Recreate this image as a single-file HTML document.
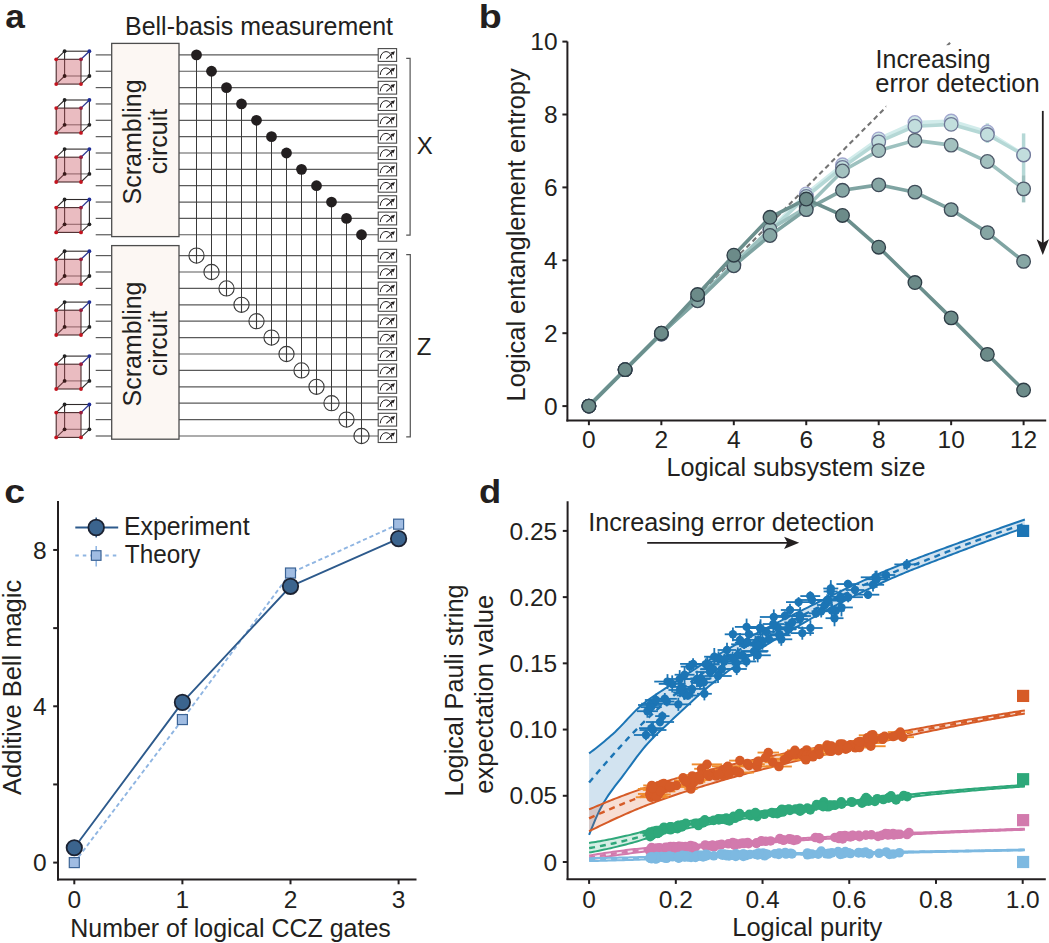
<!DOCTYPE html>
<html><head><meta charset="utf-8"><style>
html,body{margin:0;padding:0;background:#fff;}
svg{display:block;font-family:"Liberation Sans", sans-serif;}
</style></head><body>
<svg width="1049" height="943" viewBox="0 0 1049 943">
<rect width="1049" height="943" fill="#ffffff"/>
<text x="5.20" y="28.40" font-size="33.5" fill="#231f20" font-weight="bold" textLength="19.6" lengthAdjust="spacingAndGlyphs" >a</text>
<text x="125.00" y="35.20" font-size="25" fill="#231f20" textLength="268" lengthAdjust="spacingAndGlyphs" >Bell-basis measurement</text>
<line x1="95.70" y1="54.90" x2="111.70" y2="54.90" stroke="#5a5a5a" stroke-width="1.2" />
<line x1="179.00" y1="54.90" x2="378.20" y2="54.90" stroke="#5a5a5a" stroke-width="1.2" />
<line x1="95.70" y1="71.25" x2="111.70" y2="71.25" stroke="#5a5a5a" stroke-width="1.2" />
<line x1="179.00" y1="71.25" x2="378.20" y2="71.25" stroke="#5a5a5a" stroke-width="1.2" />
<line x1="95.70" y1="87.60" x2="111.70" y2="87.60" stroke="#5a5a5a" stroke-width="1.2" />
<line x1="179.00" y1="87.60" x2="378.20" y2="87.60" stroke="#5a5a5a" stroke-width="1.2" />
<line x1="95.70" y1="103.95" x2="111.70" y2="103.95" stroke="#5a5a5a" stroke-width="1.2" />
<line x1="179.00" y1="103.95" x2="378.20" y2="103.95" stroke="#5a5a5a" stroke-width="1.2" />
<line x1="95.70" y1="120.30" x2="111.70" y2="120.30" stroke="#5a5a5a" stroke-width="1.2" />
<line x1="179.00" y1="120.30" x2="378.20" y2="120.30" stroke="#5a5a5a" stroke-width="1.2" />
<line x1="95.70" y1="136.65" x2="111.70" y2="136.65" stroke="#5a5a5a" stroke-width="1.2" />
<line x1="179.00" y1="136.65" x2="378.20" y2="136.65" stroke="#5a5a5a" stroke-width="1.2" />
<line x1="95.70" y1="153.00" x2="111.70" y2="153.00" stroke="#5a5a5a" stroke-width="1.2" />
<line x1="179.00" y1="153.00" x2="378.20" y2="153.00" stroke="#5a5a5a" stroke-width="1.2" />
<line x1="95.70" y1="169.35" x2="111.70" y2="169.35" stroke="#5a5a5a" stroke-width="1.2" />
<line x1="179.00" y1="169.35" x2="378.20" y2="169.35" stroke="#5a5a5a" stroke-width="1.2" />
<line x1="95.70" y1="185.70" x2="111.70" y2="185.70" stroke="#5a5a5a" stroke-width="1.2" />
<line x1="179.00" y1="185.70" x2="378.20" y2="185.70" stroke="#5a5a5a" stroke-width="1.2" />
<line x1="95.70" y1="202.05" x2="111.70" y2="202.05" stroke="#5a5a5a" stroke-width="1.2" />
<line x1="179.00" y1="202.05" x2="378.20" y2="202.05" stroke="#5a5a5a" stroke-width="1.2" />
<line x1="95.70" y1="218.40" x2="111.70" y2="218.40" stroke="#5a5a5a" stroke-width="1.2" />
<line x1="179.00" y1="218.40" x2="378.20" y2="218.40" stroke="#5a5a5a" stroke-width="1.2" />
<line x1="95.70" y1="234.75" x2="111.70" y2="234.75" stroke="#5a5a5a" stroke-width="1.2" />
<line x1="179.00" y1="234.75" x2="378.20" y2="234.75" stroke="#5a5a5a" stroke-width="1.2" />
<line x1="95.70" y1="255.60" x2="111.70" y2="255.60" stroke="#5a5a5a" stroke-width="1.2" />
<line x1="179.00" y1="255.60" x2="378.20" y2="255.60" stroke="#5a5a5a" stroke-width="1.2" />
<line x1="95.70" y1="272.00" x2="111.70" y2="272.00" stroke="#5a5a5a" stroke-width="1.2" />
<line x1="179.00" y1="272.00" x2="378.20" y2="272.00" stroke="#5a5a5a" stroke-width="1.2" />
<line x1="95.70" y1="288.40" x2="111.70" y2="288.40" stroke="#5a5a5a" stroke-width="1.2" />
<line x1="179.00" y1="288.40" x2="378.20" y2="288.40" stroke="#5a5a5a" stroke-width="1.2" />
<line x1="95.70" y1="304.80" x2="111.70" y2="304.80" stroke="#5a5a5a" stroke-width="1.2" />
<line x1="179.00" y1="304.80" x2="378.20" y2="304.80" stroke="#5a5a5a" stroke-width="1.2" />
<line x1="95.70" y1="321.20" x2="111.70" y2="321.20" stroke="#5a5a5a" stroke-width="1.2" />
<line x1="179.00" y1="321.20" x2="378.20" y2="321.20" stroke="#5a5a5a" stroke-width="1.2" />
<line x1="95.70" y1="337.60" x2="111.70" y2="337.60" stroke="#5a5a5a" stroke-width="1.2" />
<line x1="179.00" y1="337.60" x2="378.20" y2="337.60" stroke="#5a5a5a" stroke-width="1.2" />
<line x1="95.70" y1="354.00" x2="111.70" y2="354.00" stroke="#5a5a5a" stroke-width="1.2" />
<line x1="179.00" y1="354.00" x2="378.20" y2="354.00" stroke="#5a5a5a" stroke-width="1.2" />
<line x1="95.70" y1="370.40" x2="111.70" y2="370.40" stroke="#5a5a5a" stroke-width="1.2" />
<line x1="179.00" y1="370.40" x2="378.20" y2="370.40" stroke="#5a5a5a" stroke-width="1.2" />
<line x1="95.70" y1="386.80" x2="111.70" y2="386.80" stroke="#5a5a5a" stroke-width="1.2" />
<line x1="179.00" y1="386.80" x2="378.20" y2="386.80" stroke="#5a5a5a" stroke-width="1.2" />
<line x1="95.70" y1="403.20" x2="111.70" y2="403.20" stroke="#5a5a5a" stroke-width="1.2" />
<line x1="179.00" y1="403.20" x2="378.20" y2="403.20" stroke="#5a5a5a" stroke-width="1.2" />
<line x1="95.70" y1="419.60" x2="111.70" y2="419.60" stroke="#5a5a5a" stroke-width="1.2" />
<line x1="179.00" y1="419.60" x2="378.20" y2="419.60" stroke="#5a5a5a" stroke-width="1.2" />
<line x1="95.70" y1="436.00" x2="111.70" y2="436.00" stroke="#5a5a5a" stroke-width="1.2" />
<line x1="179.00" y1="436.00" x2="378.20" y2="436.00" stroke="#5a5a5a" stroke-width="1.2" />
<rect x="111.70" y="43.40" width="67.30" height="193.20" fill="#fcf7f3" stroke="#4d4d4d" stroke-width="1.3" />
<rect x="111.70" y="245.60" width="67.30" height="193.60" fill="#fcf7f3" stroke="#4d4d4d" stroke-width="1.3" />
<text transform="translate(141.40,141.90) rotate(-90)" font-size="25" fill="#231f20" text-anchor="middle" >Scrambling</text>
<text transform="translate(166.80,141.50) rotate(-90)" font-size="25" fill="#231f20" text-anchor="middle" >circuit</text>
<text transform="translate(141.40,344.00) rotate(-90)" font-size="25" fill="#231f20" text-anchor="middle" >Scrambling</text>
<text transform="translate(166.80,343.50) rotate(-90)" font-size="25" fill="#231f20" text-anchor="middle" >circuit</text>
<line x1="196.50" y1="54.90" x2="196.50" y2="263.30" stroke="#3a3a3a" stroke-width="1.05" />
<line x1="211.50" y1="71.25" x2="211.50" y2="279.70" stroke="#3a3a3a" stroke-width="1.05" />
<line x1="226.50" y1="87.60" x2="226.50" y2="296.10" stroke="#3a3a3a" stroke-width="1.05" />
<line x1="241.50" y1="103.95" x2="241.50" y2="312.50" stroke="#3a3a3a" stroke-width="1.05" />
<line x1="256.50" y1="120.30" x2="256.50" y2="328.90" stroke="#3a3a3a" stroke-width="1.05" />
<line x1="271.50" y1="136.65" x2="271.50" y2="345.30" stroke="#3a3a3a" stroke-width="1.05" />
<line x1="286.50" y1="153.00" x2="286.50" y2="361.70" stroke="#3a3a3a" stroke-width="1.05" />
<line x1="301.50" y1="169.35" x2="301.50" y2="378.10" stroke="#3a3a3a" stroke-width="1.05" />
<line x1="316.50" y1="185.70" x2="316.50" y2="394.50" stroke="#3a3a3a" stroke-width="1.05" />
<line x1="331.50" y1="202.05" x2="331.50" y2="410.90" stroke="#3a3a3a" stroke-width="1.05" />
<line x1="346.50" y1="218.40" x2="346.50" y2="427.30" stroke="#3a3a3a" stroke-width="1.05" />
<line x1="361.50" y1="234.75" x2="361.50" y2="443.70" stroke="#3a3a3a" stroke-width="1.05" />
<circle cx="196.50" cy="54.90" r="5.4" fill="#231f20" stroke="none" stroke-width="1" />
<circle cx="196.50" cy="255.60" r="7.6" fill="#ffffff" stroke="#3a3a3a" stroke-width="1.1" />
<line x1="188.90" y1="255.60" x2="204.10" y2="255.60" stroke="#3a3a3a" stroke-width="1.1" />
<line x1="196.50" y1="248.00" x2="196.50" y2="263.20" stroke="#3a3a3a" stroke-width="1.1" />
<circle cx="211.50" cy="71.25" r="5.4" fill="#231f20" stroke="none" stroke-width="1" />
<circle cx="211.50" cy="272.00" r="7.6" fill="#ffffff" stroke="#3a3a3a" stroke-width="1.1" />
<line x1="203.90" y1="272.00" x2="219.10" y2="272.00" stroke="#3a3a3a" stroke-width="1.1" />
<line x1="211.50" y1="264.40" x2="211.50" y2="279.60" stroke="#3a3a3a" stroke-width="1.1" />
<circle cx="226.50" cy="87.60" r="5.4" fill="#231f20" stroke="none" stroke-width="1" />
<circle cx="226.50" cy="288.40" r="7.6" fill="#ffffff" stroke="#3a3a3a" stroke-width="1.1" />
<line x1="218.90" y1="288.40" x2="234.10" y2="288.40" stroke="#3a3a3a" stroke-width="1.1" />
<line x1="226.50" y1="280.80" x2="226.50" y2="296.00" stroke="#3a3a3a" stroke-width="1.1" />
<circle cx="241.50" cy="103.95" r="5.4" fill="#231f20" stroke="none" stroke-width="1" />
<circle cx="241.50" cy="304.80" r="7.6" fill="#ffffff" stroke="#3a3a3a" stroke-width="1.1" />
<line x1="233.90" y1="304.80" x2="249.10" y2="304.80" stroke="#3a3a3a" stroke-width="1.1" />
<line x1="241.50" y1="297.20" x2="241.50" y2="312.40" stroke="#3a3a3a" stroke-width="1.1" />
<circle cx="256.50" cy="120.30" r="5.4" fill="#231f20" stroke="none" stroke-width="1" />
<circle cx="256.50" cy="321.20" r="7.6" fill="#ffffff" stroke="#3a3a3a" stroke-width="1.1" />
<line x1="248.90" y1="321.20" x2="264.10" y2="321.20" stroke="#3a3a3a" stroke-width="1.1" />
<line x1="256.50" y1="313.60" x2="256.50" y2="328.80" stroke="#3a3a3a" stroke-width="1.1" />
<circle cx="271.50" cy="136.65" r="5.4" fill="#231f20" stroke="none" stroke-width="1" />
<circle cx="271.50" cy="337.60" r="7.6" fill="#ffffff" stroke="#3a3a3a" stroke-width="1.1" />
<line x1="263.90" y1="337.60" x2="279.10" y2="337.60" stroke="#3a3a3a" stroke-width="1.1" />
<line x1="271.50" y1="330.00" x2="271.50" y2="345.20" stroke="#3a3a3a" stroke-width="1.1" />
<circle cx="286.50" cy="153.00" r="5.4" fill="#231f20" stroke="none" stroke-width="1" />
<circle cx="286.50" cy="354.00" r="7.6" fill="#ffffff" stroke="#3a3a3a" stroke-width="1.1" />
<line x1="278.90" y1="354.00" x2="294.10" y2="354.00" stroke="#3a3a3a" stroke-width="1.1" />
<line x1="286.50" y1="346.40" x2="286.50" y2="361.60" stroke="#3a3a3a" stroke-width="1.1" />
<circle cx="301.50" cy="169.35" r="5.4" fill="#231f20" stroke="none" stroke-width="1" />
<circle cx="301.50" cy="370.40" r="7.6" fill="#ffffff" stroke="#3a3a3a" stroke-width="1.1" />
<line x1="293.90" y1="370.40" x2="309.10" y2="370.40" stroke="#3a3a3a" stroke-width="1.1" />
<line x1="301.50" y1="362.80" x2="301.50" y2="378.00" stroke="#3a3a3a" stroke-width="1.1" />
<circle cx="316.50" cy="185.70" r="5.4" fill="#231f20" stroke="none" stroke-width="1" />
<circle cx="316.50" cy="386.80" r="7.6" fill="#ffffff" stroke="#3a3a3a" stroke-width="1.1" />
<line x1="308.90" y1="386.80" x2="324.10" y2="386.80" stroke="#3a3a3a" stroke-width="1.1" />
<line x1="316.50" y1="379.20" x2="316.50" y2="394.40" stroke="#3a3a3a" stroke-width="1.1" />
<circle cx="331.50" cy="202.05" r="5.4" fill="#231f20" stroke="none" stroke-width="1" />
<circle cx="331.50" cy="403.20" r="7.6" fill="#ffffff" stroke="#3a3a3a" stroke-width="1.1" />
<line x1="323.90" y1="403.20" x2="339.10" y2="403.20" stroke="#3a3a3a" stroke-width="1.1" />
<line x1="331.50" y1="395.60" x2="331.50" y2="410.80" stroke="#3a3a3a" stroke-width="1.1" />
<circle cx="346.50" cy="218.40" r="5.4" fill="#231f20" stroke="none" stroke-width="1" />
<circle cx="346.50" cy="419.60" r="7.6" fill="#ffffff" stroke="#3a3a3a" stroke-width="1.1" />
<line x1="338.90" y1="419.60" x2="354.10" y2="419.60" stroke="#3a3a3a" stroke-width="1.1" />
<line x1="346.50" y1="412.00" x2="346.50" y2="427.20" stroke="#3a3a3a" stroke-width="1.1" />
<circle cx="361.50" cy="234.75" r="5.4" fill="#231f20" stroke="none" stroke-width="1" />
<circle cx="361.50" cy="436.00" r="7.6" fill="#ffffff" stroke="#3a3a3a" stroke-width="1.1" />
<line x1="353.90" y1="436.00" x2="369.10" y2="436.00" stroke="#3a3a3a" stroke-width="1.1" />
<line x1="361.50" y1="428.40" x2="361.50" y2="443.60" stroke="#3a3a3a" stroke-width="1.1" />
<rect x="378.20" y="48.60" width="18.40" height="12.80" fill="#ffffff" stroke="#4a4a4a" stroke-width="1.1" />
<path d="M380.30,58.60 A5.8,6.9 0 0 1 391.90,58.40" fill="none" stroke="#231f20" stroke-width="1.0"/>
<line x1="386.30" y1="58.60" x2="392.80" y2="53.20" stroke="#231f20" stroke-width="1.1" />
<path d="M395.00,51.30 L390.40,52.40 L393.40,55.30 Z" fill="#231f20"/>
<rect x="378.20" y="64.95" width="18.40" height="12.80" fill="#ffffff" stroke="#4a4a4a" stroke-width="1.1" />
<path d="M380.30,74.95 A5.8,6.9 0 0 1 391.90,74.75" fill="none" stroke="#231f20" stroke-width="1.0"/>
<line x1="386.30" y1="74.95" x2="392.80" y2="69.55" stroke="#231f20" stroke-width="1.1" />
<path d="M395.00,67.65 L390.40,68.75 L393.40,71.65 Z" fill="#231f20"/>
<rect x="378.20" y="81.30" width="18.40" height="12.80" fill="#ffffff" stroke="#4a4a4a" stroke-width="1.1" />
<path d="M380.30,91.30 A5.8,6.9 0 0 1 391.90,91.10" fill="none" stroke="#231f20" stroke-width="1.0"/>
<line x1="386.30" y1="91.30" x2="392.80" y2="85.90" stroke="#231f20" stroke-width="1.1" />
<path d="M395.00,84.00 L390.40,85.10 L393.40,88.00 Z" fill="#231f20"/>
<rect x="378.20" y="97.65" width="18.40" height="12.80" fill="#ffffff" stroke="#4a4a4a" stroke-width="1.1" />
<path d="M380.30,107.65 A5.8,6.9 0 0 1 391.90,107.45" fill="none" stroke="#231f20" stroke-width="1.0"/>
<line x1="386.30" y1="107.65" x2="392.80" y2="102.25" stroke="#231f20" stroke-width="1.1" />
<path d="M395.00,100.35 L390.40,101.45 L393.40,104.35 Z" fill="#231f20"/>
<rect x="378.20" y="114.00" width="18.40" height="12.80" fill="#ffffff" stroke="#4a4a4a" stroke-width="1.1" />
<path d="M380.30,124.00 A5.8,6.9 0 0 1 391.90,123.80" fill="none" stroke="#231f20" stroke-width="1.0"/>
<line x1="386.30" y1="124.00" x2="392.80" y2="118.60" stroke="#231f20" stroke-width="1.1" />
<path d="M395.00,116.70 L390.40,117.80 L393.40,120.70 Z" fill="#231f20"/>
<rect x="378.20" y="130.35" width="18.40" height="12.80" fill="#ffffff" stroke="#4a4a4a" stroke-width="1.1" />
<path d="M380.30,140.35 A5.8,6.9 0 0 1 391.90,140.15" fill="none" stroke="#231f20" stroke-width="1.0"/>
<line x1="386.30" y1="140.35" x2="392.80" y2="134.95" stroke="#231f20" stroke-width="1.1" />
<path d="M395.00,133.05 L390.40,134.15 L393.40,137.05 Z" fill="#231f20"/>
<rect x="378.20" y="146.70" width="18.40" height="12.80" fill="#ffffff" stroke="#4a4a4a" stroke-width="1.1" />
<path d="M380.30,156.70 A5.8,6.9 0 0 1 391.90,156.50" fill="none" stroke="#231f20" stroke-width="1.0"/>
<line x1="386.30" y1="156.70" x2="392.80" y2="151.30" stroke="#231f20" stroke-width="1.1" />
<path d="M395.00,149.40 L390.40,150.50 L393.40,153.40 Z" fill="#231f20"/>
<rect x="378.20" y="163.05" width="18.40" height="12.80" fill="#ffffff" stroke="#4a4a4a" stroke-width="1.1" />
<path d="M380.30,173.05 A5.8,6.9 0 0 1 391.90,172.85" fill="none" stroke="#231f20" stroke-width="1.0"/>
<line x1="386.30" y1="173.05" x2="392.80" y2="167.65" stroke="#231f20" stroke-width="1.1" />
<path d="M395.00,165.75 L390.40,166.85 L393.40,169.75 Z" fill="#231f20"/>
<rect x="378.20" y="179.40" width="18.40" height="12.80" fill="#ffffff" stroke="#4a4a4a" stroke-width="1.1" />
<path d="M380.30,189.40 A5.8,6.9 0 0 1 391.90,189.20" fill="none" stroke="#231f20" stroke-width="1.0"/>
<line x1="386.30" y1="189.40" x2="392.80" y2="184.00" stroke="#231f20" stroke-width="1.1" />
<path d="M395.00,182.10 L390.40,183.20 L393.40,186.10 Z" fill="#231f20"/>
<rect x="378.20" y="195.75" width="18.40" height="12.80" fill="#ffffff" stroke="#4a4a4a" stroke-width="1.1" />
<path d="M380.30,205.75 A5.8,6.9 0 0 1 391.90,205.55" fill="none" stroke="#231f20" stroke-width="1.0"/>
<line x1="386.30" y1="205.75" x2="392.80" y2="200.35" stroke="#231f20" stroke-width="1.1" />
<path d="M395.00,198.45 L390.40,199.55 L393.40,202.45 Z" fill="#231f20"/>
<rect x="378.20" y="212.10" width="18.40" height="12.80" fill="#ffffff" stroke="#4a4a4a" stroke-width="1.1" />
<path d="M380.30,222.10 A5.8,6.9 0 0 1 391.90,221.90" fill="none" stroke="#231f20" stroke-width="1.0"/>
<line x1="386.30" y1="222.10" x2="392.80" y2="216.70" stroke="#231f20" stroke-width="1.1" />
<path d="M395.00,214.80 L390.40,215.90 L393.40,218.80 Z" fill="#231f20"/>
<rect x="378.20" y="228.45" width="18.40" height="12.80" fill="#ffffff" stroke="#4a4a4a" stroke-width="1.1" />
<path d="M380.30,238.45 A5.8,6.9 0 0 1 391.90,238.25" fill="none" stroke="#231f20" stroke-width="1.0"/>
<line x1="386.30" y1="238.45" x2="392.80" y2="233.05" stroke="#231f20" stroke-width="1.1" />
<path d="M395.00,231.15 L390.40,232.25 L393.40,235.15 Z" fill="#231f20"/>
<rect x="378.20" y="249.30" width="18.40" height="12.80" fill="#ffffff" stroke="#4a4a4a" stroke-width="1.1" />
<path d="M380.30,259.30 A5.8,6.9 0 0 1 391.90,259.10" fill="none" stroke="#231f20" stroke-width="1.0"/>
<line x1="386.30" y1="259.30" x2="392.80" y2="253.90" stroke="#231f20" stroke-width="1.1" />
<path d="M395.00,252.00 L390.40,253.10 L393.40,256.00 Z" fill="#231f20"/>
<rect x="378.20" y="265.70" width="18.40" height="12.80" fill="#ffffff" stroke="#4a4a4a" stroke-width="1.1" />
<path d="M380.30,275.70 A5.8,6.9 0 0 1 391.90,275.50" fill="none" stroke="#231f20" stroke-width="1.0"/>
<line x1="386.30" y1="275.70" x2="392.80" y2="270.30" stroke="#231f20" stroke-width="1.1" />
<path d="M395.00,268.40 L390.40,269.50 L393.40,272.40 Z" fill="#231f20"/>
<rect x="378.20" y="282.10" width="18.40" height="12.80" fill="#ffffff" stroke="#4a4a4a" stroke-width="1.1" />
<path d="M380.30,292.10 A5.8,6.9 0 0 1 391.90,291.90" fill="none" stroke="#231f20" stroke-width="1.0"/>
<line x1="386.30" y1="292.10" x2="392.80" y2="286.70" stroke="#231f20" stroke-width="1.1" />
<path d="M395.00,284.80 L390.40,285.90 L393.40,288.80 Z" fill="#231f20"/>
<rect x="378.20" y="298.50" width="18.40" height="12.80" fill="#ffffff" stroke="#4a4a4a" stroke-width="1.1" />
<path d="M380.30,308.50 A5.8,6.9 0 0 1 391.90,308.30" fill="none" stroke="#231f20" stroke-width="1.0"/>
<line x1="386.30" y1="308.50" x2="392.80" y2="303.10" stroke="#231f20" stroke-width="1.1" />
<path d="M395.00,301.20 L390.40,302.30 L393.40,305.20 Z" fill="#231f20"/>
<rect x="378.20" y="314.90" width="18.40" height="12.80" fill="#ffffff" stroke="#4a4a4a" stroke-width="1.1" />
<path d="M380.30,324.90 A5.8,6.9 0 0 1 391.90,324.70" fill="none" stroke="#231f20" stroke-width="1.0"/>
<line x1="386.30" y1="324.90" x2="392.80" y2="319.50" stroke="#231f20" stroke-width="1.1" />
<path d="M395.00,317.60 L390.40,318.70 L393.40,321.60 Z" fill="#231f20"/>
<rect x="378.20" y="331.30" width="18.40" height="12.80" fill="#ffffff" stroke="#4a4a4a" stroke-width="1.1" />
<path d="M380.30,341.30 A5.8,6.9 0 0 1 391.90,341.10" fill="none" stroke="#231f20" stroke-width="1.0"/>
<line x1="386.30" y1="341.30" x2="392.80" y2="335.90" stroke="#231f20" stroke-width="1.1" />
<path d="M395.00,334.00 L390.40,335.10 L393.40,338.00 Z" fill="#231f20"/>
<rect x="378.20" y="347.70" width="18.40" height="12.80" fill="#ffffff" stroke="#4a4a4a" stroke-width="1.1" />
<path d="M380.30,357.70 A5.8,6.9 0 0 1 391.90,357.50" fill="none" stroke="#231f20" stroke-width="1.0"/>
<line x1="386.30" y1="357.70" x2="392.80" y2="352.30" stroke="#231f20" stroke-width="1.1" />
<path d="M395.00,350.40 L390.40,351.50 L393.40,354.40 Z" fill="#231f20"/>
<rect x="378.20" y="364.10" width="18.40" height="12.80" fill="#ffffff" stroke="#4a4a4a" stroke-width="1.1" />
<path d="M380.30,374.10 A5.8,6.9 0 0 1 391.90,373.90" fill="none" stroke="#231f20" stroke-width="1.0"/>
<line x1="386.30" y1="374.10" x2="392.80" y2="368.70" stroke="#231f20" stroke-width="1.1" />
<path d="M395.00,366.80 L390.40,367.90 L393.40,370.80 Z" fill="#231f20"/>
<rect x="378.20" y="380.50" width="18.40" height="12.80" fill="#ffffff" stroke="#4a4a4a" stroke-width="1.1" />
<path d="M380.30,390.50 A5.8,6.9 0 0 1 391.90,390.30" fill="none" stroke="#231f20" stroke-width="1.0"/>
<line x1="386.30" y1="390.50" x2="392.80" y2="385.10" stroke="#231f20" stroke-width="1.1" />
<path d="M395.00,383.20 L390.40,384.30 L393.40,387.20 Z" fill="#231f20"/>
<rect x="378.20" y="396.90" width="18.40" height="12.80" fill="#ffffff" stroke="#4a4a4a" stroke-width="1.1" />
<path d="M380.30,406.90 A5.8,6.9 0 0 1 391.90,406.70" fill="none" stroke="#231f20" stroke-width="1.0"/>
<line x1="386.30" y1="406.90" x2="392.80" y2="401.50" stroke="#231f20" stroke-width="1.1" />
<path d="M395.00,399.60 L390.40,400.70 L393.40,403.60 Z" fill="#231f20"/>
<rect x="378.20" y="413.30" width="18.40" height="12.80" fill="#ffffff" stroke="#4a4a4a" stroke-width="1.1" />
<path d="M380.30,423.30 A5.8,6.9 0 0 1 391.90,423.10" fill="none" stroke="#231f20" stroke-width="1.0"/>
<line x1="386.30" y1="423.30" x2="392.80" y2="417.90" stroke="#231f20" stroke-width="1.1" />
<path d="M395.00,416.00 L390.40,417.10 L393.40,420.00 Z" fill="#231f20"/>
<rect x="378.20" y="429.70" width="18.40" height="12.80" fill="#ffffff" stroke="#4a4a4a" stroke-width="1.1" />
<path d="M380.30,439.70 A5.8,6.9 0 0 1 391.90,439.50" fill="none" stroke="#231f20" stroke-width="1.0"/>
<line x1="386.30" y1="439.70" x2="392.80" y2="434.30" stroke="#231f20" stroke-width="1.1" />
<path d="M395.00,432.40 L390.40,433.50 L393.40,436.40 Z" fill="#231f20"/>
<path d="M406.2,58.4 H410.1 V235.2 H406.2" fill="none" stroke="#555555" stroke-width="1.2"/>
<path d="M406.2,254.7 H410.3 V436.8 H406.2" fill="none" stroke="#555555" stroke-width="1.2"/>
<text x="416.80" y="154.10" font-size="24" fill="#231f20" >X</text>
<text x="416.80" y="354.80" font-size="24" fill="#231f20" >Z</text>
<line x1="64.60" y1="51.20" x2="89.40" y2="51.20" stroke="#2f2a2a" stroke-width="1.1" />
<line x1="89.40" y1="51.20" x2="89.40" y2="76.00" stroke="#2f2a2a" stroke-width="1.1" />
<line x1="64.60" y1="51.20" x2="64.60" y2="76.00" stroke="#2f2a2a" stroke-width="1.1" />
<line x1="64.60" y1="76.00" x2="89.40" y2="76.00" stroke="#777" stroke-width="1.1" />
<line x1="56.20" y1="59.30" x2="64.60" y2="51.20" stroke="#2f2a2a" stroke-width="1.1" />
<line x1="56.20" y1="84.10" x2="64.60" y2="76.00" stroke="#2f2a2a" stroke-width="1.1" />
<line x1="81.00" y1="84.10" x2="89.40" y2="76.00" stroke="#2f2a2a" stroke-width="1.1" />
<line x1="81.00" y1="59.30" x2="89.40" y2="51.20" stroke="#2b3590" stroke-width="1.3" />
<rect x="56.20" y="59.30" width="24.8" height="24.8" fill="#c8505c" fill-opacity="0.38" stroke="#4a2a2d" stroke-width="1.1"/>
<circle cx="64.60" cy="51.20" r="1.9" fill="#222" stroke="none" stroke-width="1" />
<circle cx="64.60" cy="76.00" r="1.9" fill="#3a1a1a" stroke="none" stroke-width="1" />
<circle cx="89.40" cy="76.00" r="1.9" fill="#222" stroke="none" stroke-width="1" />
<circle cx="89.40" cy="51.20" r="1.9" fill="#1f2d96" stroke="none" stroke-width="1" />
<circle cx="56.20" cy="59.30" r="1.9" fill="#c3141f" stroke="none" stroke-width="1" />
<circle cx="56.20" cy="84.10" r="1.9" fill="#c3141f" stroke="none" stroke-width="1" />
<circle cx="81.00" cy="84.10" r="1.9" fill="#c3141f" stroke="none" stroke-width="1" />
<circle cx="81.00" cy="59.30" r="1.9" fill="#9a1a3a" stroke="none" stroke-width="1" />
<line x1="64.60" y1="100.00" x2="89.40" y2="100.00" stroke="#2f2a2a" stroke-width="1.1" />
<line x1="89.40" y1="100.00" x2="89.40" y2="124.80" stroke="#2f2a2a" stroke-width="1.1" />
<line x1="64.60" y1="100.00" x2="64.60" y2="124.80" stroke="#2f2a2a" stroke-width="1.1" />
<line x1="64.60" y1="124.80" x2="89.40" y2="124.80" stroke="#777" stroke-width="1.1" />
<line x1="56.20" y1="108.10" x2="64.60" y2="100.00" stroke="#2f2a2a" stroke-width="1.1" />
<line x1="56.20" y1="132.90" x2="64.60" y2="124.80" stroke="#2f2a2a" stroke-width="1.1" />
<line x1="81.00" y1="132.90" x2="89.40" y2="124.80" stroke="#2f2a2a" stroke-width="1.1" />
<line x1="81.00" y1="108.10" x2="89.40" y2="100.00" stroke="#2b3590" stroke-width="1.3" />
<rect x="56.20" y="108.10" width="24.8" height="24.8" fill="#c8505c" fill-opacity="0.38" stroke="#4a2a2d" stroke-width="1.1"/>
<circle cx="64.60" cy="100.00" r="1.9" fill="#222" stroke="none" stroke-width="1" />
<circle cx="64.60" cy="124.80" r="1.9" fill="#3a1a1a" stroke="none" stroke-width="1" />
<circle cx="89.40" cy="124.80" r="1.9" fill="#222" stroke="none" stroke-width="1" />
<circle cx="89.40" cy="100.00" r="1.9" fill="#1f2d96" stroke="none" stroke-width="1" />
<circle cx="56.20" cy="108.10" r="1.9" fill="#c3141f" stroke="none" stroke-width="1" />
<circle cx="56.20" cy="132.90" r="1.9" fill="#c3141f" stroke="none" stroke-width="1" />
<circle cx="81.00" cy="132.90" r="1.9" fill="#c3141f" stroke="none" stroke-width="1" />
<circle cx="81.00" cy="108.10" r="1.9" fill="#9a1a3a" stroke="none" stroke-width="1" />
<line x1="64.60" y1="149.10" x2="89.40" y2="149.10" stroke="#2f2a2a" stroke-width="1.1" />
<line x1="89.40" y1="149.10" x2="89.40" y2="173.90" stroke="#2f2a2a" stroke-width="1.1" />
<line x1="64.60" y1="149.10" x2="64.60" y2="173.90" stroke="#2f2a2a" stroke-width="1.1" />
<line x1="64.60" y1="173.90" x2="89.40" y2="173.90" stroke="#777" stroke-width="1.1" />
<line x1="56.20" y1="157.20" x2="64.60" y2="149.10" stroke="#2f2a2a" stroke-width="1.1" />
<line x1="56.20" y1="182.00" x2="64.60" y2="173.90" stroke="#2f2a2a" stroke-width="1.1" />
<line x1="81.00" y1="182.00" x2="89.40" y2="173.90" stroke="#2f2a2a" stroke-width="1.1" />
<line x1="81.00" y1="157.20" x2="89.40" y2="149.10" stroke="#2b3590" stroke-width="1.3" />
<rect x="56.20" y="157.20" width="24.8" height="24.8" fill="#c8505c" fill-opacity="0.38" stroke="#4a2a2d" stroke-width="1.1"/>
<circle cx="64.60" cy="149.10" r="1.9" fill="#222" stroke="none" stroke-width="1" />
<circle cx="64.60" cy="173.90" r="1.9" fill="#3a1a1a" stroke="none" stroke-width="1" />
<circle cx="89.40" cy="173.90" r="1.9" fill="#222" stroke="none" stroke-width="1" />
<circle cx="89.40" cy="149.10" r="1.9" fill="#1f2d96" stroke="none" stroke-width="1" />
<circle cx="56.20" cy="157.20" r="1.9" fill="#c3141f" stroke="none" stroke-width="1" />
<circle cx="56.20" cy="182.00" r="1.9" fill="#c3141f" stroke="none" stroke-width="1" />
<circle cx="81.00" cy="182.00" r="1.9" fill="#c3141f" stroke="none" stroke-width="1" />
<circle cx="81.00" cy="157.20" r="1.9" fill="#9a1a3a" stroke="none" stroke-width="1" />
<line x1="64.60" y1="199.50" x2="89.40" y2="199.50" stroke="#2f2a2a" stroke-width="1.1" />
<line x1="89.40" y1="199.50" x2="89.40" y2="224.30" stroke="#2f2a2a" stroke-width="1.1" />
<line x1="64.60" y1="199.50" x2="64.60" y2="224.30" stroke="#2f2a2a" stroke-width="1.1" />
<line x1="64.60" y1="224.30" x2="89.40" y2="224.30" stroke="#777" stroke-width="1.1" />
<line x1="56.20" y1="207.60" x2="64.60" y2="199.50" stroke="#2f2a2a" stroke-width="1.1" />
<line x1="56.20" y1="232.40" x2="64.60" y2="224.30" stroke="#2f2a2a" stroke-width="1.1" />
<line x1="81.00" y1="232.40" x2="89.40" y2="224.30" stroke="#2f2a2a" stroke-width="1.1" />
<line x1="81.00" y1="207.60" x2="89.40" y2="199.50" stroke="#2b3590" stroke-width="1.3" />
<rect x="56.20" y="207.60" width="24.8" height="24.8" fill="#c8505c" fill-opacity="0.38" stroke="#4a2a2d" stroke-width="1.1"/>
<circle cx="64.60" cy="199.50" r="1.9" fill="#222" stroke="none" stroke-width="1" />
<circle cx="64.60" cy="224.30" r="1.9" fill="#3a1a1a" stroke="none" stroke-width="1" />
<circle cx="89.40" cy="224.30" r="1.9" fill="#222" stroke="none" stroke-width="1" />
<circle cx="89.40" cy="199.50" r="1.9" fill="#1f2d96" stroke="none" stroke-width="1" />
<circle cx="56.20" cy="207.60" r="1.9" fill="#c3141f" stroke="none" stroke-width="1" />
<circle cx="56.20" cy="232.40" r="1.9" fill="#c3141f" stroke="none" stroke-width="1" />
<circle cx="81.00" cy="232.40" r="1.9" fill="#c3141f" stroke="none" stroke-width="1" />
<circle cx="81.00" cy="207.60" r="1.9" fill="#9a1a3a" stroke="none" stroke-width="1" />
<line x1="64.60" y1="251.20" x2="89.40" y2="251.20" stroke="#2f2a2a" stroke-width="1.1" />
<line x1="89.40" y1="251.20" x2="89.40" y2="276.00" stroke="#2f2a2a" stroke-width="1.1" />
<line x1="64.60" y1="251.20" x2="64.60" y2="276.00" stroke="#2f2a2a" stroke-width="1.1" />
<line x1="64.60" y1="276.00" x2="89.40" y2="276.00" stroke="#777" stroke-width="1.1" />
<line x1="56.20" y1="259.30" x2="64.60" y2="251.20" stroke="#2f2a2a" stroke-width="1.1" />
<line x1="56.20" y1="284.10" x2="64.60" y2="276.00" stroke="#2f2a2a" stroke-width="1.1" />
<line x1="81.00" y1="284.10" x2="89.40" y2="276.00" stroke="#2f2a2a" stroke-width="1.1" />
<line x1="81.00" y1="259.30" x2="89.40" y2="251.20" stroke="#2b3590" stroke-width="1.3" />
<rect x="56.20" y="259.30" width="24.8" height="24.8" fill="#c8505c" fill-opacity="0.38" stroke="#4a2a2d" stroke-width="1.1"/>
<circle cx="64.60" cy="251.20" r="1.9" fill="#222" stroke="none" stroke-width="1" />
<circle cx="64.60" cy="276.00" r="1.9" fill="#3a1a1a" stroke="none" stroke-width="1" />
<circle cx="89.40" cy="276.00" r="1.9" fill="#222" stroke="none" stroke-width="1" />
<circle cx="89.40" cy="251.20" r="1.9" fill="#1f2d96" stroke="none" stroke-width="1" />
<circle cx="56.20" cy="259.30" r="1.9" fill="#c3141f" stroke="none" stroke-width="1" />
<circle cx="56.20" cy="284.10" r="1.9" fill="#c3141f" stroke="none" stroke-width="1" />
<circle cx="81.00" cy="284.10" r="1.9" fill="#c3141f" stroke="none" stroke-width="1" />
<circle cx="81.00" cy="259.30" r="1.9" fill="#9a1a3a" stroke="none" stroke-width="1" />
<line x1="64.60" y1="302.10" x2="89.40" y2="302.10" stroke="#2f2a2a" stroke-width="1.1" />
<line x1="89.40" y1="302.10" x2="89.40" y2="326.90" stroke="#2f2a2a" stroke-width="1.1" />
<line x1="64.60" y1="302.10" x2="64.60" y2="326.90" stroke="#2f2a2a" stroke-width="1.1" />
<line x1="64.60" y1="326.90" x2="89.40" y2="326.90" stroke="#777" stroke-width="1.1" />
<line x1="56.20" y1="310.20" x2="64.60" y2="302.10" stroke="#2f2a2a" stroke-width="1.1" />
<line x1="56.20" y1="335.00" x2="64.60" y2="326.90" stroke="#2f2a2a" stroke-width="1.1" />
<line x1="81.00" y1="335.00" x2="89.40" y2="326.90" stroke="#2f2a2a" stroke-width="1.1" />
<line x1="81.00" y1="310.20" x2="89.40" y2="302.10" stroke="#2b3590" stroke-width="1.3" />
<rect x="56.20" y="310.20" width="24.8" height="24.8" fill="#c8505c" fill-opacity="0.38" stroke="#4a2a2d" stroke-width="1.1"/>
<circle cx="64.60" cy="302.10" r="1.9" fill="#222" stroke="none" stroke-width="1" />
<circle cx="64.60" cy="326.90" r="1.9" fill="#3a1a1a" stroke="none" stroke-width="1" />
<circle cx="89.40" cy="326.90" r="1.9" fill="#222" stroke="none" stroke-width="1" />
<circle cx="89.40" cy="302.10" r="1.9" fill="#1f2d96" stroke="none" stroke-width="1" />
<circle cx="56.20" cy="310.20" r="1.9" fill="#c3141f" stroke="none" stroke-width="1" />
<circle cx="56.20" cy="335.00" r="1.9" fill="#c3141f" stroke="none" stroke-width="1" />
<circle cx="81.00" cy="335.00" r="1.9" fill="#c3141f" stroke="none" stroke-width="1" />
<circle cx="81.00" cy="310.20" r="1.9" fill="#9a1a3a" stroke="none" stroke-width="1" />
<line x1="64.60" y1="356.10" x2="89.40" y2="356.10" stroke="#2f2a2a" stroke-width="1.1" />
<line x1="89.40" y1="356.10" x2="89.40" y2="380.90" stroke="#2f2a2a" stroke-width="1.1" />
<line x1="64.60" y1="356.10" x2="64.60" y2="380.90" stroke="#2f2a2a" stroke-width="1.1" />
<line x1="64.60" y1="380.90" x2="89.40" y2="380.90" stroke="#777" stroke-width="1.1" />
<line x1="56.20" y1="364.20" x2="64.60" y2="356.10" stroke="#2f2a2a" stroke-width="1.1" />
<line x1="56.20" y1="389.00" x2="64.60" y2="380.90" stroke="#2f2a2a" stroke-width="1.1" />
<line x1="81.00" y1="389.00" x2="89.40" y2="380.90" stroke="#2f2a2a" stroke-width="1.1" />
<line x1="81.00" y1="364.20" x2="89.40" y2="356.10" stroke="#2b3590" stroke-width="1.3" />
<rect x="56.20" y="364.20" width="24.8" height="24.8" fill="#c8505c" fill-opacity="0.38" stroke="#4a2a2d" stroke-width="1.1"/>
<circle cx="64.60" cy="356.10" r="1.9" fill="#222" stroke="none" stroke-width="1" />
<circle cx="64.60" cy="380.90" r="1.9" fill="#3a1a1a" stroke="none" stroke-width="1" />
<circle cx="89.40" cy="380.90" r="1.9" fill="#222" stroke="none" stroke-width="1" />
<circle cx="89.40" cy="356.10" r="1.9" fill="#1f2d96" stroke="none" stroke-width="1" />
<circle cx="56.20" cy="364.20" r="1.9" fill="#c3141f" stroke="none" stroke-width="1" />
<circle cx="56.20" cy="389.00" r="1.9" fill="#c3141f" stroke="none" stroke-width="1" />
<circle cx="81.00" cy="389.00" r="1.9" fill="#c3141f" stroke="none" stroke-width="1" />
<circle cx="81.00" cy="364.20" r="1.9" fill="#9a1a3a" stroke="none" stroke-width="1" />
<line x1="64.60" y1="404.50" x2="89.40" y2="404.50" stroke="#2f2a2a" stroke-width="1.1" />
<line x1="89.40" y1="404.50" x2="89.40" y2="429.30" stroke="#2f2a2a" stroke-width="1.1" />
<line x1="64.60" y1="404.50" x2="64.60" y2="429.30" stroke="#2f2a2a" stroke-width="1.1" />
<line x1="64.60" y1="429.30" x2="89.40" y2="429.30" stroke="#777" stroke-width="1.1" />
<line x1="56.20" y1="412.60" x2="64.60" y2="404.50" stroke="#2f2a2a" stroke-width="1.1" />
<line x1="56.20" y1="437.40" x2="64.60" y2="429.30" stroke="#2f2a2a" stroke-width="1.1" />
<line x1="81.00" y1="437.40" x2="89.40" y2="429.30" stroke="#2f2a2a" stroke-width="1.1" />
<line x1="81.00" y1="412.60" x2="89.40" y2="404.50" stroke="#2b3590" stroke-width="1.3" />
<rect x="56.20" y="412.60" width="24.8" height="24.8" fill="#c8505c" fill-opacity="0.38" stroke="#4a2a2d" stroke-width="1.1"/>
<circle cx="64.60" cy="404.50" r="1.9" fill="#222" stroke="none" stroke-width="1" />
<circle cx="64.60" cy="429.30" r="1.9" fill="#3a1a1a" stroke="none" stroke-width="1" />
<circle cx="89.40" cy="429.30" r="1.9" fill="#222" stroke="none" stroke-width="1" />
<circle cx="89.40" cy="404.50" r="1.9" fill="#1f2d96" stroke="none" stroke-width="1" />
<circle cx="56.20" cy="412.60" r="1.9" fill="#c3141f" stroke="none" stroke-width="1" />
<circle cx="56.20" cy="437.40" r="1.9" fill="#c3141f" stroke="none" stroke-width="1" />
<circle cx="81.00" cy="437.40" r="1.9" fill="#c3141f" stroke="none" stroke-width="1" />
<circle cx="81.00" cy="412.60" r="1.9" fill="#9a1a3a" stroke="none" stroke-width="1" />
<text x="478.80" y="28.00" font-size="33" fill="#231f20" font-weight="bold" textLength="23.0" lengthAdjust="spacingAndGlyphs" >b</text>
<line x1="567.40" y1="41.40" x2="567.40" y2="421.40" stroke="#231f20" stroke-width="2" />
<line x1="566.40" y1="420.40" x2="1046.20" y2="420.40" stroke="#231f20" stroke-width="2" />
<line x1="562.40" y1="406.10" x2="567.40" y2="406.10" stroke="#231f20" stroke-width="2" />
<text x="557.60" y="414.90" font-size="24.5" fill="#231f20" text-anchor="end" >0</text>
<line x1="562.40" y1="333.20" x2="567.40" y2="333.20" stroke="#231f20" stroke-width="2" />
<text x="557.60" y="342.00" font-size="24.5" fill="#231f20" text-anchor="end" >2</text>
<line x1="562.40" y1="260.30" x2="567.40" y2="260.30" stroke="#231f20" stroke-width="2" />
<text x="557.60" y="269.10" font-size="24.5" fill="#231f20" text-anchor="end" >4</text>
<line x1="562.40" y1="187.40" x2="567.40" y2="187.40" stroke="#231f20" stroke-width="2" />
<text x="557.60" y="196.20" font-size="24.5" fill="#231f20" text-anchor="end" >6</text>
<line x1="562.40" y1="114.50" x2="567.40" y2="114.50" stroke="#231f20" stroke-width="2" />
<text x="557.60" y="123.30" font-size="24.5" fill="#231f20" text-anchor="end" >8</text>
<line x1="562.40" y1="41.60" x2="567.40" y2="41.60" stroke="#231f20" stroke-width="2" />
<text x="557.60" y="50.40" font-size="24.5" fill="#231f20" text-anchor="end" >10</text>
<line x1="588.90" y1="420.40" x2="588.90" y2="425.20" stroke="#231f20" stroke-width="2" />
<text x="588.90" y="447.90" font-size="24.5" fill="#231f20" text-anchor="middle" >0</text>
<line x1="661.35" y1="420.40" x2="661.35" y2="425.20" stroke="#231f20" stroke-width="2" />
<text x="661.35" y="447.90" font-size="24.5" fill="#231f20" text-anchor="middle" >2</text>
<line x1="733.80" y1="420.40" x2="733.80" y2="425.20" stroke="#231f20" stroke-width="2" />
<text x="733.80" y="447.90" font-size="24.5" fill="#231f20" text-anchor="middle" >4</text>
<line x1="806.25" y1="420.40" x2="806.25" y2="425.20" stroke="#231f20" stroke-width="2" />
<text x="806.25" y="447.90" font-size="24.5" fill="#231f20" text-anchor="middle" >6</text>
<line x1="878.70" y1="420.40" x2="878.70" y2="425.20" stroke="#231f20" stroke-width="2" />
<text x="878.70" y="447.90" font-size="24.5" fill="#231f20" text-anchor="middle" >8</text>
<line x1="951.15" y1="420.40" x2="951.15" y2="425.20" stroke="#231f20" stroke-width="2" />
<text x="951.15" y="447.90" font-size="24.5" fill="#231f20" text-anchor="middle" >10</text>
<line x1="1023.60" y1="420.40" x2="1023.60" y2="425.20" stroke="#231f20" stroke-width="2" />
<text x="1023.60" y="447.90" font-size="24.5" fill="#231f20" text-anchor="middle" >12</text>
<text x="666.40" y="475.60" font-size="25" fill="#231f20" textLength="259" lengthAdjust="spacingAndGlyphs" >Logical subsystem size</text>
<text transform="translate(524.50,234.90) rotate(-90)" font-size="25" fill="#231f20" text-anchor="middle" textLength="333" lengthAdjust="spacingAndGlyphs" >Logical entanglement entropy</text>
<line x1="588.90" y1="406.10" x2="951.15" y2="41.60" stroke="#747474" stroke-width="2.1" stroke-dasharray="5,3.6"/>
<line x1="987.38" y1="123.40" x2="987.38" y2="142.90" stroke="#b5d8d6" stroke-width="3.5" />
<line x1="1023.60" y1="133.40" x2="1023.60" y2="175.20" stroke="#b5d8d6" stroke-width="3.5" />
<line x1="1023.60" y1="175.20" x2="1023.60" y2="202.40" stroke="#9dc1bf" stroke-width="3.5" />
<polyline points="588.90,406.10 625.12,369.65 661.35,333.93 697.58,299.30 733.80,263.22 770.02,229.32 806.25,193.96 842.48,164.80 878.70,138.92 914.92,122.52 951.15,121.06 987.38,132.00 1023.60,154.59" fill="none" stroke="#d2eceb" stroke-width="3.6" stroke-linejoin="round" />
<circle cx="588.90" cy="406.10" r="6.8" fill="#cde6e6" stroke="#a3a8cf" stroke-width="1.3" />
<circle cx="625.12" cy="369.65" r="6.8" fill="#cde6e6" stroke="#a3a8cf" stroke-width="1.3" />
<circle cx="661.35" cy="333.93" r="6.8" fill="#cde6e6" stroke="#a3a8cf" stroke-width="1.3" />
<circle cx="697.58" cy="299.30" r="6.8" fill="#cde6e6" stroke="#a3a8cf" stroke-width="1.3" />
<circle cx="733.80" cy="263.22" r="6.8" fill="#cde6e6" stroke="#a3a8cf" stroke-width="1.3" />
<circle cx="770.02" cy="229.32" r="6.8" fill="#cde6e6" stroke="#a3a8cf" stroke-width="1.3" />
<circle cx="806.25" cy="193.96" r="6.8" fill="#cde6e6" stroke="#a3a8cf" stroke-width="1.3" />
<circle cx="842.48" cy="164.80" r="6.8" fill="#cde6e6" stroke="#a3a8cf" stroke-width="1.3" />
<circle cx="878.70" cy="138.92" r="6.8" fill="#cde6e6" stroke="#a3a8cf" stroke-width="1.3" />
<circle cx="914.92" cy="122.52" r="6.8" fill="#cde6e6" stroke="#a3a8cf" stroke-width="1.3" />
<circle cx="951.15" cy="121.06" r="6.8" fill="#cde6e6" stroke="#a3a8cf" stroke-width="1.3" />
<circle cx="987.38" cy="132.00" r="6.8" fill="#cde6e6" stroke="#a3a8cf" stroke-width="1.3" />
<circle cx="1023.60" cy="154.59" r="6.8" fill="#cde6e6" stroke="#a3a8cf" stroke-width="1.3" />
<polyline points="588.90,406.10 625.12,369.65 661.35,333.93 697.58,299.30 733.80,263.95 770.02,231.14 806.25,196.51 842.48,167.35 878.70,141.84 914.92,126.16 951.15,124.34 987.38,134.55 1023.60,154.96" fill="none" stroke="#b5d8d6" stroke-width="3.6" stroke-linejoin="round" />
<circle cx="588.90" cy="406.10" r="6.8" fill="#c2dedd" stroke="#6f7897" stroke-width="1.3" />
<circle cx="625.12" cy="369.65" r="6.8" fill="#c2dedd" stroke="#6f7897" stroke-width="1.3" />
<circle cx="661.35" cy="333.93" r="6.8" fill="#c2dedd" stroke="#6f7897" stroke-width="1.3" />
<circle cx="697.58" cy="299.30" r="6.8" fill="#c2dedd" stroke="#6f7897" stroke-width="1.3" />
<circle cx="733.80" cy="263.95" r="6.8" fill="#c2dedd" stroke="#6f7897" stroke-width="1.3" />
<circle cx="770.02" cy="231.14" r="6.8" fill="#c2dedd" stroke="#6f7897" stroke-width="1.3" />
<circle cx="806.25" cy="196.51" r="6.8" fill="#c2dedd" stroke="#6f7897" stroke-width="1.3" />
<circle cx="842.48" cy="167.35" r="6.8" fill="#c2dedd" stroke="#6f7897" stroke-width="1.3" />
<circle cx="878.70" cy="141.84" r="6.8" fill="#c2dedd" stroke="#6f7897" stroke-width="1.3" />
<circle cx="914.92" cy="126.16" r="6.8" fill="#c2dedd" stroke="#6f7897" stroke-width="1.3" />
<circle cx="951.15" cy="124.34" r="6.8" fill="#c2dedd" stroke="#6f7897" stroke-width="1.3" />
<circle cx="987.38" cy="134.55" r="6.8" fill="#c2dedd" stroke="#6f7897" stroke-width="1.3" />
<circle cx="1023.60" cy="154.96" r="6.8" fill="#c2dedd" stroke="#6f7897" stroke-width="1.3" />
<polyline points="588.90,406.10 625.12,369.65 661.35,333.93 697.58,298.57 733.80,264.67 770.02,229.32 806.25,207.45 842.48,171.00 878.70,150.59 914.92,140.38 951.15,145.12 987.38,161.52 1023.60,188.86" fill="none" stroke="#9dc1bf" stroke-width="3.6" stroke-linejoin="round" />
<circle cx="588.90" cy="406.10" r="6.8" fill="#a3c1bf" stroke="#4f5a6a" stroke-width="1.3" />
<circle cx="625.12" cy="369.65" r="6.8" fill="#a3c1bf" stroke="#4f5a6a" stroke-width="1.3" />
<circle cx="661.35" cy="333.93" r="6.8" fill="#a3c1bf" stroke="#4f5a6a" stroke-width="1.3" />
<circle cx="697.58" cy="298.57" r="6.8" fill="#a3c1bf" stroke="#4f5a6a" stroke-width="1.3" />
<circle cx="733.80" cy="264.67" r="6.8" fill="#a3c1bf" stroke="#4f5a6a" stroke-width="1.3" />
<circle cx="770.02" cy="229.32" r="6.8" fill="#a3c1bf" stroke="#4f5a6a" stroke-width="1.3" />
<circle cx="806.25" cy="207.45" r="6.8" fill="#a3c1bf" stroke="#4f5a6a" stroke-width="1.3" />
<circle cx="842.48" cy="171.00" r="6.8" fill="#a3c1bf" stroke="#4f5a6a" stroke-width="1.3" />
<circle cx="878.70" cy="150.59" r="6.8" fill="#a3c1bf" stroke="#4f5a6a" stroke-width="1.3" />
<circle cx="914.92" cy="140.38" r="6.8" fill="#a3c1bf" stroke="#4f5a6a" stroke-width="1.3" />
<circle cx="951.15" cy="145.12" r="6.8" fill="#a3c1bf" stroke="#4f5a6a" stroke-width="1.3" />
<circle cx="987.38" cy="161.52" r="6.8" fill="#a3c1bf" stroke="#4f5a6a" stroke-width="1.3" />
<circle cx="1023.60" cy="188.86" r="6.8" fill="#a3c1bf" stroke="#4f5a6a" stroke-width="1.3" />
<polyline points="588.90,406.10 625.12,369.65 661.35,333.20 697.58,300.76 733.80,265.77 770.02,235.51 806.25,209.63 842.48,190.32 878.70,184.85 914.92,192.14 951.15,209.63 987.38,232.60 1023.60,261.39" fill="none" stroke="#7fa4a2" stroke-width="3.6" stroke-linejoin="round" />
<circle cx="588.90" cy="406.10" r="6.8" fill="#86a6a4" stroke="#3e4b58" stroke-width="1.3" />
<circle cx="625.12" cy="369.65" r="6.8" fill="#86a6a4" stroke="#3e4b58" stroke-width="1.3" />
<circle cx="661.35" cy="333.20" r="6.8" fill="#86a6a4" stroke="#3e4b58" stroke-width="1.3" />
<circle cx="697.58" cy="300.76" r="6.8" fill="#86a6a4" stroke="#3e4b58" stroke-width="1.3" />
<circle cx="733.80" cy="265.77" r="6.8" fill="#86a6a4" stroke="#3e4b58" stroke-width="1.3" />
<circle cx="770.02" cy="235.51" r="6.8" fill="#86a6a4" stroke="#3e4b58" stroke-width="1.3" />
<circle cx="806.25" cy="209.63" r="6.8" fill="#86a6a4" stroke="#3e4b58" stroke-width="1.3" />
<circle cx="842.48" cy="190.32" r="6.8" fill="#86a6a4" stroke="#3e4b58" stroke-width="1.3" />
<circle cx="878.70" cy="184.85" r="6.8" fill="#86a6a4" stroke="#3e4b58" stroke-width="1.3" />
<circle cx="914.92" cy="192.14" r="6.8" fill="#86a6a4" stroke="#3e4b58" stroke-width="1.3" />
<circle cx="951.15" cy="209.63" r="6.8" fill="#86a6a4" stroke="#3e4b58" stroke-width="1.3" />
<circle cx="987.38" cy="232.60" r="6.8" fill="#86a6a4" stroke="#3e4b58" stroke-width="1.3" />
<circle cx="1023.60" cy="261.39" r="6.8" fill="#86a6a4" stroke="#3e4b58" stroke-width="1.3" />
<polyline points="588.90,406.10 625.12,369.65 661.35,333.20 697.58,294.56 733.80,255.20 770.02,217.29 806.25,199.06 842.48,215.47 878.70,247.18 914.92,282.53 951.15,317.89 987.38,354.34 1023.60,390.06" fill="none" stroke="#6b8f8d" stroke-width="3.6" stroke-linejoin="round" />
<circle cx="588.90" cy="406.10" r="6.8" fill="#6c8b89" stroke="#2e3d46" stroke-width="1.3" />
<circle cx="625.12" cy="369.65" r="6.8" fill="#6c8b89" stroke="#2e3d46" stroke-width="1.3" />
<circle cx="661.35" cy="333.20" r="6.8" fill="#6c8b89" stroke="#2e3d46" stroke-width="1.3" />
<circle cx="697.58" cy="294.56" r="6.8" fill="#6c8b89" stroke="#2e3d46" stroke-width="1.3" />
<circle cx="733.80" cy="255.20" r="6.8" fill="#6c8b89" stroke="#2e3d46" stroke-width="1.3" />
<circle cx="770.02" cy="217.29" r="6.8" fill="#6c8b89" stroke="#2e3d46" stroke-width="1.3" />
<circle cx="806.25" cy="199.06" r="6.8" fill="#6c8b89" stroke="#2e3d46" stroke-width="1.3" />
<circle cx="842.48" cy="215.47" r="6.8" fill="#6c8b89" stroke="#2e3d46" stroke-width="1.3" />
<circle cx="878.70" cy="247.18" r="6.8" fill="#6c8b89" stroke="#2e3d46" stroke-width="1.3" />
<circle cx="914.92" cy="282.53" r="6.8" fill="#6c8b89" stroke="#2e3d46" stroke-width="1.3" />
<circle cx="951.15" cy="317.89" r="6.8" fill="#6c8b89" stroke="#2e3d46" stroke-width="1.3" />
<circle cx="987.38" cy="354.34" r="6.8" fill="#6c8b89" stroke="#2e3d46" stroke-width="1.3" />
<circle cx="1023.60" cy="390.06" r="6.8" fill="#6c8b89" stroke="#2e3d46" stroke-width="1.3" />
<rect x="886.20" y="45.20" width="158.00" height="63.00" fill="#ffffff" stroke="none" stroke-width="1" />
<text x="875.60" y="67.50" font-size="25" fill="#231f20" textLength="115" lengthAdjust="spacingAndGlyphs" >Increasing</text>
<text x="875.20" y="92.20" font-size="25" fill="#231f20" textLength="164.5" lengthAdjust="spacingAndGlyphs" >error detection</text>
<line x1="1042.80" y1="110.90" x2="1042.80" y2="244.00" stroke="#231f20" stroke-width="1.8" />
<path d="M1042.8,255.0 L1036.6,239.2 L1042.8,243.0 L1049.0,239.2 Z" fill="#231f20"/>
<text x="4.30" y="503.40" font-size="33" fill="#231f20" font-weight="bold" textLength="20.8" lengthAdjust="spacingAndGlyphs" >c</text>
<line x1="58.00" y1="500.90" x2="58.00" y2="880.40" stroke="#231f20" stroke-width="2" />
<line x1="57.00" y1="879.50" x2="416.50" y2="879.50" stroke="#231f20" stroke-width="2" />
<line x1="53.20" y1="862.60" x2="58.00" y2="862.60" stroke="#231f20" stroke-width="2" />
<line x1="53.20" y1="784.44" x2="58.00" y2="784.44" stroke="#231f20" stroke-width="2" />
<line x1="53.20" y1="706.28" x2="58.00" y2="706.28" stroke="#231f20" stroke-width="2" />
<line x1="53.20" y1="628.12" x2="58.00" y2="628.12" stroke="#231f20" stroke-width="2" />
<line x1="53.20" y1="549.96" x2="58.00" y2="549.96" stroke="#231f20" stroke-width="2" />
<text x="46.60" y="871.20" font-size="24.5" fill="#231f20" text-anchor="end" >0</text>
<text x="46.60" y="714.88" font-size="24.5" fill="#231f20" text-anchor="end" >4</text>
<text x="46.60" y="558.56" font-size="24.5" fill="#231f20" text-anchor="end" >8</text>
<line x1="74.30" y1="879.50" x2="74.30" y2="884.30" stroke="#231f20" stroke-width="2" />
<text x="74.30" y="907.60" font-size="24.5" fill="#231f20" text-anchor="middle" >0</text>
<line x1="182.40" y1="879.50" x2="182.40" y2="884.30" stroke="#231f20" stroke-width="2" />
<text x="182.40" y="907.60" font-size="24.5" fill="#231f20" text-anchor="middle" >1</text>
<line x1="290.50" y1="879.50" x2="290.50" y2="884.30" stroke="#231f20" stroke-width="2" />
<text x="290.50" y="907.60" font-size="24.5" fill="#231f20" text-anchor="middle" >2</text>
<line x1="398.60" y1="879.50" x2="398.60" y2="884.30" stroke="#231f20" stroke-width="2" />
<text x="398.60" y="907.60" font-size="24.5" fill="#231f20" text-anchor="middle" >3</text>
<text x="70.30" y="937.30" font-size="25" fill="#231f20" textLength="320.5" lengthAdjust="spacingAndGlyphs" >Number of logical CCZ gates</text>
<text transform="translate(20.80,687.40) rotate(-90)" font-size="25" fill="#231f20" text-anchor="middle" textLength="215" lengthAdjust="spacingAndGlyphs" >Additive Bell magic</text>
<polyline points="74.30,862.60 182.40,719.57 290.50,573.02 398.60,524.17" fill="none" stroke="#8fb5e2" stroke-width="1.9" stroke-linejoin="round" stroke-dasharray="4.2,2.8"/>
<polyline points="74.30,847.75 182.40,702.37 290.50,586.30 398.60,538.63" fill="none" stroke="#2d5a8c" stroke-width="1.9" stroke-linejoin="round" />
<rect x="69.30" y="857.60" width="10.00" height="10.00" fill="#a0bce2" stroke="#3c6496" stroke-width="1.2" />
<rect x="177.40" y="714.57" width="10.00" height="10.00" fill="#a0bce2" stroke="#3c6496" stroke-width="1.2" />
<rect x="285.50" y="568.02" width="10.00" height="10.00" fill="#a0bce2" stroke="#3c6496" stroke-width="1.2" />
<rect x="393.60" y="519.17" width="10.00" height="10.00" fill="#a0bce2" stroke="#3c6496" stroke-width="1.2" />
<circle cx="74.30" cy="847.75" r="7.7" fill="#3b648e" stroke="#1b2232" stroke-width="1.8" />
<circle cx="182.40" cy="702.37" r="7.7" fill="#3b648e" stroke="#1b2232" stroke-width="1.8" />
<circle cx="290.50" cy="586.30" r="7.7" fill="#3b648e" stroke="#1b2232" stroke-width="1.8" />
<circle cx="398.60" cy="538.63" r="7.7" fill="#3b648e" stroke="#1b2232" stroke-width="1.8" />
<line x1="75.30" y1="527.50" x2="118.20" y2="527.50" stroke="#2d5a8c" stroke-width="1.9" />
<line x1="96.20" y1="517.40" x2="96.20" y2="537.40" stroke="#2d5a8c" stroke-width="1.5" />
<circle cx="96.20" cy="527.50" r="7.8" fill="#3b648e" stroke="#1b2232" stroke-width="1.8" />
<line x1="75.30" y1="555.50" x2="118.20" y2="555.50" stroke="#8fb5e2" stroke-width="1.9" stroke-dasharray="3.5,4"/>
<line x1="96.20" y1="546.00" x2="96.20" y2="566.40" stroke="#8fb5e2" stroke-width="1.5" />
<rect x="91.40" y="550.70" width="9.60" height="9.60" fill="#a0bce2" stroke="#3c6496" stroke-width="1.2" />
<text x="123.90" y="534.60" font-size="25" fill="#231f20" textLength="125.7" lengthAdjust="spacingAndGlyphs" >Experiment</text>
<text x="124.80" y="563.20" font-size="25" fill="#231f20" textLength="75.6" lengthAdjust="spacingAndGlyphs" >Theory</text>
<text x="479.00" y="503.30" font-size="33" fill="#231f20" font-weight="bold" textLength="22.2" lengthAdjust="spacingAndGlyphs" >d</text>
<line x1="567.60" y1="501.20" x2="567.60" y2="880.10" stroke="#231f20" stroke-width="2" />
<line x1="566.60" y1="879.20" x2="1045.80" y2="879.20" stroke="#231f20" stroke-width="2" />
<line x1="562.80" y1="862.00" x2="567.60" y2="862.00" stroke="#231f20" stroke-width="2" />
<text x="557.20" y="870.60" font-size="24.5" fill="#231f20" text-anchor="end" >0</text>
<line x1="562.80" y1="795.78" x2="567.60" y2="795.78" stroke="#231f20" stroke-width="2" />
<text x="557.20" y="804.38" font-size="24.5" fill="#231f20" text-anchor="end" >0.05</text>
<line x1="562.80" y1="729.56" x2="567.60" y2="729.56" stroke="#231f20" stroke-width="2" />
<text x="557.20" y="738.16" font-size="24.5" fill="#231f20" text-anchor="end" >0.10</text>
<line x1="562.80" y1="663.34" x2="567.60" y2="663.34" stroke="#231f20" stroke-width="2" />
<text x="557.20" y="671.94" font-size="24.5" fill="#231f20" text-anchor="end" >0.15</text>
<line x1="562.80" y1="597.12" x2="567.60" y2="597.12" stroke="#231f20" stroke-width="2" />
<text x="557.20" y="605.72" font-size="24.5" fill="#231f20" text-anchor="end" >0.20</text>
<line x1="562.80" y1="530.90" x2="567.60" y2="530.90" stroke="#231f20" stroke-width="2" />
<text x="557.20" y="539.50" font-size="24.5" fill="#231f20" text-anchor="end" >0.25</text>
<line x1="589.10" y1="879.20" x2="589.10" y2="883.90" stroke="#231f20" stroke-width="2" />
<text x="589.10" y="907.60" font-size="24.5" fill="#231f20" text-anchor="middle" >0</text>
<line x1="675.82" y1="879.20" x2="675.82" y2="883.90" stroke="#231f20" stroke-width="2" />
<text x="675.82" y="907.60" font-size="24.5" fill="#231f20" text-anchor="middle" >0.2</text>
<line x1="762.54" y1="879.20" x2="762.54" y2="883.90" stroke="#231f20" stroke-width="2" />
<text x="762.54" y="907.60" font-size="24.5" fill="#231f20" text-anchor="middle" >0.4</text>
<line x1="849.26" y1="879.20" x2="849.26" y2="883.90" stroke="#231f20" stroke-width="2" />
<text x="849.26" y="907.60" font-size="24.5" fill="#231f20" text-anchor="middle" >0.6</text>
<line x1="935.98" y1="879.20" x2="935.98" y2="883.90" stroke="#231f20" stroke-width="2" />
<text x="935.98" y="907.60" font-size="24.5" fill="#231f20" text-anchor="middle" >0.8</text>
<line x1="1022.70" y1="879.20" x2="1022.70" y2="883.90" stroke="#231f20" stroke-width="2" />
<text x="1022.70" y="907.60" font-size="24.5" fill="#231f20" text-anchor="middle" >1.0</text>
<text x="732.30" y="935.80" font-size="25" fill="#231f20" textLength="150" lengthAdjust="spacingAndGlyphs" >Logical purity</text>
<text transform="translate(463.00,690.50) rotate(-90)" font-size="25" fill="#231f20" text-anchor="middle" textLength="212" lengthAdjust="spacingAndGlyphs" >Logical Pauli string</text>
<text transform="translate(493.40,694.20) rotate(-90)" font-size="25" fill="#231f20" text-anchor="middle" textLength="199" lengthAdjust="spacingAndGlyphs" >expectation value</text>
<text x="588.20" y="530.90" font-size="25" fill="#231f20" textLength="286" lengthAdjust="spacingAndGlyphs" >Increasing error detection</text>
<line x1="647.20" y1="542.80" x2="788.00" y2="542.80" stroke="#231f20" stroke-width="1.8" />
<path d="M799.2,542.8 L784.1,536.7 L787.4,542.8 L784.1,548.9 Z" fill="#231f20"/>
<path d="M589.10,753.40 L591.27,751.79 L593.44,750.15 L595.60,748.47 L597.77,746.77 L599.94,745.03 L602.11,743.25 L604.28,741.45 L606.44,739.61 L608.61,737.75 L610.78,735.85 L612.95,733.92 L615.12,731.94 L617.28,729.84 L619.45,727.65 L621.62,725.40 L623.79,723.10 L625.96,720.77 L628.12,718.43 L630.29,716.11 L632.46,713.83 L634.63,711.60 L636.80,709.46 L638.96,707.41 L641.13,705.48 L643.30,703.70 L645.47,702.00 L647.64,700.36 L649.80,698.79 L651.97,697.26 L654.14,695.78 L656.31,694.33 L658.48,692.91 L660.64,691.50 L662.81,690.10 L664.98,688.70 L667.15,687.28 L669.32,685.85 L671.48,684.41 L673.65,682.97 L675.82,681.54 L677.99,680.10 L680.16,678.67 L682.32,677.25 L684.49,675.82 L686.66,674.41 L688.83,672.99 L691.00,671.59 L693.16,670.19 L695.33,668.79 L697.50,667.41 L699.67,666.03 L701.84,664.66 L704.00,663.30 L706.17,661.95 L708.34,660.61 L710.51,659.28 L712.68,657.96 L714.84,656.65 L717.01,655.35 L719.18,654.07 L721.35,652.80 L723.52,651.54 L725.68,650.29 L727.85,649.05 L730.02,647.82 L732.19,646.60 L734.36,645.39 L736.52,644.19 L738.69,642.99 L740.86,641.81 L743.03,640.63 L745.20,639.45 L747.36,638.28 L749.53,637.12 L751.70,635.96 L753.87,634.81 L756.04,633.66 L758.20,632.51 L760.37,631.37 L762.54,630.23 L764.71,629.09 L766.88,627.96 L769.04,626.84 L771.21,625.73 L773.38,624.62 L775.55,623.51 L777.72,622.41 L779.88,621.32 L782.05,620.23 L784.22,619.14 L786.39,618.06 L788.56,616.98 L790.72,615.90 L792.89,614.82 L795.06,613.75 L797.23,612.67 L799.40,611.60 L801.56,610.53 L803.73,609.45 L805.90,608.38 L808.07,607.30 L810.24,606.22 L812.40,605.14 L814.57,604.06 L816.74,602.99 L818.91,601.91 L821.08,600.83 L823.24,599.75 L825.41,598.68 L827.58,597.61 L829.75,596.54 L831.92,595.48 L834.08,594.42 L836.25,593.37 L838.42,592.32 L840.59,591.28 L842.76,590.25 L844.92,589.22 L847.09,588.20 L849.26,587.19 L851.43,586.18 L853.60,585.18 L855.76,584.18 L857.93,583.18 L860.10,582.19 L862.27,581.20 L864.44,580.21 L866.60,579.23 L868.77,578.26 L870.94,577.29 L873.11,576.33 L875.28,575.37 L877.44,574.42 L879.61,573.48 L881.78,572.54 L883.95,571.61 L886.12,570.69 L888.28,569.78 L890.45,568.88 L892.62,567.98 L894.79,567.10 L896.96,566.22 L899.12,565.35 L901.29,564.48 L903.46,563.62 L905.63,562.76 L907.80,561.92 L909.96,561.07 L912.13,560.23 L914.30,559.40 L916.47,558.57 L918.64,557.75 L920.80,556.93 L922.97,556.11 L925.14,555.30 L927.31,554.49 L929.48,553.68 L931.64,552.88 L933.81,552.08 L935.98,551.28 L938.15,550.48 L940.32,549.68 L942.48,548.89 L944.65,548.10 L946.82,547.30 L948.99,546.51 L951.16,545.72 L953.32,544.93 L955.49,544.14 L957.66,543.35 L959.83,542.55 L962.00,541.76 L964.16,540.97 L966.33,540.18 L968.50,539.40 L970.67,538.61 L972.84,537.83 L975.00,537.05 L977.17,536.27 L979.34,535.49 L981.51,534.72 L983.68,533.94 L985.84,533.17 L988.01,532.40 L990.18,531.63 L992.35,530.86 L994.52,530.10 L996.68,529.33 L998.85,528.57 L1001.02,527.81 L1003.19,527.05 L1005.36,526.29 L1007.52,525.54 L1009.69,524.79 L1011.86,524.04 L1014.03,523.29 L1016.20,522.54 L1018.36,521.79 L1020.53,521.05 L1022.70,520.30 L1024.87,519.56 L1024.87,527.48 L1022.70,528.25 L1020.53,529.02 L1018.36,529.80 L1016.20,530.58 L1014.03,531.36 L1011.86,532.14 L1009.69,532.92 L1007.52,533.70 L1005.36,534.49 L1003.19,535.28 L1001.02,536.07 L998.85,536.86 L996.68,537.65 L994.52,538.45 L992.35,539.25 L990.18,540.05 L988.01,540.85 L985.84,541.65 L983.68,542.46 L981.51,543.26 L979.34,544.07 L977.17,544.88 L975.00,545.69 L972.84,546.51 L970.67,547.32 L968.50,548.14 L966.33,548.96 L964.16,549.78 L962.00,550.60 L959.83,551.43 L957.66,552.25 L955.49,553.08 L953.32,553.90 L951.16,554.72 L948.99,555.54 L946.82,556.36 L944.65,557.19 L942.48,558.01 L940.32,558.83 L938.15,559.66 L935.98,560.48 L933.81,561.31 L931.64,562.14 L929.48,562.98 L927.31,563.81 L925.14,564.65 L922.97,565.50 L920.80,566.35 L918.64,567.20 L916.47,568.06 L914.30,568.92 L912.13,569.79 L909.96,570.67 L907.80,571.55 L905.63,572.43 L903.46,573.33 L901.29,574.23 L899.12,575.14 L896.96,576.06 L894.79,576.98 L892.62,577.92 L890.45,578.86 L888.28,579.82 L886.12,580.78 L883.95,581.76 L881.78,582.74 L879.61,583.74 L877.44,584.74 L875.28,585.76 L873.11,586.78 L870.94,587.81 L868.77,588.84 L866.60,589.89 L864.44,590.94 L862.27,591.99 L860.10,593.06 L857.93,594.12 L855.76,595.20 L853.60,596.28 L851.43,597.36 L849.26,598.44 L847.09,599.54 L844.92,600.64 L842.76,601.74 L840.59,602.86 L838.42,603.98 L836.25,605.11 L834.08,606.25 L831.92,607.39 L829.75,608.54 L827.58,609.70 L825.41,610.86 L823.24,612.04 L821.08,613.21 L818.91,614.40 L816.74,615.59 L814.57,616.78 L812.40,617.98 L810.24,619.19 L808.07,620.40 L805.90,621.62 L803.73,622.84 L801.56,624.07 L799.40,625.30 L797.23,626.54 L795.06,627.78 L792.89,629.03 L790.72,630.28 L788.56,631.55 L786.39,632.82 L784.22,634.09 L782.05,635.38 L779.88,636.68 L777.72,637.98 L775.55,639.30 L773.38,640.63 L771.21,641.97 L769.04,643.32 L766.88,644.68 L764.71,646.06 L762.54,647.45 L760.37,648.85 L758.20,650.26 L756.04,651.68 L753.87,653.11 L751.70,654.54 L749.53,655.99 L747.36,657.46 L745.20,658.93 L743.03,660.42 L740.86,661.92 L738.69,663.44 L736.52,664.97 L734.36,666.52 L732.19,668.09 L730.02,669.68 L727.85,671.28 L725.68,672.91 L723.52,674.55 L721.35,676.22 L719.18,677.91 L717.01,679.62 L714.84,681.37 L712.68,683.14 L710.51,684.95 L708.34,686.77 L706.17,688.63 L704.00,690.50 L701.84,692.40 L699.67,694.32 L697.50,696.25 L695.33,698.20 L693.16,700.17 L691.00,702.15 L688.83,704.15 L686.66,706.15 L684.49,708.17 L682.32,710.19 L680.16,712.22 L677.99,714.25 L675.82,716.29 L673.65,718.33 L671.48,720.37 L669.32,722.41 L667.15,724.44 L664.98,726.45 L662.81,728.46 L660.64,730.49 L658.48,732.54 L656.31,734.62 L654.14,736.75 L651.97,738.95 L649.80,741.21 L647.64,743.56 L645.47,746.01 L643.30,748.59 L641.13,751.28 L638.96,754.06 L636.80,756.92 L634.63,759.84 L632.46,762.81 L630.29,765.79 L628.12,768.78 L625.96,771.76 L623.79,774.70 L621.62,777.56 L619.45,780.37 L617.28,783.16 L615.12,785.97 L612.95,788.84 L610.78,791.81 L608.61,794.91 L606.44,798.19 L604.28,801.68 L602.11,805.43 L599.94,809.55 L597.77,814.06 L595.60,818.90 L593.44,824.02 L591.27,829.35 L589.10,834.85 Z" fill="#1c75b5" fill-opacity="0.2" stroke="none"/>
<polyline points="589.10,753.40 591.27,751.79 593.44,750.15 595.60,748.47 597.77,746.77 599.94,745.03 602.11,743.25 604.28,741.45 606.44,739.61 608.61,737.75 610.78,735.85 612.95,733.92 615.12,731.94 617.28,729.84 619.45,727.65 621.62,725.40 623.79,723.10 625.96,720.77 628.12,718.43 630.29,716.11 632.46,713.83 634.63,711.60 636.80,709.46 638.96,707.41 641.13,705.48 643.30,703.70 645.47,702.00 647.64,700.36 649.80,698.79 651.97,697.26 654.14,695.78 656.31,694.33 658.48,692.91 660.64,691.50 662.81,690.10 664.98,688.70 667.15,687.28 669.32,685.85 671.48,684.41 673.65,682.97 675.82,681.54 677.99,680.10 680.16,678.67 682.32,677.25 684.49,675.82 686.66,674.41 688.83,672.99 691.00,671.59 693.16,670.19 695.33,668.79 697.50,667.41 699.67,666.03 701.84,664.66 704.00,663.30 706.17,661.95 708.34,660.61 710.51,659.28 712.68,657.96 714.84,656.65 717.01,655.35 719.18,654.07 721.35,652.80 723.52,651.54 725.68,650.29 727.85,649.05 730.02,647.82 732.19,646.60 734.36,645.39 736.52,644.19 738.69,642.99 740.86,641.81 743.03,640.63 745.20,639.45 747.36,638.28 749.53,637.12 751.70,635.96 753.87,634.81 756.04,633.66 758.20,632.51 760.37,631.37 762.54,630.23 764.71,629.09 766.88,627.96 769.04,626.84 771.21,625.73 773.38,624.62 775.55,623.51 777.72,622.41 779.88,621.32 782.05,620.23 784.22,619.14 786.39,618.06 788.56,616.98 790.72,615.90 792.89,614.82 795.06,613.75 797.23,612.67 799.40,611.60 801.56,610.53 803.73,609.45 805.90,608.38 808.07,607.30 810.24,606.22 812.40,605.14 814.57,604.06 816.74,602.99 818.91,601.91 821.08,600.83 823.24,599.75 825.41,598.68 827.58,597.61 829.75,596.54 831.92,595.48 834.08,594.42 836.25,593.37 838.42,592.32 840.59,591.28 842.76,590.25 844.92,589.22 847.09,588.20 849.26,587.19 851.43,586.18 853.60,585.18 855.76,584.18 857.93,583.18 860.10,582.19 862.27,581.20 864.44,580.21 866.60,579.23 868.77,578.26 870.94,577.29 873.11,576.33 875.28,575.37 877.44,574.42 879.61,573.48 881.78,572.54 883.95,571.61 886.12,570.69 888.28,569.78 890.45,568.88 892.62,567.98 894.79,567.10 896.96,566.22 899.12,565.35 901.29,564.48 903.46,563.62 905.63,562.76 907.80,561.92 909.96,561.07 912.13,560.23 914.30,559.40 916.47,558.57 918.64,557.75 920.80,556.93 922.97,556.11 925.14,555.30 927.31,554.49 929.48,553.68 931.64,552.88 933.81,552.08 935.98,551.28 938.15,550.48 940.32,549.68 942.48,548.89 944.65,548.10 946.82,547.30 948.99,546.51 951.16,545.72 953.32,544.93 955.49,544.14 957.66,543.35 959.83,542.55 962.00,541.76 964.16,540.97 966.33,540.18 968.50,539.40 970.67,538.61 972.84,537.83 975.00,537.05 977.17,536.27 979.34,535.49 981.51,534.72 983.68,533.94 985.84,533.17 988.01,532.40 990.18,531.63 992.35,530.86 994.52,530.10 996.68,529.33 998.85,528.57 1001.02,527.81 1003.19,527.05 1005.36,526.29 1007.52,525.54 1009.69,524.79 1011.86,524.04 1014.03,523.29 1016.20,522.54 1018.36,521.79 1020.53,521.05 1022.70,520.30 1024.87,519.56" fill="none" stroke="#1c75b5" stroke-width="2" stroke-linejoin="round" />
<polyline points="589.10,834.85 591.27,829.35 593.44,824.02 595.60,818.90 597.77,814.06 599.94,809.55 602.11,805.43 604.28,801.68 606.44,798.19 608.61,794.91 610.78,791.81 612.95,788.84 615.12,785.97 617.28,783.16 619.45,780.37 621.62,777.56 623.79,774.70 625.96,771.76 628.12,768.78 630.29,765.79 632.46,762.81 634.63,759.84 636.80,756.92 638.96,754.06 641.13,751.28 643.30,748.59 645.47,746.01 647.64,743.56 649.80,741.21 651.97,738.95 654.14,736.75 656.31,734.62 658.48,732.54 660.64,730.49 662.81,728.46 664.98,726.45 667.15,724.44 669.32,722.41 671.48,720.37 673.65,718.33 675.82,716.29 677.99,714.25 680.16,712.22 682.32,710.19 684.49,708.17 686.66,706.15 688.83,704.15 691.00,702.15 693.16,700.17 695.33,698.20 697.50,696.25 699.67,694.32 701.84,692.40 704.00,690.50 706.17,688.63 708.34,686.77 710.51,684.95 712.68,683.14 714.84,681.37 717.01,679.62 719.18,677.91 721.35,676.22 723.52,674.55 725.68,672.91 727.85,671.28 730.02,669.68 732.19,668.09 734.36,666.52 736.52,664.97 738.69,663.44 740.86,661.92 743.03,660.42 745.20,658.93 747.36,657.46 749.53,655.99 751.70,654.54 753.87,653.11 756.04,651.68 758.20,650.26 760.37,648.85 762.54,647.45 764.71,646.06 766.88,644.68 769.04,643.32 771.21,641.97 773.38,640.63 775.55,639.30 777.72,637.98 779.88,636.68 782.05,635.38 784.22,634.09 786.39,632.82 788.56,631.55 790.72,630.28 792.89,629.03 795.06,627.78 797.23,626.54 799.40,625.30 801.56,624.07 803.73,622.84 805.90,621.62 808.07,620.40 810.24,619.19 812.40,617.98 814.57,616.78 816.74,615.59 818.91,614.40 821.08,613.21 823.24,612.04 825.41,610.86 827.58,609.70 829.75,608.54 831.92,607.39 834.08,606.25 836.25,605.11 838.42,603.98 840.59,602.86 842.76,601.74 844.92,600.64 847.09,599.54 849.26,598.44 851.43,597.36 853.60,596.28 855.76,595.20 857.93,594.12 860.10,593.06 862.27,591.99 864.44,590.94 866.60,589.89 868.77,588.84 870.94,587.81 873.11,586.78 875.28,585.76 877.44,584.74 879.61,583.74 881.78,582.74 883.95,581.76 886.12,580.78 888.28,579.82 890.45,578.86 892.62,577.92 894.79,576.98 896.96,576.06 899.12,575.14 901.29,574.23 903.46,573.33 905.63,572.43 907.80,571.55 909.96,570.67 912.13,569.79 914.30,568.92 916.47,568.06 918.64,567.20 920.80,566.35 922.97,565.50 925.14,564.65 927.31,563.81 929.48,562.98 931.64,562.14 933.81,561.31 935.98,560.48 938.15,559.66 940.32,558.83 942.48,558.01 944.65,557.19 946.82,556.36 948.99,555.54 951.16,554.72 953.32,553.90 955.49,553.08 957.66,552.25 959.83,551.43 962.00,550.60 964.16,549.78 966.33,548.96 968.50,548.14 970.67,547.32 972.84,546.51 975.00,545.69 977.17,544.88 979.34,544.07 981.51,543.26 983.68,542.46 985.84,541.65 988.01,540.85 990.18,540.05 992.35,539.25 994.52,538.45 996.68,537.65 998.85,536.86 1001.02,536.07 1003.19,535.28 1005.36,534.49 1007.52,533.70 1009.69,532.92 1011.86,532.14 1014.03,531.36 1016.20,530.58 1018.36,529.80 1020.53,529.02 1022.70,528.25 1024.87,527.48" fill="none" stroke="#1c75b5" stroke-width="2" stroke-linejoin="round" />
<polyline points="589.10,782.54 591.27,779.96 593.44,777.40 595.60,774.85 597.77,772.31 599.94,769.79 602.11,767.28 604.28,764.78 606.44,762.30 608.61,759.83 610.78,757.37 612.95,754.92 615.12,752.48 617.28,750.04 619.45,747.61 621.62,745.20 623.79,742.81 625.96,740.44 628.12,738.10 630.29,735.80 632.46,733.53 634.63,731.30 636.80,729.09 638.96,726.90 641.13,724.74 643.30,722.61 645.47,720.50 647.64,718.41 649.80,716.36 651.97,714.34 654.14,712.34 656.31,710.38 658.48,708.44 660.64,706.52 662.81,704.63 664.98,702.76 667.15,700.92 669.32,699.10 671.48,697.31 673.65,695.54 675.82,693.80 677.99,692.08 680.16,690.37 682.32,688.67 684.49,686.98 686.66,685.30 688.83,683.63 691.00,681.98 693.16,680.34 695.33,678.71 697.50,677.10 699.67,675.51 701.84,673.93 704.00,672.38 706.17,670.84 708.34,669.31 710.51,667.81 712.68,666.33 714.84,664.87 717.01,663.43 719.18,662.02 721.35,660.62 723.52,659.25 725.68,657.90 727.85,656.58 730.02,655.26 732.19,653.97 734.36,652.69 736.52,651.43 738.69,650.18 740.86,648.94 743.03,647.71 745.20,646.49 747.36,645.27 749.53,644.06 751.70,642.86 753.87,641.66 756.04,640.46 758.20,639.26 760.37,638.06 762.54,636.85 764.71,635.65 766.88,634.45 769.04,633.26 771.21,632.07 773.38,630.89 775.55,629.72 777.72,628.54 779.88,627.38 782.05,626.22 784.22,625.06 786.39,623.91 788.56,622.76 790.72,621.61 792.89,620.47 795.06,619.33 797.23,618.19 799.40,617.06 801.56,615.93 803.73,614.80 805.90,613.67 808.07,612.55 810.24,611.42 812.40,610.30 814.57,609.18 816.74,608.06 818.91,606.94 821.08,605.82 823.24,604.71 825.41,603.60 827.58,602.49 829.75,601.39 831.92,600.30 834.08,599.21 836.25,598.13 838.42,597.06 840.59,595.99 842.76,594.94 844.92,593.89 847.09,592.85 849.26,591.82 851.43,590.80 853.60,589.79 855.76,588.77 857.93,587.77 860.10,586.76 862.27,585.77 864.44,584.78 866.60,583.79 868.77,582.81 870.94,581.84 873.11,580.88 875.28,579.92 877.44,578.98 879.61,578.04 881.78,577.11 883.95,576.19 886.12,575.28 888.28,574.38 890.45,573.50 892.62,572.62 894.79,571.76 896.96,570.92 899.12,570.09 901.29,569.28 903.46,568.48 905.63,567.69 907.80,566.91 909.96,566.13 912.13,565.35 914.30,564.57 916.47,563.78 918.64,562.98 920.80,562.18 922.97,561.36 925.14,560.53 927.31,559.69 929.48,558.85 931.64,558.00 933.81,557.14 935.98,556.28 938.15,555.42 940.32,554.56 942.48,553.69 944.65,552.83 946.82,551.97 948.99,551.11 951.16,550.26 953.32,549.42 955.49,548.58 957.66,547.75 959.83,546.93 962.00,546.11 964.16,545.30 966.33,544.48 968.50,543.68 970.67,542.87 972.84,542.06 975.00,541.26 977.17,540.46 979.34,539.66 981.51,538.87 983.68,538.07 985.84,537.28 988.01,536.49 990.18,535.71 992.35,534.93 994.52,534.15 996.68,533.37 998.85,532.59 1001.02,531.82 1003.19,531.05 1005.36,530.29 1007.52,529.53 1009.69,528.77 1011.86,528.01 1014.03,527.26 1016.20,526.51 1018.36,525.76 1020.53,525.02 1022.70,524.28 1024.87,523.54" fill="none" stroke="#1c75b5" stroke-width="2.4" stroke-linejoin="round" stroke-dasharray="6,5"/>
<line x1="823.31" y1="588.50" x2="838.29" y2="588.50" stroke="#1c75b5" stroke-width="1.8" />
<line x1="830.80" y1="580.14" x2="830.80" y2="596.86" stroke="#1c75b5" stroke-width="1.8" />
<line x1="860.77" y1="577.30" x2="890.03" y2="577.30" stroke="#1c75b5" stroke-width="1.8" />
<line x1="875.40" y1="570.83" x2="875.40" y2="583.77" stroke="#1c75b5" stroke-width="1.8" />
<line x1="861.89" y1="584.80" x2="884.11" y2="584.80" stroke="#1c75b5" stroke-width="1.8" />
<line x1="873.00" y1="578.15" x2="873.00" y2="591.45" stroke="#1c75b5" stroke-width="1.8" />
<line x1="856.70" y1="594.70" x2="879.30" y2="594.70" stroke="#1c75b5" stroke-width="1.8" />
<line x1="868.00" y1="590.60" x2="868.00" y2="598.80" stroke="#1c75b5" stroke-width="1.8" />
<line x1="833.46" y1="597.20" x2="862.94" y2="597.20" stroke="#1c75b5" stroke-width="1.8" />
<line x1="848.20" y1="592.08" x2="848.20" y2="602.32" stroke="#1c75b5" stroke-width="1.8" />
<line x1="827.34" y1="610.80" x2="844.26" y2="610.80" stroke="#1c75b5" stroke-width="1.8" />
<line x1="835.80" y1="606.29" x2="835.80" y2="615.31" stroke="#1c75b5" stroke-width="1.8" />
<line x1="825.50" y1="618.20" x2="843.50" y2="618.20" stroke="#1c75b5" stroke-width="1.8" />
<line x1="834.50" y1="610.11" x2="834.50" y2="626.29" stroke="#1c75b5" stroke-width="1.8" />
<line x1="808.76" y1="613.30" x2="823.24" y2="613.30" stroke="#1c75b5" stroke-width="1.8" />
<line x1="816.00" y1="608.82" x2="816.00" y2="617.78" stroke="#1c75b5" stroke-width="1.8" />
<line x1="786.01" y1="602.10" x2="811.19" y2="602.10" stroke="#1c75b5" stroke-width="1.8" />
<line x1="798.60" y1="597.12" x2="798.60" y2="607.08" stroke="#1c75b5" stroke-width="1.8" />
<line x1="792.76" y1="615.80" x2="807.04" y2="615.80" stroke="#1c75b5" stroke-width="1.8" />
<line x1="799.90" y1="608.80" x2="799.90" y2="622.80" stroke="#1c75b5" stroke-width="1.8" />
<line x1="790.69" y1="633.10" x2="813.91" y2="633.10" stroke="#1c75b5" stroke-width="1.8" />
<line x1="802.30" y1="626.49" x2="802.30" y2="639.71" stroke="#1c75b5" stroke-width="1.8" />
<line x1="772.38" y1="615.80" x2="797.62" y2="615.80" stroke="#1c75b5" stroke-width="1.8" />
<line x1="785.00" y1="611.29" x2="785.00" y2="620.31" stroke="#1c75b5" stroke-width="1.8" />
<line x1="759.84" y1="617.00" x2="787.76" y2="617.00" stroke="#1c75b5" stroke-width="1.8" />
<line x1="773.80" y1="609.41" x2="773.80" y2="624.59" stroke="#1c75b5" stroke-width="1.8" />
<line x1="781.34" y1="629.40" x2="796.06" y2="629.40" stroke="#1c75b5" stroke-width="1.8" />
<line x1="788.70" y1="624.78" x2="788.70" y2="634.02" stroke="#1c75b5" stroke-width="1.8" />
<line x1="770.35" y1="639.30" x2="792.25" y2="639.30" stroke="#1c75b5" stroke-width="1.8" />
<line x1="781.30" y1="632.80" x2="781.30" y2="645.80" stroke="#1c75b5" stroke-width="1.8" />
<line x1="757.16" y1="631.90" x2="775.64" y2="631.90" stroke="#1c75b5" stroke-width="1.8" />
<line x1="766.40" y1="627.29" x2="766.40" y2="636.51" stroke="#1c75b5" stroke-width="1.8" />
<line x1="758.65" y1="639.30" x2="779.15" y2="639.30" stroke="#1c75b5" stroke-width="1.8" />
<line x1="768.90" y1="634.62" x2="768.90" y2="643.98" stroke="#1c75b5" stroke-width="1.8" />
<line x1="734.87" y1="626.90" x2="758.33" y2="626.90" stroke="#1c75b5" stroke-width="1.8" />
<line x1="746.60" y1="618.59" x2="746.60" y2="635.21" stroke="#1c75b5" stroke-width="1.8" />
<line x1="724.72" y1="634.30" x2="741.08" y2="634.30" stroke="#1c75b5" stroke-width="1.8" />
<line x1="732.90" y1="627.44" x2="732.90" y2="641.16" stroke="#1c75b5" stroke-width="1.8" />
<line x1="731.13" y1="644.30" x2="757.07" y2="644.30" stroke="#1c75b5" stroke-width="1.8" />
<line x1="744.10" y1="639.48" x2="744.10" y2="649.12" stroke="#1c75b5" stroke-width="1.8" />
<line x1="740.39" y1="651.70" x2="767.61" y2="651.70" stroke="#1c75b5" stroke-width="1.8" />
<line x1="754.00" y1="643.01" x2="754.00" y2="660.39" stroke="#1c75b5" stroke-width="1.8" />
<line x1="726.59" y1="669.00" x2="746.81" y2="669.00" stroke="#1c75b5" stroke-width="1.8" />
<line x1="736.70" y1="662.90" x2="736.70" y2="675.10" stroke="#1c75b5" stroke-width="1.8" />
<line x1="708.08" y1="669.00" x2="735.52" y2="669.00" stroke="#1c75b5" stroke-width="1.8" />
<line x1="721.80" y1="662.37" x2="721.80" y2="675.63" stroke="#1c75b5" stroke-width="1.8" />
<line x1="704.13" y1="656.70" x2="724.47" y2="656.70" stroke="#1c75b5" stroke-width="1.8" />
<line x1="714.30" y1="647.99" x2="714.30" y2="665.41" stroke="#1c75b5" stroke-width="1.8" />
<line x1="692.48" y1="664.10" x2="718.92" y2="664.10" stroke="#1c75b5" stroke-width="1.8" />
<line x1="705.70" y1="658.41" x2="705.70" y2="669.79" stroke="#1c75b5" stroke-width="1.8" />
<line x1="680.68" y1="666.60" x2="698.52" y2="666.60" stroke="#1c75b5" stroke-width="1.8" />
<line x1="689.60" y1="660.92" x2="689.60" y2="672.28" stroke="#1c75b5" stroke-width="1.8" />
<line x1="669.22" y1="679.00" x2="690.18" y2="679.00" stroke="#1c75b5" stroke-width="1.8" />
<line x1="679.70" y1="670.09" x2="679.70" y2="687.91" stroke="#1c75b5" stroke-width="1.8" />
<line x1="658.76" y1="683.90" x2="685.64" y2="683.90" stroke="#1c75b5" stroke-width="1.8" />
<line x1="672.20" y1="675.34" x2="672.20" y2="692.46" stroke="#1c75b5" stroke-width="1.8" />
<line x1="683.48" y1="679.00" x2="710.52" y2="679.00" stroke="#1c75b5" stroke-width="1.8" />
<line x1="697.00" y1="670.76" x2="697.00" y2="687.24" stroke="#1c75b5" stroke-width="1.8" />
<line x1="696.97" y1="693.80" x2="711.83" y2="693.80" stroke="#1c75b5" stroke-width="1.8" />
<line x1="704.40" y1="687.21" x2="704.40" y2="700.39" stroke="#1c75b5" stroke-width="1.8" />
<line x1="677.34" y1="688.90" x2="706.66" y2="688.90" stroke="#1c75b5" stroke-width="1.8" />
<line x1="692.00" y1="680.23" x2="692.00" y2="697.57" stroke="#1c75b5" stroke-width="1.8" />
<line x1="675.61" y1="693.80" x2="693.59" y2="693.80" stroke="#1c75b5" stroke-width="1.8" />
<line x1="684.60" y1="687.69" x2="684.60" y2="699.91" stroke="#1c75b5" stroke-width="1.8" />
<line x1="652.74" y1="698.80" x2="676.86" y2="698.80" stroke="#1c75b5" stroke-width="1.8" />
<line x1="664.80" y1="692.98" x2="664.80" y2="704.62" stroke="#1c75b5" stroke-width="1.8" />
<line x1="641.15" y1="703.70" x2="663.65" y2="703.70" stroke="#1c75b5" stroke-width="1.8" />
<line x1="652.40" y1="699.35" x2="652.40" y2="708.05" stroke="#1c75b5" stroke-width="1.8" />
<line x1="636.94" y1="711.20" x2="657.86" y2="711.20" stroke="#1c75b5" stroke-width="1.8" />
<line x1="647.40" y1="704.68" x2="647.40" y2="717.72" stroke="#1c75b5" stroke-width="1.8" />
<line x1="655.13" y1="716.10" x2="669.47" y2="716.10" stroke="#1c75b5" stroke-width="1.8" />
<line x1="662.30" y1="711.40" x2="662.30" y2="720.80" stroke="#1c75b5" stroke-width="1.8" />
<line x1="709.54" y1="661.60" x2="739.06" y2="661.60" stroke="#1c75b5" stroke-width="1.8" />
<line x1="724.30" y1="653.72" x2="724.30" y2="669.48" stroke="#1c75b5" stroke-width="1.8" />
<line x1="734.50" y1="634.30" x2="763.50" y2="634.30" stroke="#1c75b5" stroke-width="1.8" />
<line x1="749.00" y1="627.13" x2="749.00" y2="641.47" stroke="#1c75b5" stroke-width="1.8" />
<line x1="639.53" y1="730.00" x2="666.47" y2="730.00" stroke="#1c75b5" stroke-width="1.8" />
<line x1="653.00" y1="721.58" x2="653.00" y2="738.42" stroke="#1c75b5" stroke-width="1.8" />
<line x1="645.92" y1="722.00" x2="674.08" y2="722.00" stroke="#1c75b5" stroke-width="1.8" />
<line x1="660.00" y1="717.83" x2="660.00" y2="726.17" stroke="#1c75b5" stroke-width="1.8" />
<line x1="633.87" y1="735.00" x2="658.13" y2="735.00" stroke="#1c75b5" stroke-width="1.8" />
<line x1="646.00" y1="729.67" x2="646.00" y2="740.33" stroke="#1c75b5" stroke-width="1.8" />
<line x1="894.37" y1="564.40" x2="919.23" y2="564.40" stroke="#1c75b5" stroke-width="1.8" />
<line x1="906.80" y1="559.03" x2="906.80" y2="569.77" stroke="#1c75b5" stroke-width="1.8" />
<line x1="865.36" y1="579.20" x2="888.04" y2="579.20" stroke="#1c75b5" stroke-width="1.8" />
<line x1="876.70" y1="570.58" x2="876.70" y2="587.82" stroke="#1c75b5" stroke-width="1.8" />
<line x1="638.03" y1="705.00" x2="661.97" y2="705.00" stroke="#1c75b5" stroke-width="1.8" />
<line x1="650.00" y1="699.75" x2="650.00" y2="710.25" stroke="#1c75b5" stroke-width="1.8" />
<line x1="644.84" y1="700.00" x2="667.16" y2="700.00" stroke="#1c75b5" stroke-width="1.8" />
<line x1="656.00" y1="693.83" x2="656.00" y2="706.17" stroke="#1c75b5" stroke-width="1.8" />
<line x1="695.39" y1="672.00" x2="724.61" y2="672.00" stroke="#1c75b5" stroke-width="1.8" />
<line x1="710.00" y1="666.56" x2="710.00" y2="677.44" stroke="#1c75b5" stroke-width="1.8" />
<line x1="717.56" y1="650.00" x2="736.44" y2="650.00" stroke="#1c75b5" stroke-width="1.8" />
<line x1="727.00" y1="642.76" x2="727.00" y2="657.24" stroke="#1c75b5" stroke-width="1.8" />
<line x1="732.04" y1="640.00" x2="747.96" y2="640.00" stroke="#1c75b5" stroke-width="1.8" />
<line x1="740.00" y1="633.03" x2="740.00" y2="646.97" stroke="#1c75b5" stroke-width="1.8" />
<line x1="745.35" y1="628.00" x2="774.65" y2="628.00" stroke="#1c75b5" stroke-width="1.8" />
<line x1="760.00" y1="621.43" x2="760.00" y2="634.57" stroke="#1c75b5" stroke-width="1.8" />
<line x1="780.85" y1="610.00" x2="799.15" y2="610.00" stroke="#1c75b5" stroke-width="1.8" />
<line x1="790.00" y1="603.67" x2="790.00" y2="616.33" stroke="#1c75b5" stroke-width="1.8" />
<line x1="800.73" y1="600.00" x2="823.27" y2="600.00" stroke="#1c75b5" stroke-width="1.8" />
<line x1="812.00" y1="595.26" x2="812.00" y2="604.74" stroke="#1c75b5" stroke-width="1.8" />
<line x1="817.01" y1="605.00" x2="832.99" y2="605.00" stroke="#1c75b5" stroke-width="1.8" />
<line x1="825.00" y1="600.34" x2="825.00" y2="609.66" stroke="#1c75b5" stroke-width="1.8" />
<line x1="845.65" y1="590.00" x2="864.35" y2="590.00" stroke="#1c75b5" stroke-width="1.8" />
<line x1="855.00" y1="583.97" x2="855.00" y2="596.03" stroke="#1c75b5" stroke-width="1.8" />
<line x1="876.69" y1="575.00" x2="895.31" y2="575.00" stroke="#1c75b5" stroke-width="1.8" />
<line x1="886.00" y1="569.78" x2="886.00" y2="580.22" stroke="#1c75b5" stroke-width="1.8" />
<line x1="692.30" y1="683.00" x2="707.70" y2="683.00" stroke="#1c75b5" stroke-width="1.8" />
<line x1="700.00" y1="676.27" x2="700.00" y2="689.73" stroke="#1c75b5" stroke-width="1.8" />
<line x1="704.28" y1="676.00" x2="731.72" y2="676.00" stroke="#1c75b5" stroke-width="1.8" />
<line x1="718.00" y1="668.95" x2="718.00" y2="683.05" stroke="#1c75b5" stroke-width="1.8" />
<line x1="668.44" y1="690.00" x2="691.56" y2="690.00" stroke="#1c75b5" stroke-width="1.8" />
<line x1="680.00" y1="682.75" x2="680.00" y2="697.25" stroke="#1c75b5" stroke-width="1.8" />
<line x1="673.15" y1="692.37" x2="694.82" y2="692.37" stroke="#1c75b5" stroke-width="1.8" />
<line x1="683.99" y1="685.31" x2="683.99" y2="699.44" stroke="#1c75b5" stroke-width="1.8" />
<line x1="727.35" y1="663.35" x2="745.69" y2="663.35" stroke="#1c75b5" stroke-width="1.8" />
<line x1="736.52" y1="658.14" x2="736.52" y2="668.57" stroke="#1c75b5" stroke-width="1.8" />
<line x1="676.72" y1="695.49" x2="698.92" y2="695.49" stroke="#1c75b5" stroke-width="1.8" />
<line x1="687.82" y1="691.43" x2="687.82" y2="699.55" stroke="#1c75b5" stroke-width="1.8" />
<line x1="700.15" y1="669.30" x2="726.21" y2="669.30" stroke="#1c75b5" stroke-width="1.8" />
<line x1="713.18" y1="664.11" x2="713.18" y2="674.49" stroke="#1c75b5" stroke-width="1.8" />
<line x1="740.60" y1="650.99" x2="768.43" y2="650.99" stroke="#1c75b5" stroke-width="1.8" />
<line x1="754.51" y1="645.51" x2="754.51" y2="656.47" stroke="#1c75b5" stroke-width="1.8" />
<line x1="791.77" y1="619.08" x2="807.99" y2="619.08" stroke="#1c75b5" stroke-width="1.8" />
<line x1="799.88" y1="614.74" x2="799.88" y2="623.41" stroke="#1c75b5" stroke-width="1.8" />
<line x1="811.49" y1="611.27" x2="830.92" y2="611.27" stroke="#1c75b5" stroke-width="1.8" />
<line x1="821.21" y1="605.07" x2="821.21" y2="617.46" stroke="#1c75b5" stroke-width="1.8" />
<line x1="784.28" y1="622.43" x2="799.81" y2="622.43" stroke="#1c75b5" stroke-width="1.8" />
<line x1="792.05" y1="617.30" x2="792.05" y2="627.55" stroke="#1c75b5" stroke-width="1.8" />
<line x1="830.99" y1="599.11" x2="849.71" y2="599.11" stroke="#1c75b5" stroke-width="1.8" />
<line x1="840.35" y1="593.35" x2="840.35" y2="604.88" stroke="#1c75b5" stroke-width="1.8" />
<line x1="768.01" y1="635.31" x2="790.63" y2="635.31" stroke="#1c75b5" stroke-width="1.8" />
<line x1="779.32" y1="627.06" x2="779.32" y2="643.56" stroke="#1c75b5" stroke-width="1.8" />
<line x1="798.20" y1="628.01" x2="822.60" y2="628.01" stroke="#1c75b5" stroke-width="1.8" />
<line x1="810.40" y1="620.21" x2="810.40" y2="635.80" stroke="#1c75b5" stroke-width="1.8" />
<line x1="725.30" y1="654.91" x2="750.29" y2="654.91" stroke="#1c75b5" stroke-width="1.8" />
<line x1="737.80" y1="647.37" x2="737.80" y2="662.46" stroke="#1c75b5" stroke-width="1.8" />
<line x1="823.60" y1="591.46" x2="837.66" y2="591.46" stroke="#1c75b5" stroke-width="1.8" />
<line x1="830.63" y1="583.63" x2="830.63" y2="599.29" stroke="#1c75b5" stroke-width="1.8" />
<line x1="750.08" y1="628.11" x2="771.05" y2="628.11" stroke="#1c75b5" stroke-width="1.8" />
<line x1="760.57" y1="619.29" x2="760.57" y2="636.92" stroke="#1c75b5" stroke-width="1.8" />
<line x1="744.58" y1="655.30" x2="770.80" y2="655.30" stroke="#1c75b5" stroke-width="1.8" />
<line x1="757.69" y1="648.26" x2="757.69" y2="662.33" stroke="#1c75b5" stroke-width="1.8" />
<line x1="708.35" y1="657.66" x2="728.69" y2="657.66" stroke="#1c75b5" stroke-width="1.8" />
<line x1="718.52" y1="651.37" x2="718.52" y2="663.95" stroke="#1c75b5" stroke-width="1.8" />
<line x1="778.53" y1="627.23" x2="800.31" y2="627.23" stroke="#1c75b5" stroke-width="1.8" />
<line x1="789.42" y1="621.31" x2="789.42" y2="633.15" stroke="#1c75b5" stroke-width="1.8" />
<line x1="694.64" y1="664.54" x2="719.66" y2="664.54" stroke="#1c75b5" stroke-width="1.8" />
<line x1="707.15" y1="656.29" x2="707.15" y2="672.79" stroke="#1c75b5" stroke-width="1.8" />
<line x1="733.63" y1="655.67" x2="751.89" y2="655.67" stroke="#1c75b5" stroke-width="1.8" />
<line x1="742.76" y1="650.94" x2="742.76" y2="660.39" stroke="#1c75b5" stroke-width="1.8" />
<line x1="747.34" y1="639.90" x2="769.48" y2="639.90" stroke="#1c75b5" stroke-width="1.8" />
<line x1="758.41" y1="635.46" x2="758.41" y2="644.34" stroke="#1c75b5" stroke-width="1.8" />
<line x1="818.95" y1="610.42" x2="844.68" y2="610.42" stroke="#1c75b5" stroke-width="1.8" />
<line x1="831.82" y1="601.62" x2="831.82" y2="619.21" stroke="#1c75b5" stroke-width="1.8" />
<line x1="674.59" y1="674.74" x2="694.56" y2="674.74" stroke="#1c75b5" stroke-width="1.8" />
<line x1="684.57" y1="666.19" x2="684.57" y2="683.29" stroke="#1c75b5" stroke-width="1.8" />
<line x1="640.68" y1="707.12" x2="661.64" y2="707.12" stroke="#1c75b5" stroke-width="1.8" />
<line x1="651.16" y1="698.52" x2="651.16" y2="715.73" stroke="#1c75b5" stroke-width="1.8" />
<line x1="789.40" y1="616.04" x2="810.94" y2="616.04" stroke="#1c75b5" stroke-width="1.8" />
<line x1="800.17" y1="607.05" x2="800.17" y2="625.04" stroke="#1c75b5" stroke-width="1.8" />
<line x1="736.70" y1="661.46" x2="756.16" y2="661.46" stroke="#1c75b5" stroke-width="1.8" />
<line x1="746.43" y1="655.67" x2="746.43" y2="667.24" stroke="#1c75b5" stroke-width="1.8" />
<line x1="752.96" y1="640.99" x2="771.88" y2="640.99" stroke="#1c75b5" stroke-width="1.8" />
<line x1="762.42" y1="632.25" x2="762.42" y2="649.73" stroke="#1c75b5" stroke-width="1.8" />
<line x1="769.94" y1="634.08" x2="789.18" y2="634.08" stroke="#1c75b5" stroke-width="1.8" />
<line x1="779.56" y1="628.08" x2="779.56" y2="640.09" stroke="#1c75b5" stroke-width="1.8" />
<line x1="744.47" y1="644.03" x2="766.50" y2="644.03" stroke="#1c75b5" stroke-width="1.8" />
<line x1="755.48" y1="635.63" x2="755.48" y2="652.43" stroke="#1c75b5" stroke-width="1.8" />
<line x1="830.11" y1="607.45" x2="852.85" y2="607.45" stroke="#1c75b5" stroke-width="1.8" />
<line x1="841.48" y1="598.47" x2="841.48" y2="616.43" stroke="#1c75b5" stroke-width="1.8" />
<line x1="700.62" y1="669.12" x2="722.04" y2="669.12" stroke="#1c75b5" stroke-width="1.8" />
<line x1="711.33" y1="661.04" x2="711.33" y2="677.20" stroke="#1c75b5" stroke-width="1.8" />
<line x1="665.56" y1="704.34" x2="691.12" y2="704.34" stroke="#1c75b5" stroke-width="1.8" />
<line x1="678.34" y1="697.78" x2="678.34" y2="710.91" stroke="#1c75b5" stroke-width="1.8" />
<line x1="654.23" y1="681.58" x2="680.75" y2="681.58" stroke="#1c75b5" stroke-width="1.8" />
<line x1="667.49" y1="674.13" x2="667.49" y2="689.03" stroke="#1c75b5" stroke-width="1.8" />
<line x1="800.32" y1="596.07" x2="820.21" y2="596.07" stroke="#1c75b5" stroke-width="1.8" />
<line x1="810.26" y1="591.29" x2="810.26" y2="600.86" stroke="#1c75b5" stroke-width="1.8" />
<line x1="690.32" y1="678.37" x2="711.48" y2="678.37" stroke="#1c75b5" stroke-width="1.8" />
<line x1="700.90" y1="671.84" x2="700.90" y2="684.89" stroke="#1c75b5" stroke-width="1.8" />
<line x1="670.33" y1="686.92" x2="692.77" y2="686.92" stroke="#1c75b5" stroke-width="1.8" />
<line x1="681.55" y1="681.15" x2="681.55" y2="692.68" stroke="#1c75b5" stroke-width="1.8" />
<line x1="836.43" y1="584.06" x2="859.34" y2="584.06" stroke="#1c75b5" stroke-width="1.8" />
<line x1="847.89" y1="579.85" x2="847.89" y2="588.27" stroke="#1c75b5" stroke-width="1.8" />
<line x1="713.05" y1="659.32" x2="736.72" y2="659.32" stroke="#1c75b5" stroke-width="1.8" />
<line x1="724.89" y1="655.30" x2="724.89" y2="663.34" stroke="#1c75b5" stroke-width="1.8" />
<line x1="690.83" y1="682.39" x2="716.62" y2="682.39" stroke="#1c75b5" stroke-width="1.8" />
<line x1="703.72" y1="675.46" x2="703.72" y2="689.32" stroke="#1c75b5" stroke-width="1.8" />
<line x1="766.92" y1="627.83" x2="788.67" y2="627.83" stroke="#1c75b5" stroke-width="1.8" />
<line x1="777.79" y1="622.50" x2="777.79" y2="633.16" stroke="#1c75b5" stroke-width="1.8" />
<line x1="762.59" y1="624.03" x2="784.03" y2="624.03" stroke="#1c75b5" stroke-width="1.8" />
<line x1="773.31" y1="615.05" x2="773.31" y2="633.02" stroke="#1c75b5" stroke-width="1.8" />
<line x1="750.11" y1="645.62" x2="766.30" y2="645.62" stroke="#1c75b5" stroke-width="1.8" />
<line x1="758.21" y1="637.82" x2="758.21" y2="653.42" stroke="#1c75b5" stroke-width="1.8" />
<line x1="659.11" y1="701.53" x2="674.51" y2="701.53" stroke="#1c75b5" stroke-width="1.8" />
<line x1="666.81" y1="696.68" x2="666.81" y2="706.38" stroke="#1c75b5" stroke-width="1.8" />
<line x1="734.82" y1="642.60" x2="760.11" y2="642.60" stroke="#1c75b5" stroke-width="1.8" />
<line x1="747.47" y1="638.29" x2="747.47" y2="646.91" stroke="#1c75b5" stroke-width="1.8" />
<line x1="639.02" y1="728.14" x2="663.81" y2="728.14" stroke="#1c75b5" stroke-width="1.8" />
<line x1="651.41" y1="722.52" x2="651.41" y2="733.75" stroke="#1c75b5" stroke-width="1.8" />
<line x1="778.94" y1="628.99" x2="796.67" y2="628.99" stroke="#1c75b5" stroke-width="1.8" />
<line x1="787.81" y1="624.49" x2="787.81" y2="633.48" stroke="#1c75b5" stroke-width="1.8" />
<line x1="817.19" y1="600.62" x2="839.35" y2="600.62" stroke="#1c75b5" stroke-width="1.8" />
<line x1="828.27" y1="594.88" x2="828.27" y2="606.37" stroke="#1c75b5" stroke-width="1.8" />
<line x1="719.40" y1="658.53" x2="745.87" y2="658.53" stroke="#1c75b5" stroke-width="1.8" />
<line x1="732.64" y1="651.61" x2="732.64" y2="665.44" stroke="#1c75b5" stroke-width="1.8" />
<line x1="830.34" y1="596.82" x2="850.49" y2="596.82" stroke="#1c75b5" stroke-width="1.8" />
<line x1="840.42" y1="589.72" x2="840.42" y2="603.93" stroke="#1c75b5" stroke-width="1.8" />
<line x1="680.10" y1="663.90" x2="706.07" y2="663.90" stroke="#1c75b5" stroke-width="1.8" />
<line x1="693.09" y1="658.33" x2="693.09" y2="669.48" stroke="#1c75b5" stroke-width="1.8" />
<line x1="814.48" y1="599.91" x2="839.90" y2="599.91" stroke="#1c75b5" stroke-width="1.8" />
<line x1="827.19" y1="594.39" x2="827.19" y2="605.43" stroke="#1c75b5" stroke-width="1.8" />
<circle cx="830.80" cy="588.50" r="4.2" fill="#1c75b5" stroke="none" stroke-width="1" />
<circle cx="875.40" cy="577.30" r="4.2" fill="#1c75b5" stroke="none" stroke-width="1" />
<circle cx="873.00" cy="584.80" r="4.2" fill="#1c75b5" stroke="none" stroke-width="1" />
<circle cx="868.00" cy="594.70" r="4.2" fill="#1c75b5" stroke="none" stroke-width="1" />
<circle cx="848.20" cy="597.20" r="4.2" fill="#1c75b5" stroke="none" stroke-width="1" />
<circle cx="835.80" cy="610.80" r="4.2" fill="#1c75b5" stroke="none" stroke-width="1" />
<circle cx="834.50" cy="618.20" r="4.2" fill="#1c75b5" stroke="none" stroke-width="1" />
<circle cx="816.00" cy="613.30" r="4.2" fill="#1c75b5" stroke="none" stroke-width="1" />
<circle cx="798.60" cy="602.10" r="4.2" fill="#1c75b5" stroke="none" stroke-width="1" />
<circle cx="799.90" cy="615.80" r="4.2" fill="#1c75b5" stroke="none" stroke-width="1" />
<circle cx="802.30" cy="633.10" r="4.2" fill="#1c75b5" stroke="none" stroke-width="1" />
<circle cx="785.00" cy="615.80" r="4.2" fill="#1c75b5" stroke="none" stroke-width="1" />
<circle cx="773.80" cy="617.00" r="4.2" fill="#1c75b5" stroke="none" stroke-width="1" />
<circle cx="788.70" cy="629.40" r="4.2" fill="#1c75b5" stroke="none" stroke-width="1" />
<circle cx="781.30" cy="639.30" r="4.2" fill="#1c75b5" stroke="none" stroke-width="1" />
<circle cx="766.40" cy="631.90" r="4.2" fill="#1c75b5" stroke="none" stroke-width="1" />
<circle cx="768.90" cy="639.30" r="4.2" fill="#1c75b5" stroke="none" stroke-width="1" />
<circle cx="746.60" cy="626.90" r="4.2" fill="#1c75b5" stroke="none" stroke-width="1" />
<circle cx="732.90" cy="634.30" r="4.2" fill="#1c75b5" stroke="none" stroke-width="1" />
<circle cx="744.10" cy="644.30" r="4.2" fill="#1c75b5" stroke="none" stroke-width="1" />
<circle cx="754.00" cy="651.70" r="4.2" fill="#1c75b5" stroke="none" stroke-width="1" />
<circle cx="736.70" cy="669.00" r="4.2" fill="#1c75b5" stroke="none" stroke-width="1" />
<circle cx="721.80" cy="669.00" r="4.2" fill="#1c75b5" stroke="none" stroke-width="1" />
<circle cx="714.30" cy="656.70" r="4.2" fill="#1c75b5" stroke="none" stroke-width="1" />
<circle cx="705.70" cy="664.10" r="4.2" fill="#1c75b5" stroke="none" stroke-width="1" />
<circle cx="689.60" cy="666.60" r="4.2" fill="#1c75b5" stroke="none" stroke-width="1" />
<circle cx="679.70" cy="679.00" r="4.2" fill="#1c75b5" stroke="none" stroke-width="1" />
<circle cx="672.20" cy="683.90" r="4.2" fill="#1c75b5" stroke="none" stroke-width="1" />
<circle cx="697.00" cy="679.00" r="4.2" fill="#1c75b5" stroke="none" stroke-width="1" />
<circle cx="704.40" cy="693.80" r="4.2" fill="#1c75b5" stroke="none" stroke-width="1" />
<circle cx="692.00" cy="688.90" r="4.2" fill="#1c75b5" stroke="none" stroke-width="1" />
<circle cx="684.60" cy="693.80" r="4.2" fill="#1c75b5" stroke="none" stroke-width="1" />
<circle cx="664.80" cy="698.80" r="4.2" fill="#1c75b5" stroke="none" stroke-width="1" />
<circle cx="652.40" cy="703.70" r="4.2" fill="#1c75b5" stroke="none" stroke-width="1" />
<circle cx="647.40" cy="711.20" r="4.2" fill="#1c75b5" stroke="none" stroke-width="1" />
<circle cx="662.30" cy="716.10" r="4.2" fill="#1c75b5" stroke="none" stroke-width="1" />
<circle cx="724.30" cy="661.60" r="4.2" fill="#1c75b5" stroke="none" stroke-width="1" />
<circle cx="749.00" cy="634.30" r="4.2" fill="#1c75b5" stroke="none" stroke-width="1" />
<circle cx="653.00" cy="730.00" r="4.2" fill="#1c75b5" stroke="none" stroke-width="1" />
<circle cx="660.00" cy="722.00" r="4.2" fill="#1c75b5" stroke="none" stroke-width="1" />
<circle cx="646.00" cy="735.00" r="4.2" fill="#1c75b5" stroke="none" stroke-width="1" />
<circle cx="906.80" cy="564.40" r="4.2" fill="#1c75b5" stroke="none" stroke-width="1" />
<circle cx="876.70" cy="579.20" r="4.2" fill="#1c75b5" stroke="none" stroke-width="1" />
<circle cx="650.00" cy="705.00" r="4.2" fill="#1c75b5" stroke="none" stroke-width="1" />
<circle cx="656.00" cy="700.00" r="4.2" fill="#1c75b5" stroke="none" stroke-width="1" />
<circle cx="710.00" cy="672.00" r="4.2" fill="#1c75b5" stroke="none" stroke-width="1" />
<circle cx="727.00" cy="650.00" r="4.2" fill="#1c75b5" stroke="none" stroke-width="1" />
<circle cx="740.00" cy="640.00" r="4.2" fill="#1c75b5" stroke="none" stroke-width="1" />
<circle cx="760.00" cy="628.00" r="4.2" fill="#1c75b5" stroke="none" stroke-width="1" />
<circle cx="790.00" cy="610.00" r="4.2" fill="#1c75b5" stroke="none" stroke-width="1" />
<circle cx="812.00" cy="600.00" r="4.2" fill="#1c75b5" stroke="none" stroke-width="1" />
<circle cx="825.00" cy="605.00" r="4.2" fill="#1c75b5" stroke="none" stroke-width="1" />
<circle cx="855.00" cy="590.00" r="4.2" fill="#1c75b5" stroke="none" stroke-width="1" />
<circle cx="886.00" cy="575.00" r="4.2" fill="#1c75b5" stroke="none" stroke-width="1" />
<circle cx="700.00" cy="683.00" r="4.2" fill="#1c75b5" stroke="none" stroke-width="1" />
<circle cx="718.00" cy="676.00" r="4.2" fill="#1c75b5" stroke="none" stroke-width="1" />
<circle cx="680.00" cy="690.00" r="4.2" fill="#1c75b5" stroke="none" stroke-width="1" />
<circle cx="683.99" cy="692.37" r="4.2" fill="#1c75b5" stroke="none" stroke-width="1" />
<circle cx="736.52" cy="663.35" r="4.2" fill="#1c75b5" stroke="none" stroke-width="1" />
<circle cx="687.82" cy="695.49" r="4.2" fill="#1c75b5" stroke="none" stroke-width="1" />
<circle cx="713.18" cy="669.30" r="4.2" fill="#1c75b5" stroke="none" stroke-width="1" />
<circle cx="754.51" cy="650.99" r="4.2" fill="#1c75b5" stroke="none" stroke-width="1" />
<circle cx="799.88" cy="619.08" r="4.2" fill="#1c75b5" stroke="none" stroke-width="1" />
<circle cx="821.21" cy="611.27" r="4.2" fill="#1c75b5" stroke="none" stroke-width="1" />
<circle cx="792.05" cy="622.43" r="4.2" fill="#1c75b5" stroke="none" stroke-width="1" />
<circle cx="840.35" cy="599.11" r="4.2" fill="#1c75b5" stroke="none" stroke-width="1" />
<circle cx="779.32" cy="635.31" r="4.2" fill="#1c75b5" stroke="none" stroke-width="1" />
<circle cx="810.40" cy="628.01" r="4.2" fill="#1c75b5" stroke="none" stroke-width="1" />
<circle cx="737.80" cy="654.91" r="4.2" fill="#1c75b5" stroke="none" stroke-width="1" />
<circle cx="830.63" cy="591.46" r="4.2" fill="#1c75b5" stroke="none" stroke-width="1" />
<circle cx="760.57" cy="628.11" r="4.2" fill="#1c75b5" stroke="none" stroke-width="1" />
<circle cx="757.69" cy="655.30" r="4.2" fill="#1c75b5" stroke="none" stroke-width="1" />
<circle cx="718.52" cy="657.66" r="4.2" fill="#1c75b5" stroke="none" stroke-width="1" />
<circle cx="789.42" cy="627.23" r="4.2" fill="#1c75b5" stroke="none" stroke-width="1" />
<circle cx="707.15" cy="664.54" r="4.2" fill="#1c75b5" stroke="none" stroke-width="1" />
<circle cx="742.76" cy="655.67" r="4.2" fill="#1c75b5" stroke="none" stroke-width="1" />
<circle cx="758.41" cy="639.90" r="4.2" fill="#1c75b5" stroke="none" stroke-width="1" />
<circle cx="831.82" cy="610.42" r="4.2" fill="#1c75b5" stroke="none" stroke-width="1" />
<circle cx="684.57" cy="674.74" r="4.2" fill="#1c75b5" stroke="none" stroke-width="1" />
<circle cx="651.16" cy="707.12" r="4.2" fill="#1c75b5" stroke="none" stroke-width="1" />
<circle cx="800.17" cy="616.04" r="4.2" fill="#1c75b5" stroke="none" stroke-width="1" />
<circle cx="746.43" cy="661.46" r="4.2" fill="#1c75b5" stroke="none" stroke-width="1" />
<circle cx="762.42" cy="640.99" r="4.2" fill="#1c75b5" stroke="none" stroke-width="1" />
<circle cx="779.56" cy="634.08" r="4.2" fill="#1c75b5" stroke="none" stroke-width="1" />
<circle cx="755.48" cy="644.03" r="4.2" fill="#1c75b5" stroke="none" stroke-width="1" />
<circle cx="841.48" cy="607.45" r="4.2" fill="#1c75b5" stroke="none" stroke-width="1" />
<circle cx="711.33" cy="669.12" r="4.2" fill="#1c75b5" stroke="none" stroke-width="1" />
<circle cx="678.34" cy="704.34" r="4.2" fill="#1c75b5" stroke="none" stroke-width="1" />
<circle cx="667.49" cy="681.58" r="4.2" fill="#1c75b5" stroke="none" stroke-width="1" />
<circle cx="810.26" cy="596.07" r="4.2" fill="#1c75b5" stroke="none" stroke-width="1" />
<circle cx="700.90" cy="678.37" r="4.2" fill="#1c75b5" stroke="none" stroke-width="1" />
<circle cx="681.55" cy="686.92" r="4.2" fill="#1c75b5" stroke="none" stroke-width="1" />
<circle cx="847.89" cy="584.06" r="4.2" fill="#1c75b5" stroke="none" stroke-width="1" />
<circle cx="724.89" cy="659.32" r="4.2" fill="#1c75b5" stroke="none" stroke-width="1" />
<circle cx="703.72" cy="682.39" r="4.2" fill="#1c75b5" stroke="none" stroke-width="1" />
<circle cx="777.79" cy="627.83" r="4.2" fill="#1c75b5" stroke="none" stroke-width="1" />
<circle cx="773.31" cy="624.03" r="4.2" fill="#1c75b5" stroke="none" stroke-width="1" />
<circle cx="758.21" cy="645.62" r="4.2" fill="#1c75b5" stroke="none" stroke-width="1" />
<circle cx="666.81" cy="701.53" r="4.2" fill="#1c75b5" stroke="none" stroke-width="1" />
<circle cx="747.47" cy="642.60" r="4.2" fill="#1c75b5" stroke="none" stroke-width="1" />
<circle cx="651.41" cy="728.14" r="4.2" fill="#1c75b5" stroke="none" stroke-width="1" />
<circle cx="787.81" cy="628.99" r="4.2" fill="#1c75b5" stroke="none" stroke-width="1" />
<circle cx="828.27" cy="600.62" r="4.2" fill="#1c75b5" stroke="none" stroke-width="1" />
<circle cx="732.64" cy="658.53" r="4.2" fill="#1c75b5" stroke="none" stroke-width="1" />
<circle cx="840.42" cy="596.82" r="4.2" fill="#1c75b5" stroke="none" stroke-width="1" />
<circle cx="693.09" cy="663.90" r="4.2" fill="#1c75b5" stroke="none" stroke-width="1" />
<circle cx="827.19" cy="599.91" r="4.2" fill="#1c75b5" stroke="none" stroke-width="1" />
<path d="M589.10,809.42 L591.27,808.49 L593.44,807.56 L595.60,806.63 L597.77,805.72 L599.94,804.81 L602.11,803.91 L604.28,803.02 L606.44,802.13 L608.61,801.25 L610.78,800.38 L612.95,799.52 L615.12,798.66 L617.28,797.82 L619.45,796.98 L621.62,796.15 L623.79,795.33 L625.96,794.52 L628.12,793.72 L630.29,792.93 L632.46,792.15 L634.63,791.37 L636.80,790.61 L638.96,789.85 L641.13,789.11 L643.30,788.38 L645.47,787.65 L647.64,786.94 L649.80,786.24 L651.97,785.55 L654.14,784.87 L656.31,784.20 L658.48,783.54 L660.64,782.88 L662.81,782.24 L664.98,781.60 L667.15,780.97 L669.32,780.35 L671.48,779.73 L673.65,779.12 L675.82,778.52 L677.99,777.93 L680.16,777.34 L682.32,776.76 L684.49,776.18 L686.66,775.61 L688.83,775.04 L691.00,774.48 L693.16,773.93 L695.33,773.38 L697.50,772.83 L699.67,772.29 L701.84,771.75 L704.00,771.22 L706.17,770.68 L708.34,770.16 L710.51,769.63 L712.68,769.11 L714.84,768.59 L717.01,768.07 L719.18,767.56 L721.35,767.04 L723.52,766.53 L725.68,766.03 L727.85,765.53 L730.02,765.03 L732.19,764.53 L734.36,764.04 L736.52,763.55 L738.69,763.07 L740.86,762.59 L743.03,762.11 L745.20,761.64 L747.36,761.17 L749.53,760.70 L751.70,760.23 L753.87,759.77 L756.04,759.31 L758.20,758.86 L760.37,758.40 L762.54,757.95 L764.71,757.50 L766.88,757.06 L769.04,756.62 L771.21,756.18 L773.38,755.74 L775.55,755.30 L777.72,754.87 L779.88,754.44 L782.05,754.01 L784.22,753.59 L786.39,753.16 L788.56,752.74 L790.72,752.32 L792.89,751.91 L795.06,751.50 L797.23,751.10 L799.40,750.70 L801.56,750.30 L803.73,749.91 L805.90,749.52 L808.07,749.14 L810.24,748.75 L812.40,748.37 L814.57,747.99 L816.74,747.61 L818.91,747.24 L821.08,746.86 L823.24,746.48 L825.41,746.11 L827.58,745.73 L829.75,745.35 L831.92,744.97 L834.08,744.59 L836.25,744.21 L838.42,743.83 L840.59,743.45 L842.76,743.06 L844.92,742.67 L847.09,742.27 L849.26,741.88 L851.43,741.48 L853.60,741.07 L855.76,740.66 L857.93,740.25 L860.10,739.83 L862.27,739.40 L864.44,738.98 L866.60,738.55 L868.77,738.11 L870.94,737.68 L873.11,737.24 L875.28,736.80 L877.44,736.36 L879.61,735.92 L881.78,735.48 L883.95,735.05 L886.12,734.61 L888.28,734.17 L890.45,733.74 L892.62,733.31 L894.79,732.88 L896.96,732.45 L899.12,732.03 L901.29,731.61 L903.46,731.20 L905.63,730.80 L907.80,730.40 L909.96,730.00 L912.13,729.60 L914.30,729.21 L916.47,728.81 L918.64,728.42 L920.80,728.03 L922.97,727.63 L925.14,727.24 L927.31,726.85 L929.48,726.46 L931.64,726.07 L933.81,725.68 L935.98,725.30 L938.15,724.91 L940.32,724.52 L942.48,724.14 L944.65,723.76 L946.82,723.37 L948.99,722.99 L951.16,722.61 L953.32,722.23 L955.49,721.85 L957.66,721.48 L959.83,721.10 L962.00,720.73 L964.16,720.35 L966.33,719.98 L968.50,719.61 L970.67,719.24 L972.84,718.87 L975.00,718.50 L977.17,718.13 L979.34,717.77 L981.51,717.41 L983.68,717.04 L985.84,716.68 L988.01,716.32 L990.18,715.96 L992.35,715.61 L994.52,715.25 L996.68,714.90 L998.85,714.54 L1001.02,714.19 L1003.19,713.84 L1005.36,713.49 L1007.52,713.15 L1009.69,712.80 L1011.86,712.46 L1014.03,712.11 L1016.20,711.77 L1018.36,711.43 L1020.53,711.09 L1022.70,710.75 L1024.87,710.42 L1024.87,713.59 L1022.70,713.93 L1020.53,714.27 L1018.36,714.62 L1016.20,714.97 L1014.03,715.33 L1011.86,715.69 L1009.69,716.05 L1007.52,716.41 L1005.36,716.78 L1003.19,717.15 L1001.02,717.53 L998.85,717.90 L996.68,718.28 L994.52,718.67 L992.35,719.05 L990.18,719.44 L988.01,719.83 L985.84,720.22 L983.68,720.62 L981.51,721.02 L979.34,721.42 L977.17,721.82 L975.00,722.23 L972.84,722.63 L970.67,723.04 L968.50,723.46 L966.33,723.87 L964.16,724.29 L962.00,724.71 L959.83,725.13 L957.66,725.55 L955.49,725.98 L953.32,726.41 L951.16,726.84 L948.99,727.27 L946.82,727.70 L944.65,728.14 L942.48,728.57 L940.32,729.01 L938.15,729.45 L935.98,729.90 L933.81,730.34 L931.64,730.79 L929.48,731.24 L927.31,731.69 L925.14,732.14 L922.97,732.59 L920.80,733.04 L918.64,733.50 L916.47,733.96 L914.30,734.42 L912.13,734.88 L909.96,735.34 L907.80,735.80 L905.63,736.27 L903.46,736.75 L901.29,737.23 L899.12,737.72 L896.96,738.21 L894.79,738.70 L892.62,739.20 L890.45,739.71 L888.28,740.22 L886.12,740.73 L883.95,741.24 L881.78,741.75 L879.61,742.27 L877.44,742.79 L875.28,743.30 L873.11,743.82 L870.94,744.34 L868.77,744.85 L866.60,745.37 L864.44,745.88 L862.27,746.39 L860.10,746.89 L857.93,747.40 L855.76,747.90 L853.60,748.39 L851.43,748.88 L849.26,749.37 L847.09,749.85 L844.92,750.33 L842.76,750.81 L840.59,751.28 L838.42,751.76 L836.25,752.23 L834.08,752.70 L831.92,753.17 L829.75,753.64 L827.58,754.11 L825.41,754.58 L823.24,755.05 L821.08,755.52 L818.91,755.99 L816.74,756.47 L814.57,756.94 L812.40,757.42 L810.24,757.90 L808.07,758.38 L805.90,758.86 L803.73,759.35 L801.56,759.84 L799.40,760.34 L797.23,760.84 L795.06,761.34 L792.89,761.85 L790.72,762.36 L788.56,762.88 L786.39,763.41 L784.22,763.94 L782.05,764.47 L779.88,765.00 L777.72,765.54 L775.55,766.08 L773.38,766.62 L771.21,767.17 L769.04,767.71 L766.88,768.27 L764.71,768.82 L762.54,769.38 L760.37,769.94 L758.20,770.50 L756.04,771.07 L753.87,771.64 L751.70,772.21 L749.53,772.79 L747.36,773.37 L745.20,773.96 L743.03,774.55 L740.86,775.14 L738.69,775.74 L736.52,776.34 L734.36,776.94 L732.19,777.55 L730.02,778.16 L727.85,778.78 L725.68,779.40 L723.52,780.03 L721.35,780.65 L719.18,781.29 L717.01,781.93 L714.84,782.56 L712.68,783.21 L710.51,783.85 L708.34,784.50 L706.17,785.15 L704.00,785.80 L701.84,786.46 L699.67,787.13 L697.50,787.79 L695.33,788.47 L693.16,789.14 L691.00,789.83 L688.83,790.51 L686.66,791.21 L684.49,791.91 L682.32,792.61 L680.16,793.32 L677.99,794.04 L675.82,794.77 L673.65,795.50 L671.48,796.24 L669.32,796.99 L667.15,797.74 L664.98,798.50 L662.81,799.27 L660.64,800.05 L658.48,800.84 L656.31,801.64 L654.14,802.45 L651.97,803.26 L649.80,804.09 L647.64,804.93 L645.47,805.78 L643.30,806.64 L641.13,807.51 L638.96,808.39 L636.80,809.28 L634.63,810.19 L632.46,811.10 L630.29,812.02 L628.12,812.96 L625.96,813.90 L623.79,814.85 L621.62,815.82 L619.45,816.79 L617.28,817.77 L615.12,818.76 L612.95,819.75 L610.78,820.76 L608.61,821.78 L606.44,822.80 L604.28,823.83 L602.11,824.87 L599.94,825.92 L597.77,826.98 L595.60,828.04 L593.44,829.11 L591.27,830.19 L589.10,831.27 Z" fill="#d65b27" fill-opacity="0.2" stroke="none"/>
<polyline points="589.10,809.42 591.27,808.49 593.44,807.56 595.60,806.63 597.77,805.72 599.94,804.81 602.11,803.91 604.28,803.02 606.44,802.13 608.61,801.25 610.78,800.38 612.95,799.52 615.12,798.66 617.28,797.82 619.45,796.98 621.62,796.15 623.79,795.33 625.96,794.52 628.12,793.72 630.29,792.93 632.46,792.15 634.63,791.37 636.80,790.61 638.96,789.85 641.13,789.11 643.30,788.38 645.47,787.65 647.64,786.94 649.80,786.24 651.97,785.55 654.14,784.87 656.31,784.20 658.48,783.54 660.64,782.88 662.81,782.24 664.98,781.60 667.15,780.97 669.32,780.35 671.48,779.73 673.65,779.12 675.82,778.52 677.99,777.93 680.16,777.34 682.32,776.76 684.49,776.18 686.66,775.61 688.83,775.04 691.00,774.48 693.16,773.93 695.33,773.38 697.50,772.83 699.67,772.29 701.84,771.75 704.00,771.22 706.17,770.68 708.34,770.16 710.51,769.63 712.68,769.11 714.84,768.59 717.01,768.07 719.18,767.56 721.35,767.04 723.52,766.53 725.68,766.03 727.85,765.53 730.02,765.03 732.19,764.53 734.36,764.04 736.52,763.55 738.69,763.07 740.86,762.59 743.03,762.11 745.20,761.64 747.36,761.17 749.53,760.70 751.70,760.23 753.87,759.77 756.04,759.31 758.20,758.86 760.37,758.40 762.54,757.95 764.71,757.50 766.88,757.06 769.04,756.62 771.21,756.18 773.38,755.74 775.55,755.30 777.72,754.87 779.88,754.44 782.05,754.01 784.22,753.59 786.39,753.16 788.56,752.74 790.72,752.32 792.89,751.91 795.06,751.50 797.23,751.10 799.40,750.70 801.56,750.30 803.73,749.91 805.90,749.52 808.07,749.14 810.24,748.75 812.40,748.37 814.57,747.99 816.74,747.61 818.91,747.24 821.08,746.86 823.24,746.48 825.41,746.11 827.58,745.73 829.75,745.35 831.92,744.97 834.08,744.59 836.25,744.21 838.42,743.83 840.59,743.45 842.76,743.06 844.92,742.67 847.09,742.27 849.26,741.88 851.43,741.48 853.60,741.07 855.76,740.66 857.93,740.25 860.10,739.83 862.27,739.40 864.44,738.98 866.60,738.55 868.77,738.11 870.94,737.68 873.11,737.24 875.28,736.80 877.44,736.36 879.61,735.92 881.78,735.48 883.95,735.05 886.12,734.61 888.28,734.17 890.45,733.74 892.62,733.31 894.79,732.88 896.96,732.45 899.12,732.03 901.29,731.61 903.46,731.20 905.63,730.80 907.80,730.40 909.96,730.00 912.13,729.60 914.30,729.21 916.47,728.81 918.64,728.42 920.80,728.03 922.97,727.63 925.14,727.24 927.31,726.85 929.48,726.46 931.64,726.07 933.81,725.68 935.98,725.30 938.15,724.91 940.32,724.52 942.48,724.14 944.65,723.76 946.82,723.37 948.99,722.99 951.16,722.61 953.32,722.23 955.49,721.85 957.66,721.48 959.83,721.10 962.00,720.73 964.16,720.35 966.33,719.98 968.50,719.61 970.67,719.24 972.84,718.87 975.00,718.50 977.17,718.13 979.34,717.77 981.51,717.41 983.68,717.04 985.84,716.68 988.01,716.32 990.18,715.96 992.35,715.61 994.52,715.25 996.68,714.90 998.85,714.54 1001.02,714.19 1003.19,713.84 1005.36,713.49 1007.52,713.15 1009.69,712.80 1011.86,712.46 1014.03,712.11 1016.20,711.77 1018.36,711.43 1020.53,711.09 1022.70,710.75 1024.87,710.42" fill="none" stroke="#d65b27" stroke-width="2" stroke-linejoin="round" />
<polyline points="589.10,831.27 591.27,830.19 593.44,829.11 595.60,828.04 597.77,826.98 599.94,825.92 602.11,824.87 604.28,823.83 606.44,822.80 608.61,821.78 610.78,820.76 612.95,819.75 615.12,818.76 617.28,817.77 619.45,816.79 621.62,815.82 623.79,814.85 625.96,813.90 628.12,812.96 630.29,812.02 632.46,811.10 634.63,810.19 636.80,809.28 638.96,808.39 641.13,807.51 643.30,806.64 645.47,805.78 647.64,804.93 649.80,804.09 651.97,803.26 654.14,802.45 656.31,801.64 658.48,800.84 660.64,800.05 662.81,799.27 664.98,798.50 667.15,797.74 669.32,796.99 671.48,796.24 673.65,795.50 675.82,794.77 677.99,794.04 680.16,793.32 682.32,792.61 684.49,791.91 686.66,791.21 688.83,790.51 691.00,789.83 693.16,789.14 695.33,788.47 697.50,787.79 699.67,787.13 701.84,786.46 704.00,785.80 706.17,785.15 708.34,784.50 710.51,783.85 712.68,783.21 714.84,782.56 717.01,781.93 719.18,781.29 721.35,780.65 723.52,780.03 725.68,779.40 727.85,778.78 730.02,778.16 732.19,777.55 734.36,776.94 736.52,776.34 738.69,775.74 740.86,775.14 743.03,774.55 745.20,773.96 747.36,773.37 749.53,772.79 751.70,772.21 753.87,771.64 756.04,771.07 758.20,770.50 760.37,769.94 762.54,769.38 764.71,768.82 766.88,768.27 769.04,767.71 771.21,767.17 773.38,766.62 775.55,766.08 777.72,765.54 779.88,765.00 782.05,764.47 784.22,763.94 786.39,763.41 788.56,762.88 790.72,762.36 792.89,761.85 795.06,761.34 797.23,760.84 799.40,760.34 801.56,759.84 803.73,759.35 805.90,758.86 808.07,758.38 810.24,757.90 812.40,757.42 814.57,756.94 816.74,756.47 818.91,755.99 821.08,755.52 823.24,755.05 825.41,754.58 827.58,754.11 829.75,753.64 831.92,753.17 834.08,752.70 836.25,752.23 838.42,751.76 840.59,751.28 842.76,750.81 844.92,750.33 847.09,749.85 849.26,749.37 851.43,748.88 853.60,748.39 855.76,747.90 857.93,747.40 860.10,746.89 862.27,746.39 864.44,745.88 866.60,745.37 868.77,744.85 870.94,744.34 873.11,743.82 875.28,743.30 877.44,742.79 879.61,742.27 881.78,741.75 883.95,741.24 886.12,740.73 888.28,740.22 890.45,739.71 892.62,739.20 894.79,738.70 896.96,738.21 899.12,737.72 901.29,737.23 903.46,736.75 905.63,736.27 907.80,735.80 909.96,735.34 912.13,734.88 914.30,734.42 916.47,733.96 918.64,733.50 920.80,733.04 922.97,732.59 925.14,732.14 927.31,731.69 929.48,731.24 931.64,730.79 933.81,730.34 935.98,729.90 938.15,729.45 940.32,729.01 942.48,728.57 944.65,728.14 946.82,727.70 948.99,727.27 951.16,726.84 953.32,726.41 955.49,725.98 957.66,725.55 959.83,725.13 962.00,724.71 964.16,724.29 966.33,723.87 968.50,723.46 970.67,723.04 972.84,722.63 975.00,722.23 977.17,721.82 979.34,721.42 981.51,721.02 983.68,720.62 985.84,720.22 988.01,719.83 990.18,719.44 992.35,719.05 994.52,718.67 996.68,718.28 998.85,717.90 1001.02,717.53 1003.19,717.15 1005.36,716.78 1007.52,716.41 1009.69,716.05 1011.86,715.69 1014.03,715.33 1016.20,714.97 1018.36,714.62 1020.53,714.27 1022.70,713.93 1024.87,713.59" fill="none" stroke="#d65b27" stroke-width="2" stroke-linejoin="round" />
<polyline points="589.10,818.43 591.27,817.43 593.44,816.44 595.60,815.46 597.77,814.49 599.94,813.52 602.11,812.56 604.28,811.61 606.44,810.67 608.61,809.73 610.78,808.80 612.95,807.88 615.12,806.97 617.28,806.07 619.45,805.17 621.62,804.29 623.79,803.41 625.96,802.55 628.12,801.69 630.29,800.84 632.46,800.00 634.63,799.17 636.80,798.35 638.96,797.54 641.13,796.74 643.30,795.96 645.47,795.18 647.64,794.41 649.80,793.66 651.97,792.91 654.14,792.18 656.31,791.45 658.48,790.74 660.64,790.03 662.81,789.33 664.98,788.64 667.15,787.96 669.32,787.28 671.48,786.61 673.65,785.95 675.82,785.30 677.99,784.65 680.16,784.01 682.32,783.38 684.49,782.75 686.66,782.13 688.83,781.52 691.00,780.90 693.16,780.30 695.33,779.70 697.50,779.10 699.67,778.51 701.84,777.92 704.00,777.34 706.17,776.76 708.34,776.18 710.51,775.61 712.68,775.03 714.84,774.47 717.01,773.90 719.18,773.34 721.35,772.78 723.52,772.22 725.68,771.67 727.85,771.12 730.02,770.57 732.19,770.03 734.36,769.49 736.52,768.96 738.69,768.43 740.86,767.90 743.03,767.38 745.20,766.86 747.36,766.34 749.53,765.83 751.70,765.32 753.87,764.81 756.04,764.31 758.20,763.81 760.37,763.31 762.54,762.82 764.71,762.33 766.88,761.84 769.04,761.35 771.21,760.87 773.38,760.39 775.55,759.91 777.72,759.44 779.88,758.96 782.05,758.49 784.22,758.02 786.39,757.56 788.56,757.10 790.72,756.64 792.89,756.18 795.06,755.74 797.23,755.29 799.40,754.85 801.56,754.42 803.73,753.99 805.90,753.56 808.07,753.13 810.24,752.71 812.40,752.29 814.57,751.87 816.74,751.46 818.91,751.04 821.08,750.63 823.24,750.21 825.41,749.80 827.58,749.38 829.75,748.97 831.92,748.56 834.08,748.14 836.25,747.72 838.42,747.31 840.59,746.89 842.76,746.46 844.92,746.04 847.09,745.61 849.26,745.18 851.43,744.74 853.60,744.31 855.76,743.86 857.93,743.41 860.10,742.96 862.27,742.51 864.44,742.05 866.60,741.58 868.77,741.12 870.94,740.65 873.11,740.18 875.28,739.71 877.44,739.24 879.61,738.77 881.78,738.30 883.95,737.83 886.12,737.36 888.28,736.90 890.45,736.44 892.62,735.97 894.79,735.52 896.96,735.06 899.12,734.61 901.29,734.17 903.46,733.73 905.63,733.30 907.80,732.87 909.96,732.45 912.13,732.03 914.30,731.60 916.47,731.18 918.64,730.76 920.80,730.35 922.97,729.93 925.14,729.51 927.31,729.10 929.48,728.68 931.64,728.27 933.81,727.86 935.98,727.45 938.15,727.04 940.32,726.63 942.48,726.23 944.65,725.82 946.82,725.42 948.99,725.02 951.16,724.62 953.32,724.22 955.49,723.82 957.66,723.42 959.83,723.03 962.00,722.63 964.16,722.24 966.33,721.85 968.50,721.46 970.67,721.08 972.84,720.69 975.00,720.31 977.17,719.93 979.34,719.55 981.51,719.17 983.68,718.79 985.84,718.42 988.01,718.04 990.18,717.67 992.35,717.30 994.52,716.93 996.68,716.57 998.85,716.21 1001.02,715.84 1003.19,715.48 1005.36,715.13 1007.52,714.77 1009.69,714.42 1011.86,714.07 1014.03,713.72 1016.20,713.37 1018.36,713.03 1020.53,712.68 1022.70,712.34 1024.87,712.00" fill="none" stroke="#d65b27" stroke-width="2.4" stroke-linejoin="round" stroke-dasharray="6,5"/>
<line x1="713.15" y1="775.69" x2="732.40" y2="775.69" stroke="#f08c2e" stroke-width="1.9" />
<line x1="722.78" y1="772.84" x2="722.78" y2="778.55" stroke="#f08c2e" stroke-width="1.9" />
<line x1="848.71" y1="747.80" x2="861.85" y2="747.80" stroke="#f08c2e" stroke-width="1.9" />
<line x1="855.28" y1="745.14" x2="855.28" y2="750.45" stroke="#f08c2e" stroke-width="1.9" />
<line x1="859.77" y1="739.57" x2="888.40" y2="739.57" stroke="#f08c2e" stroke-width="1.9" />
<line x1="874.09" y1="737.30" x2="874.09" y2="741.83" stroke="#f08c2e" stroke-width="1.9" />
<line x1="644.17" y1="795.34" x2="656.40" y2="795.34" stroke="#f08c2e" stroke-width="1.9" />
<line x1="650.28" y1="792.44" x2="650.28" y2="798.25" stroke="#f08c2e" stroke-width="1.9" />
<line x1="780.59" y1="757.21" x2="795.45" y2="757.21" stroke="#f08c2e" stroke-width="1.9" />
<line x1="788.02" y1="755.74" x2="788.02" y2="758.68" stroke="#f08c2e" stroke-width="1.9" />
<line x1="818.29" y1="747.76" x2="837.21" y2="747.76" stroke="#f08c2e" stroke-width="1.9" />
<line x1="827.75" y1="746.45" x2="827.75" y2="749.06" stroke="#f08c2e" stroke-width="1.9" />
<line x1="858.54" y1="739.57" x2="888.36" y2="739.57" stroke="#f08c2e" stroke-width="1.9" />
<line x1="873.45" y1="737.35" x2="873.45" y2="741.78" stroke="#f08c2e" stroke-width="1.9" />
<line x1="816.78" y1="751.04" x2="842.15" y2="751.04" stroke="#f08c2e" stroke-width="1.9" />
<line x1="829.46" y1="748.25" x2="829.46" y2="753.83" stroke="#f08c2e" stroke-width="1.9" />
<line x1="818.88" y1="747.37" x2="844.74" y2="747.37" stroke="#f08c2e" stroke-width="1.9" />
<line x1="831.81" y1="745.31" x2="831.81" y2="749.43" stroke="#f08c2e" stroke-width="1.9" />
<line x1="805.67" y1="753.52" x2="826.44" y2="753.52" stroke="#f08c2e" stroke-width="1.9" />
<line x1="816.06" y1="750.76" x2="816.06" y2="756.29" stroke="#f08c2e" stroke-width="1.9" />
<line x1="750.00" y1="764.22" x2="764.78" y2="764.22" stroke="#f08c2e" stroke-width="1.9" />
<line x1="757.39" y1="762.24" x2="757.39" y2="766.21" stroke="#f08c2e" stroke-width="1.9" />
<line x1="642.81" y1="789.89" x2="664.15" y2="789.89" stroke="#f08c2e" stroke-width="1.9" />
<line x1="653.48" y1="788.60" x2="653.48" y2="791.18" stroke="#f08c2e" stroke-width="1.9" />
<line x1="724.79" y1="772.54" x2="754.04" y2="772.54" stroke="#f08c2e" stroke-width="1.9" />
<line x1="739.41" y1="771.53" x2="739.41" y2="773.55" stroke="#f08c2e" stroke-width="1.9" />
<line x1="839.69" y1="744.91" x2="861.05" y2="744.91" stroke="#f08c2e" stroke-width="1.9" />
<line x1="850.37" y1="742.78" x2="850.37" y2="747.03" stroke="#f08c2e" stroke-width="1.9" />
<line x1="780.79" y1="754.78" x2="801.17" y2="754.78" stroke="#f08c2e" stroke-width="1.9" />
<line x1="790.98" y1="751.86" x2="790.98" y2="757.71" stroke="#f08c2e" stroke-width="1.9" />
<line x1="642.82" y1="794.64" x2="667.56" y2="794.64" stroke="#f08c2e" stroke-width="1.9" />
<line x1="655.19" y1="792.36" x2="655.19" y2="796.91" stroke="#f08c2e" stroke-width="1.9" />
<line x1="635.74" y1="797.25" x2="666.37" y2="797.25" stroke="#f08c2e" stroke-width="1.9" />
<line x1="651.06" y1="795.59" x2="651.06" y2="798.91" stroke="#f08c2e" stroke-width="1.9" />
<line x1="891.75" y1="737.17" x2="913.97" y2="737.17" stroke="#f08c2e" stroke-width="1.9" />
<line x1="902.86" y1="735.20" x2="902.86" y2="739.14" stroke="#f08c2e" stroke-width="1.9" />
<line x1="858.78" y1="735.27" x2="883.28" y2="735.27" stroke="#f08c2e" stroke-width="1.9" />
<line x1="871.03" y1="733.60" x2="871.03" y2="736.95" stroke="#f08c2e" stroke-width="1.9" />
<line x1="848.24" y1="742.26" x2="867.56" y2="742.26" stroke="#f08c2e" stroke-width="1.9" />
<line x1="857.90" y1="740.31" x2="857.90" y2="744.21" stroke="#f08c2e" stroke-width="1.9" />
<line x1="738.57" y1="765.67" x2="759.27" y2="765.67" stroke="#f08c2e" stroke-width="1.9" />
<line x1="748.92" y1="763.82" x2="748.92" y2="767.51" stroke="#f08c2e" stroke-width="1.9" />
<line x1="742.82" y1="766.41" x2="771.36" y2="766.41" stroke="#f08c2e" stroke-width="1.9" />
<line x1="757.09" y1="764.83" x2="757.09" y2="768.00" stroke="#f08c2e" stroke-width="1.9" />
<line x1="837.01" y1="749.23" x2="854.44" y2="749.23" stroke="#f08c2e" stroke-width="1.9" />
<line x1="845.72" y1="747.22" x2="845.72" y2="751.25" stroke="#f08c2e" stroke-width="1.9" />
<line x1="887.72" y1="732.06" x2="912.81" y2="732.06" stroke="#f08c2e" stroke-width="1.9" />
<line x1="900.27" y1="729.48" x2="900.27" y2="734.65" stroke="#f08c2e" stroke-width="1.9" />
<line x1="687.46" y1="779.79" x2="711.19" y2="779.79" stroke="#f08c2e" stroke-width="1.9" />
<line x1="699.32" y1="777.52" x2="699.32" y2="782.06" stroke="#f08c2e" stroke-width="1.9" />
<line x1="824.08" y1="746.18" x2="836.88" y2="746.18" stroke="#f08c2e" stroke-width="1.9" />
<line x1="830.48" y1="743.74" x2="830.48" y2="748.63" stroke="#f08c2e" stroke-width="1.9" />
<line x1="857.62" y1="742.63" x2="875.63" y2="742.63" stroke="#f08c2e" stroke-width="1.9" />
<line x1="866.62" y1="741.62" x2="866.62" y2="743.65" stroke="#f08c2e" stroke-width="1.9" />
<line x1="656.13" y1="786.97" x2="686.55" y2="786.97" stroke="#f08c2e" stroke-width="1.9" />
<line x1="671.34" y1="784.75" x2="671.34" y2="789.19" stroke="#f08c2e" stroke-width="1.9" />
<line x1="776.55" y1="755.24" x2="800.79" y2="755.24" stroke="#f08c2e" stroke-width="1.9" />
<line x1="788.67" y1="753.00" x2="788.67" y2="757.47" stroke="#f08c2e" stroke-width="1.9" />
<line x1="765.95" y1="766.50" x2="791.87" y2="766.50" stroke="#f08c2e" stroke-width="1.9" />
<line x1="778.91" y1="764.31" x2="778.91" y2="768.69" stroke="#f08c2e" stroke-width="1.9" />
<line x1="785.42" y1="754.35" x2="806.58" y2="754.35" stroke="#f08c2e" stroke-width="1.9" />
<line x1="796.00" y1="751.83" x2="796.00" y2="756.88" stroke="#f08c2e" stroke-width="1.9" />
<line x1="650.39" y1="785.86" x2="666.01" y2="785.86" stroke="#f08c2e" stroke-width="1.9" />
<line x1="658.20" y1="784.79" x2="658.20" y2="786.94" stroke="#f08c2e" stroke-width="1.9" />
<line x1="817.45" y1="745.15" x2="836.83" y2="745.15" stroke="#f08c2e" stroke-width="1.9" />
<line x1="827.14" y1="742.51" x2="827.14" y2="747.80" stroke="#f08c2e" stroke-width="1.9" />
<line x1="819.66" y1="751.26" x2="842.90" y2="751.26" stroke="#f08c2e" stroke-width="1.9" />
<line x1="831.28" y1="749.75" x2="831.28" y2="752.78" stroke="#f08c2e" stroke-width="1.9" />
<line x1="682.68" y1="783.01" x2="703.30" y2="783.01" stroke="#f08c2e" stroke-width="1.9" />
<line x1="692.99" y1="780.72" x2="692.99" y2="785.29" stroke="#f08c2e" stroke-width="1.9" />
<line x1="878.04" y1="736.27" x2="891.13" y2="736.27" stroke="#f08c2e" stroke-width="1.9" />
<line x1="884.58" y1="734.14" x2="884.58" y2="738.41" stroke="#f08c2e" stroke-width="1.9" />
<line x1="640.08" y1="788.35" x2="663.59" y2="788.35" stroke="#f08c2e" stroke-width="1.9" />
<line x1="651.84" y1="785.51" x2="651.84" y2="791.19" stroke="#f08c2e" stroke-width="1.9" />
<line x1="721.28" y1="766.96" x2="733.56" y2="766.96" stroke="#f08c2e" stroke-width="1.9" />
<line x1="727.42" y1="765.19" x2="727.42" y2="768.74" stroke="#f08c2e" stroke-width="1.9" />
<line x1="757.54" y1="752.57" x2="779.05" y2="752.57" stroke="#f08c2e" stroke-width="1.9" />
<line x1="768.30" y1="750.74" x2="768.30" y2="754.39" stroke="#f08c2e" stroke-width="1.9" />
<line x1="645.84" y1="794.49" x2="670.73" y2="794.49" stroke="#f08c2e" stroke-width="1.9" />
<line x1="658.28" y1="793.07" x2="658.28" y2="795.92" stroke="#f08c2e" stroke-width="1.9" />
<line x1="652.35" y1="788.24" x2="678.02" y2="788.24" stroke="#f08c2e" stroke-width="1.9" />
<line x1="665.19" y1="787.00" x2="665.19" y2="789.48" stroke="#f08c2e" stroke-width="1.9" />
<line x1="890.06" y1="735.03" x2="903.82" y2="735.03" stroke="#f08c2e" stroke-width="1.9" />
<line x1="896.94" y1="732.29" x2="896.94" y2="737.77" stroke="#f08c2e" stroke-width="1.9" />
<line x1="653.43" y1="784.18" x2="670.28" y2="784.18" stroke="#f08c2e" stroke-width="1.9" />
<line x1="661.85" y1="781.72" x2="661.85" y2="786.65" stroke="#f08c2e" stroke-width="1.9" />
<line x1="664.41" y1="786.18" x2="677.41" y2="786.18" stroke="#f08c2e" stroke-width="1.9" />
<line x1="670.91" y1="783.63" x2="670.91" y2="788.73" stroke="#f08c2e" stroke-width="1.9" />
<line x1="799.77" y1="749.99" x2="813.46" y2="749.99" stroke="#f08c2e" stroke-width="1.9" />
<line x1="806.62" y1="747.73" x2="806.62" y2="752.25" stroke="#f08c2e" stroke-width="1.9" />
<line x1="794.59" y1="758.09" x2="815.80" y2="758.09" stroke="#f08c2e" stroke-width="1.9" />
<line x1="805.20" y1="755.22" x2="805.20" y2="760.95" stroke="#f08c2e" stroke-width="1.9" />
<line x1="677.00" y1="777.81" x2="689.23" y2="777.81" stroke="#f08c2e" stroke-width="1.9" />
<line x1="683.12" y1="776.79" x2="683.12" y2="778.84" stroke="#f08c2e" stroke-width="1.9" />
<line x1="772.19" y1="758.78" x2="800.53" y2="758.78" stroke="#f08c2e" stroke-width="1.9" />
<line x1="786.36" y1="757.62" x2="786.36" y2="759.94" stroke="#f08c2e" stroke-width="1.9" />
<line x1="680.33" y1="780.07" x2="709.55" y2="780.07" stroke="#f08c2e" stroke-width="1.9" />
<line x1="694.94" y1="778.10" x2="694.94" y2="782.05" stroke="#f08c2e" stroke-width="1.9" />
<line x1="643.93" y1="794.41" x2="663.28" y2="794.41" stroke="#f08c2e" stroke-width="1.9" />
<line x1="653.61" y1="792.26" x2="653.61" y2="796.56" stroke="#f08c2e" stroke-width="1.9" />
<line x1="711.43" y1="772.59" x2="739.38" y2="772.59" stroke="#f08c2e" stroke-width="1.9" />
<line x1="725.40" y1="770.86" x2="725.40" y2="774.32" stroke="#f08c2e" stroke-width="1.9" />
<line x1="772.24" y1="759.68" x2="796.83" y2="759.68" stroke="#f08c2e" stroke-width="1.9" />
<line x1="784.54" y1="757.85" x2="784.54" y2="761.52" stroke="#f08c2e" stroke-width="1.9" />
<line x1="698.29" y1="773.31" x2="725.98" y2="773.31" stroke="#f08c2e" stroke-width="1.9" />
<line x1="712.13" y1="771.17" x2="712.13" y2="775.44" stroke="#f08c2e" stroke-width="1.9" />
<line x1="684.33" y1="789.00" x2="697.54" y2="789.00" stroke="#f08c2e" stroke-width="1.9" />
<line x1="690.94" y1="786.05" x2="690.94" y2="791.95" stroke="#f08c2e" stroke-width="1.9" />
<line x1="791.18" y1="752.64" x2="815.30" y2="752.64" stroke="#f08c2e" stroke-width="1.9" />
<line x1="803.24" y1="749.69" x2="803.24" y2="755.60" stroke="#f08c2e" stroke-width="1.9" />
<line x1="834.97" y1="748.37" x2="859.00" y2="748.37" stroke="#f08c2e" stroke-width="1.9" />
<line x1="846.99" y1="746.75" x2="846.99" y2="749.98" stroke="#f08c2e" stroke-width="1.9" />
<line x1="709.95" y1="769.85" x2="735.64" y2="769.85" stroke="#f08c2e" stroke-width="1.9" />
<line x1="722.79" y1="767.65" x2="722.79" y2="772.05" stroke="#f08c2e" stroke-width="1.9" />
<line x1="856.42" y1="742.91" x2="884.57" y2="742.91" stroke="#f08c2e" stroke-width="1.9" />
<line x1="870.50" y1="741.34" x2="870.50" y2="744.48" stroke="#f08c2e" stroke-width="1.9" />
<line x1="637.96" y1="793.95" x2="661.69" y2="793.95" stroke="#f08c2e" stroke-width="1.9" />
<line x1="649.82" y1="791.31" x2="649.82" y2="796.58" stroke="#f08c2e" stroke-width="1.9" />
<line x1="860.87" y1="737.84" x2="873.72" y2="737.84" stroke="#f08c2e" stroke-width="1.9" />
<line x1="867.30" y1="735.17" x2="867.30" y2="740.50" stroke="#f08c2e" stroke-width="1.9" />
<line x1="831.34" y1="743.97" x2="848.81" y2="743.97" stroke="#f08c2e" stroke-width="1.9" />
<line x1="840.08" y1="741.27" x2="840.08" y2="746.67" stroke="#f08c2e" stroke-width="1.9" />
<line x1="825.57" y1="750.63" x2="851.27" y2="750.63" stroke="#f08c2e" stroke-width="1.9" />
<line x1="838.42" y1="747.80" x2="838.42" y2="753.46" stroke="#f08c2e" stroke-width="1.9" />
<line x1="688.97" y1="773.86" x2="716.92" y2="773.86" stroke="#f08c2e" stroke-width="1.9" />
<line x1="702.95" y1="772.46" x2="702.95" y2="775.26" stroke="#f08c2e" stroke-width="1.9" />
<line x1="803.53" y1="748.82" x2="834.16" y2="748.82" stroke="#f08c2e" stroke-width="1.9" />
<line x1="818.85" y1="747.36" x2="818.85" y2="750.29" stroke="#f08c2e" stroke-width="1.9" />
<line x1="764.74" y1="762.21" x2="780.87" y2="762.21" stroke="#f08c2e" stroke-width="1.9" />
<line x1="772.81" y1="760.70" x2="772.81" y2="763.72" stroke="#f08c2e" stroke-width="1.9" />
<line x1="805.25" y1="754.45" x2="833.08" y2="754.45" stroke="#f08c2e" stroke-width="1.9" />
<line x1="819.17" y1="752.53" x2="819.17" y2="756.37" stroke="#f08c2e" stroke-width="1.9" />
<line x1="648.23" y1="789.31" x2="664.89" y2="789.31" stroke="#f08c2e" stroke-width="1.9" />
<line x1="656.56" y1="787.15" x2="656.56" y2="791.47" stroke="#f08c2e" stroke-width="1.9" />
<line x1="855.95" y1="746.23" x2="885.65" y2="746.23" stroke="#f08c2e" stroke-width="1.9" />
<line x1="870.80" y1="744.19" x2="870.80" y2="748.28" stroke="#f08c2e" stroke-width="1.9" />
<line x1="727.48" y1="771.12" x2="743.32" y2="771.12" stroke="#f08c2e" stroke-width="1.9" />
<line x1="735.40" y1="769.76" x2="735.40" y2="772.48" stroke="#f08c2e" stroke-width="1.9" />
<line x1="792.89" y1="755.42" x2="812.15" y2="755.42" stroke="#f08c2e" stroke-width="1.9" />
<line x1="802.52" y1="753.29" x2="802.52" y2="757.55" stroke="#f08c2e" stroke-width="1.9" />
<line x1="709.79" y1="776.05" x2="722.68" y2="776.05" stroke="#f08c2e" stroke-width="1.9" />
<line x1="716.24" y1="773.05" x2="716.24" y2="779.04" stroke="#f08c2e" stroke-width="1.9" />
<line x1="702.26" y1="776.13" x2="716.38" y2="776.13" stroke="#f08c2e" stroke-width="1.9" />
<line x1="709.32" y1="773.87" x2="709.32" y2="778.40" stroke="#f08c2e" stroke-width="1.9" />
<line x1="822.11" y1="746.04" x2="841.01" y2="746.04" stroke="#f08c2e" stroke-width="1.9" />
<line x1="831.56" y1="744.00" x2="831.56" y2="748.08" stroke="#f08c2e" stroke-width="1.9" />
<line x1="644.24" y1="789.53" x2="656.91" y2="789.53" stroke="#f08c2e" stroke-width="1.9" />
<line x1="650.57" y1="786.55" x2="650.57" y2="792.51" stroke="#f08c2e" stroke-width="1.9" />
<line x1="850.88" y1="747.53" x2="868.11" y2="747.53" stroke="#f08c2e" stroke-width="1.9" />
<line x1="859.49" y1="744.97" x2="859.49" y2="750.09" stroke="#f08c2e" stroke-width="1.9" />
<line x1="706.66" y1="772.19" x2="737.59" y2="772.19" stroke="#f08c2e" stroke-width="1.9" />
<line x1="722.13" y1="769.66" x2="722.13" y2="774.73" stroke="#f08c2e" stroke-width="1.9" />
<line x1="836.19" y1="743.93" x2="848.95" y2="743.93" stroke="#f08c2e" stroke-width="1.9" />
<line x1="842.57" y1="742.53" x2="842.57" y2="745.33" stroke="#f08c2e" stroke-width="1.9" />
<line x1="662.96" y1="787.73" x2="676.63" y2="787.73" stroke="#f08c2e" stroke-width="1.9" />
<line x1="669.79" y1="786.63" x2="669.79" y2="788.84" stroke="#f08c2e" stroke-width="1.9" />
<line x1="742.59" y1="761.22" x2="773.54" y2="761.22" stroke="#f08c2e" stroke-width="1.9" />
<line x1="758.06" y1="758.40" x2="758.06" y2="764.04" stroke="#f08c2e" stroke-width="1.9" />
<line x1="642.05" y1="794.98" x2="666.02" y2="794.98" stroke="#f08c2e" stroke-width="1.9" />
<line x1="654.03" y1="793.19" x2="654.03" y2="796.78" stroke="#f08c2e" stroke-width="1.9" />
<line x1="648.96" y1="787.47" x2="672.25" y2="787.47" stroke="#f08c2e" stroke-width="1.9" />
<line x1="660.61" y1="785.19" x2="660.61" y2="789.75" stroke="#f08c2e" stroke-width="1.9" />
<line x1="880.45" y1="736.54" x2="905.84" y2="736.54" stroke="#f08c2e" stroke-width="1.9" />
<line x1="893.14" y1="734.75" x2="893.14" y2="738.32" stroke="#f08c2e" stroke-width="1.9" />
<line x1="711.99" y1="766.30" x2="743.82" y2="766.30" stroke="#f08c2e" stroke-width="1.9" />
<line x1="727.91" y1="764.85" x2="727.91" y2="767.74" stroke="#f08c2e" stroke-width="1.9" />
<line x1="643.22" y1="785.43" x2="660.34" y2="785.43" stroke="#f08c2e" stroke-width="1.9" />
<line x1="651.78" y1="783.73" x2="651.78" y2="787.14" stroke="#f08c2e" stroke-width="1.9" />
<line x1="866.48" y1="734.80" x2="879.42" y2="734.80" stroke="#f08c2e" stroke-width="1.9" />
<line x1="872.95" y1="732.23" x2="872.95" y2="737.37" stroke="#f08c2e" stroke-width="1.9" />
<line x1="792.85" y1="757.38" x2="817.78" y2="757.38" stroke="#f08c2e" stroke-width="1.9" />
<line x1="805.32" y1="754.41" x2="805.32" y2="760.35" stroke="#f08c2e" stroke-width="1.9" />
<line x1="637.84" y1="788.94" x2="668.62" y2="788.94" stroke="#f08c2e" stroke-width="1.9" />
<line x1="653.23" y1="786.58" x2="653.23" y2="791.29" stroke="#f08c2e" stroke-width="1.9" />
<line x1="680.38" y1="775.98" x2="704.21" y2="775.98" stroke="#f08c2e" stroke-width="1.9" />
<line x1="692.29" y1="773.47" x2="692.29" y2="778.50" stroke="#f08c2e" stroke-width="1.9" />
<line x1="651.47" y1="791.85" x2="665.95" y2="791.85" stroke="#f08c2e" stroke-width="1.9" />
<line x1="658.71" y1="789.89" x2="658.71" y2="793.81" stroke="#f08c2e" stroke-width="1.9" />
<line x1="659.43" y1="785.38" x2="676.20" y2="785.38" stroke="#f08c2e" stroke-width="1.9" />
<line x1="667.81" y1="784.09" x2="667.81" y2="786.66" stroke="#f08c2e" stroke-width="1.9" />
<line x1="786.98" y1="750.31" x2="802.88" y2="750.31" stroke="#f08c2e" stroke-width="1.9" />
<line x1="794.93" y1="749.24" x2="794.93" y2="751.38" stroke="#f08c2e" stroke-width="1.9" />
<line x1="874.05" y1="737.76" x2="890.46" y2="737.76" stroke="#f08c2e" stroke-width="1.9" />
<line x1="882.26" y1="734.90" x2="882.26" y2="740.63" stroke="#f08c2e" stroke-width="1.9" />
<line x1="849.27" y1="741.59" x2="870.21" y2="741.59" stroke="#f08c2e" stroke-width="1.9" />
<line x1="859.74" y1="740.40" x2="859.74" y2="742.79" stroke="#f08c2e" stroke-width="1.9" />
<line x1="868.25" y1="739.32" x2="897.09" y2="739.32" stroke="#f08c2e" stroke-width="1.9" />
<line x1="882.67" y1="737.07" x2="882.67" y2="741.58" stroke="#f08c2e" stroke-width="1.9" />
<line x1="718.17" y1="774.27" x2="739.73" y2="774.27" stroke="#f08c2e" stroke-width="1.9" />
<line x1="728.95" y1="772.01" x2="728.95" y2="776.52" stroke="#f08c2e" stroke-width="1.9" />
<line x1="655.62" y1="783.59" x2="672.05" y2="783.59" stroke="#f08c2e" stroke-width="1.9" />
<line x1="663.84" y1="782.47" x2="663.84" y2="784.70" stroke="#f08c2e" stroke-width="1.9" />
<line x1="791.97" y1="755.23" x2="821.38" y2="755.23" stroke="#f08c2e" stroke-width="1.9" />
<line x1="806.67" y1="753.69" x2="806.67" y2="756.76" stroke="#f08c2e" stroke-width="1.9" />
<line x1="710.99" y1="774.13" x2="726.11" y2="774.13" stroke="#f08c2e" stroke-width="1.9" />
<line x1="718.55" y1="772.59" x2="718.55" y2="775.68" stroke="#f08c2e" stroke-width="1.9" />
<line x1="839.03" y1="746.10" x2="860.85" y2="746.10" stroke="#f08c2e" stroke-width="1.9" />
<line x1="849.94" y1="744.46" x2="849.94" y2="747.74" stroke="#f08c2e" stroke-width="1.9" />
<line x1="865.96" y1="738.38" x2="880.25" y2="738.38" stroke="#f08c2e" stroke-width="1.9" />
<line x1="873.11" y1="735.43" x2="873.11" y2="741.34" stroke="#f08c2e" stroke-width="1.9" />
<line x1="645.22" y1="788.41" x2="661.44" y2="788.41" stroke="#f08c2e" stroke-width="1.9" />
<line x1="653.33" y1="786.45" x2="653.33" y2="790.36" stroke="#f08c2e" stroke-width="1.9" />
<line x1="681.07" y1="784.42" x2="698.22" y2="784.42" stroke="#f08c2e" stroke-width="1.9" />
<line x1="689.64" y1="783.02" x2="689.64" y2="785.82" stroke="#f08c2e" stroke-width="1.9" />
<line x1="691.75" y1="764.37" x2="722.25" y2="764.37" stroke="#f08c2e" stroke-width="1.9" />
<line x1="707.00" y1="763.18" x2="707.00" y2="765.57" stroke="#f08c2e" stroke-width="1.9" />
<line x1="675.35" y1="781.78" x2="705.28" y2="781.78" stroke="#f08c2e" stroke-width="1.9" />
<line x1="690.31" y1="780.67" x2="690.31" y2="782.90" stroke="#f08c2e" stroke-width="1.9" />
<line x1="804.73" y1="755.16" x2="817.05" y2="755.16" stroke="#f08c2e" stroke-width="1.9" />
<line x1="810.89" y1="752.55" x2="810.89" y2="757.78" stroke="#f08c2e" stroke-width="1.9" />
<line x1="694.19" y1="768.79" x2="708.99" y2="768.79" stroke="#f08c2e" stroke-width="1.9" />
<line x1="701.59" y1="767.79" x2="701.59" y2="769.80" stroke="#f08c2e" stroke-width="1.9" />
<line x1="836.97" y1="747.74" x2="857.68" y2="747.74" stroke="#f08c2e" stroke-width="1.9" />
<line x1="847.33" y1="744.92" x2="847.33" y2="750.56" stroke="#f08c2e" stroke-width="1.9" />
<line x1="664.62" y1="785.51" x2="688.05" y2="785.51" stroke="#f08c2e" stroke-width="1.9" />
<line x1="676.33" y1="784.24" x2="676.33" y2="786.79" stroke="#f08c2e" stroke-width="1.9" />
<line x1="661.73" y1="786.47" x2="677.66" y2="786.47" stroke="#f08c2e" stroke-width="1.9" />
<line x1="669.69" y1="785.31" x2="669.69" y2="787.63" stroke="#f08c2e" stroke-width="1.9" />
<line x1="644.44" y1="796.76" x2="668.61" y2="796.76" stroke="#f08c2e" stroke-width="1.9" />
<line x1="656.53" y1="794.77" x2="656.53" y2="798.76" stroke="#f08c2e" stroke-width="1.9" />
<line x1="674.02" y1="780.71" x2="700.17" y2="780.71" stroke="#f08c2e" stroke-width="1.9" />
<line x1="687.09" y1="778.09" x2="687.09" y2="783.34" stroke="#f08c2e" stroke-width="1.9" />
<line x1="757.57" y1="757.56" x2="773.62" y2="757.56" stroke="#f08c2e" stroke-width="1.9" />
<line x1="765.59" y1="756.43" x2="765.59" y2="758.70" stroke="#f08c2e" stroke-width="1.9" />
<line x1="806.42" y1="756.80" x2="819.53" y2="756.80" stroke="#f08c2e" stroke-width="1.9" />
<line x1="812.98" y1="754.17" x2="812.98" y2="759.42" stroke="#f08c2e" stroke-width="1.9" />
<line x1="685.88" y1="775.33" x2="714.72" y2="775.33" stroke="#f08c2e" stroke-width="1.9" />
<line x1="700.30" y1="772.60" x2="700.30" y2="778.06" stroke="#f08c2e" stroke-width="1.9" />
<line x1="729.10" y1="760.62" x2="750.63" y2="760.62" stroke="#f08c2e" stroke-width="1.9" />
<line x1="739.86" y1="757.87" x2="739.86" y2="763.36" stroke="#f08c2e" stroke-width="1.9" />
<line x1="677.69" y1="781.72" x2="693.41" y2="781.72" stroke="#f08c2e" stroke-width="1.9" />
<line x1="685.55" y1="779.05" x2="685.55" y2="784.38" stroke="#f08c2e" stroke-width="1.9" />
<line x1="695.72" y1="774.64" x2="719.62" y2="774.64" stroke="#f08c2e" stroke-width="1.9" />
<line x1="707.67" y1="773.63" x2="707.67" y2="775.65" stroke="#f08c2e" stroke-width="1.9" />
<line x1="736.85" y1="763.52" x2="757.77" y2="763.52" stroke="#f08c2e" stroke-width="1.9" />
<line x1="747.31" y1="761.48" x2="747.31" y2="765.55" stroke="#f08c2e" stroke-width="1.9" />
<line x1="646.07" y1="791.40" x2="675.38" y2="791.40" stroke="#f08c2e" stroke-width="1.9" />
<line x1="660.72" y1="789.76" x2="660.72" y2="793.04" stroke="#f08c2e" stroke-width="1.9" />
<line x1="796.02" y1="759.76" x2="815.65" y2="759.76" stroke="#f08c2e" stroke-width="1.9" />
<line x1="805.84" y1="757.25" x2="805.84" y2="762.26" stroke="#f08c2e" stroke-width="1.9" />
<circle cx="722.78" cy="775.69" r="4.8" fill="#d65b27" stroke="none" stroke-width="1" />
<circle cx="855.28" cy="747.80" r="4.8" fill="#d65b27" stroke="none" stroke-width="1" />
<circle cx="874.09" cy="739.57" r="4.8" fill="#d65b27" stroke="none" stroke-width="1" />
<circle cx="650.28" cy="795.34" r="4.8" fill="#d65b27" stroke="none" stroke-width="1" />
<circle cx="788.02" cy="757.21" r="4.8" fill="#d65b27" stroke="none" stroke-width="1" />
<circle cx="827.75" cy="747.76" r="4.8" fill="#d65b27" stroke="none" stroke-width="1" />
<circle cx="873.45" cy="739.57" r="4.8" fill="#d65b27" stroke="none" stroke-width="1" />
<circle cx="829.46" cy="751.04" r="4.8" fill="#d65b27" stroke="none" stroke-width="1" />
<circle cx="831.81" cy="747.37" r="4.8" fill="#d65b27" stroke="none" stroke-width="1" />
<circle cx="816.06" cy="753.52" r="4.8" fill="#d65b27" stroke="none" stroke-width="1" />
<circle cx="757.39" cy="764.22" r="4.8" fill="#d65b27" stroke="none" stroke-width="1" />
<circle cx="653.48" cy="789.89" r="4.8" fill="#d65b27" stroke="none" stroke-width="1" />
<circle cx="739.41" cy="772.54" r="4.8" fill="#d65b27" stroke="none" stroke-width="1" />
<circle cx="850.37" cy="744.91" r="4.8" fill="#d65b27" stroke="none" stroke-width="1" />
<circle cx="790.98" cy="754.78" r="4.8" fill="#d65b27" stroke="none" stroke-width="1" />
<circle cx="655.19" cy="794.64" r="4.8" fill="#d65b27" stroke="none" stroke-width="1" />
<circle cx="651.06" cy="797.25" r="4.8" fill="#d65b27" stroke="none" stroke-width="1" />
<circle cx="902.86" cy="737.17" r="4.8" fill="#d65b27" stroke="none" stroke-width="1" />
<circle cx="871.03" cy="735.27" r="4.8" fill="#d65b27" stroke="none" stroke-width="1" />
<circle cx="857.90" cy="742.26" r="4.8" fill="#d65b27" stroke="none" stroke-width="1" />
<circle cx="748.92" cy="765.67" r="4.8" fill="#d65b27" stroke="none" stroke-width="1" />
<circle cx="757.09" cy="766.41" r="4.8" fill="#d65b27" stroke="none" stroke-width="1" />
<circle cx="845.72" cy="749.23" r="4.8" fill="#d65b27" stroke="none" stroke-width="1" />
<circle cx="900.27" cy="732.06" r="4.8" fill="#d65b27" stroke="none" stroke-width="1" />
<circle cx="699.32" cy="779.79" r="4.8" fill="#d65b27" stroke="none" stroke-width="1" />
<circle cx="830.48" cy="746.18" r="4.8" fill="#d65b27" stroke="none" stroke-width="1" />
<circle cx="866.62" cy="742.63" r="4.8" fill="#d65b27" stroke="none" stroke-width="1" />
<circle cx="671.34" cy="786.97" r="4.8" fill="#d65b27" stroke="none" stroke-width="1" />
<circle cx="788.67" cy="755.24" r="4.8" fill="#d65b27" stroke="none" stroke-width="1" />
<circle cx="778.91" cy="766.50" r="4.8" fill="#d65b27" stroke="none" stroke-width="1" />
<circle cx="796.00" cy="754.35" r="4.8" fill="#d65b27" stroke="none" stroke-width="1" />
<circle cx="658.20" cy="785.86" r="4.8" fill="#d65b27" stroke="none" stroke-width="1" />
<circle cx="827.14" cy="745.15" r="4.8" fill="#d65b27" stroke="none" stroke-width="1" />
<circle cx="831.28" cy="751.26" r="4.8" fill="#d65b27" stroke="none" stroke-width="1" />
<circle cx="692.99" cy="783.01" r="4.8" fill="#d65b27" stroke="none" stroke-width="1" />
<circle cx="884.58" cy="736.27" r="4.8" fill="#d65b27" stroke="none" stroke-width="1" />
<circle cx="651.84" cy="788.35" r="4.8" fill="#d65b27" stroke="none" stroke-width="1" />
<circle cx="727.42" cy="766.96" r="4.8" fill="#d65b27" stroke="none" stroke-width="1" />
<circle cx="768.30" cy="752.57" r="4.8" fill="#d65b27" stroke="none" stroke-width="1" />
<circle cx="658.28" cy="794.49" r="4.8" fill="#d65b27" stroke="none" stroke-width="1" />
<circle cx="665.19" cy="788.24" r="4.8" fill="#d65b27" stroke="none" stroke-width="1" />
<circle cx="896.94" cy="735.03" r="4.8" fill="#d65b27" stroke="none" stroke-width="1" />
<circle cx="661.85" cy="784.18" r="4.8" fill="#d65b27" stroke="none" stroke-width="1" />
<circle cx="670.91" cy="786.18" r="4.8" fill="#d65b27" stroke="none" stroke-width="1" />
<circle cx="806.62" cy="749.99" r="4.8" fill="#d65b27" stroke="none" stroke-width="1" />
<circle cx="805.20" cy="758.09" r="4.8" fill="#d65b27" stroke="none" stroke-width="1" />
<circle cx="683.12" cy="777.81" r="4.8" fill="#d65b27" stroke="none" stroke-width="1" />
<circle cx="786.36" cy="758.78" r="4.8" fill="#d65b27" stroke="none" stroke-width="1" />
<circle cx="694.94" cy="780.07" r="4.8" fill="#d65b27" stroke="none" stroke-width="1" />
<circle cx="653.61" cy="794.41" r="4.8" fill="#d65b27" stroke="none" stroke-width="1" />
<circle cx="725.40" cy="772.59" r="4.8" fill="#d65b27" stroke="none" stroke-width="1" />
<circle cx="784.54" cy="759.68" r="4.8" fill="#d65b27" stroke="none" stroke-width="1" />
<circle cx="712.13" cy="773.31" r="4.8" fill="#d65b27" stroke="none" stroke-width="1" />
<circle cx="690.94" cy="789.00" r="4.8" fill="#d65b27" stroke="none" stroke-width="1" />
<circle cx="803.24" cy="752.64" r="4.8" fill="#d65b27" stroke="none" stroke-width="1" />
<circle cx="846.99" cy="748.37" r="4.8" fill="#d65b27" stroke="none" stroke-width="1" />
<circle cx="722.79" cy="769.85" r="4.8" fill="#d65b27" stroke="none" stroke-width="1" />
<circle cx="870.50" cy="742.91" r="4.8" fill="#d65b27" stroke="none" stroke-width="1" />
<circle cx="649.82" cy="793.95" r="4.8" fill="#d65b27" stroke="none" stroke-width="1" />
<circle cx="867.30" cy="737.84" r="4.8" fill="#d65b27" stroke="none" stroke-width="1" />
<circle cx="840.08" cy="743.97" r="4.8" fill="#d65b27" stroke="none" stroke-width="1" />
<circle cx="838.42" cy="750.63" r="4.8" fill="#d65b27" stroke="none" stroke-width="1" />
<circle cx="702.95" cy="773.86" r="4.8" fill="#d65b27" stroke="none" stroke-width="1" />
<circle cx="818.85" cy="748.82" r="4.8" fill="#d65b27" stroke="none" stroke-width="1" />
<circle cx="772.81" cy="762.21" r="4.8" fill="#d65b27" stroke="none" stroke-width="1" />
<circle cx="819.17" cy="754.45" r="4.8" fill="#d65b27" stroke="none" stroke-width="1" />
<circle cx="656.56" cy="789.31" r="4.8" fill="#d65b27" stroke="none" stroke-width="1" />
<circle cx="870.80" cy="746.23" r="4.8" fill="#d65b27" stroke="none" stroke-width="1" />
<circle cx="735.40" cy="771.12" r="4.8" fill="#d65b27" stroke="none" stroke-width="1" />
<circle cx="802.52" cy="755.42" r="4.8" fill="#d65b27" stroke="none" stroke-width="1" />
<circle cx="716.24" cy="776.05" r="4.8" fill="#d65b27" stroke="none" stroke-width="1" />
<circle cx="709.32" cy="776.13" r="4.8" fill="#d65b27" stroke="none" stroke-width="1" />
<circle cx="831.56" cy="746.04" r="4.8" fill="#d65b27" stroke="none" stroke-width="1" />
<circle cx="650.57" cy="789.53" r="4.8" fill="#d65b27" stroke="none" stroke-width="1" />
<circle cx="859.49" cy="747.53" r="4.8" fill="#d65b27" stroke="none" stroke-width="1" />
<circle cx="722.13" cy="772.19" r="4.8" fill="#d65b27" stroke="none" stroke-width="1" />
<circle cx="842.57" cy="743.93" r="4.8" fill="#d65b27" stroke="none" stroke-width="1" />
<circle cx="669.79" cy="787.73" r="4.8" fill="#d65b27" stroke="none" stroke-width="1" />
<circle cx="758.06" cy="761.22" r="4.8" fill="#d65b27" stroke="none" stroke-width="1" />
<circle cx="654.03" cy="794.98" r="4.8" fill="#d65b27" stroke="none" stroke-width="1" />
<circle cx="660.61" cy="787.47" r="4.8" fill="#d65b27" stroke="none" stroke-width="1" />
<circle cx="893.14" cy="736.54" r="4.8" fill="#d65b27" stroke="none" stroke-width="1" />
<circle cx="727.91" cy="766.30" r="4.8" fill="#d65b27" stroke="none" stroke-width="1" />
<circle cx="651.78" cy="785.43" r="4.8" fill="#d65b27" stroke="none" stroke-width="1" />
<circle cx="872.95" cy="734.80" r="4.8" fill="#d65b27" stroke="none" stroke-width="1" />
<circle cx="805.32" cy="757.38" r="4.8" fill="#d65b27" stroke="none" stroke-width="1" />
<circle cx="653.23" cy="788.94" r="4.8" fill="#d65b27" stroke="none" stroke-width="1" />
<circle cx="692.29" cy="775.98" r="4.8" fill="#d65b27" stroke="none" stroke-width="1" />
<circle cx="658.71" cy="791.85" r="4.8" fill="#d65b27" stroke="none" stroke-width="1" />
<circle cx="667.81" cy="785.38" r="4.8" fill="#d65b27" stroke="none" stroke-width="1" />
<circle cx="794.93" cy="750.31" r="4.8" fill="#d65b27" stroke="none" stroke-width="1" />
<circle cx="882.26" cy="737.76" r="4.8" fill="#d65b27" stroke="none" stroke-width="1" />
<circle cx="859.74" cy="741.59" r="4.8" fill="#d65b27" stroke="none" stroke-width="1" />
<circle cx="882.67" cy="739.32" r="4.8" fill="#d65b27" stroke="none" stroke-width="1" />
<circle cx="728.95" cy="774.27" r="4.8" fill="#d65b27" stroke="none" stroke-width="1" />
<circle cx="663.84" cy="783.59" r="4.8" fill="#d65b27" stroke="none" stroke-width="1" />
<circle cx="806.67" cy="755.23" r="4.8" fill="#d65b27" stroke="none" stroke-width="1" />
<circle cx="718.55" cy="774.13" r="4.8" fill="#d65b27" stroke="none" stroke-width="1" />
<circle cx="849.94" cy="746.10" r="4.8" fill="#d65b27" stroke="none" stroke-width="1" />
<circle cx="873.11" cy="738.38" r="4.8" fill="#d65b27" stroke="none" stroke-width="1" />
<circle cx="653.33" cy="788.41" r="4.8" fill="#d65b27" stroke="none" stroke-width="1" />
<circle cx="689.64" cy="784.42" r="4.8" fill="#d65b27" stroke="none" stroke-width="1" />
<circle cx="707.00" cy="764.37" r="4.8" fill="#d65b27" stroke="none" stroke-width="1" />
<circle cx="690.31" cy="781.78" r="4.8" fill="#d65b27" stroke="none" stroke-width="1" />
<circle cx="810.89" cy="755.16" r="4.8" fill="#d65b27" stroke="none" stroke-width="1" />
<circle cx="701.59" cy="768.79" r="4.8" fill="#d65b27" stroke="none" stroke-width="1" />
<circle cx="847.33" cy="747.74" r="4.8" fill="#d65b27" stroke="none" stroke-width="1" />
<circle cx="676.33" cy="785.51" r="4.8" fill="#d65b27" stroke="none" stroke-width="1" />
<circle cx="669.69" cy="786.47" r="4.8" fill="#d65b27" stroke="none" stroke-width="1" />
<circle cx="656.53" cy="796.76" r="4.8" fill="#d65b27" stroke="none" stroke-width="1" />
<circle cx="687.09" cy="780.71" r="4.8" fill="#d65b27" stroke="none" stroke-width="1" />
<circle cx="765.59" cy="757.56" r="4.8" fill="#d65b27" stroke="none" stroke-width="1" />
<circle cx="812.98" cy="756.80" r="4.8" fill="#d65b27" stroke="none" stroke-width="1" />
<circle cx="700.30" cy="775.33" r="4.8" fill="#d65b27" stroke="none" stroke-width="1" />
<circle cx="739.86" cy="760.62" r="4.8" fill="#d65b27" stroke="none" stroke-width="1" />
<circle cx="685.55" cy="781.72" r="4.8" fill="#d65b27" stroke="none" stroke-width="1" />
<circle cx="707.67" cy="774.64" r="4.8" fill="#d65b27" stroke="none" stroke-width="1" />
<circle cx="747.31" cy="763.52" r="4.8" fill="#d65b27" stroke="none" stroke-width="1" />
<circle cx="660.72" cy="791.40" r="4.8" fill="#d65b27" stroke="none" stroke-width="1" />
<circle cx="805.84" cy="759.76" r="4.8" fill="#d65b27" stroke="none" stroke-width="1" />
<path d="M589.10,842.93 L591.27,842.60 L593.44,842.26 L595.60,841.91 L597.77,841.55 L599.94,841.17 L602.11,840.78 L604.28,840.38 L606.44,839.97 L608.61,839.55 L610.78,839.11 L612.95,838.67 L615.12,838.22 L617.28,837.76 L619.45,837.29 L621.62,836.82 L623.79,836.34 L625.96,835.85 L628.12,835.35 L630.29,834.85 L632.46,834.34 L634.63,833.80 L636.80,833.22 L638.96,832.60 L641.13,831.96 L643.30,831.30 L645.47,830.63 L647.64,829.97 L649.80,829.31 L651.97,828.68 L654.14,828.07 L656.31,827.50 L658.48,826.98 L660.64,826.51 L662.81,826.05 L664.98,825.59 L667.15,825.15 L669.32,824.71 L671.48,824.28 L673.65,823.86 L675.82,823.45 L677.99,823.05 L680.16,822.65 L682.32,822.26 L684.49,821.87 L686.66,821.49 L688.83,821.12 L691.00,820.76 L693.16,820.40 L695.33,820.04 L697.50,819.69 L699.67,819.35 L701.84,819.01 L704.00,818.67 L706.17,818.34 L708.34,818.02 L710.51,817.70 L712.68,817.38 L714.84,817.06 L717.01,816.75 L719.18,816.44 L721.35,816.14 L723.52,815.84 L725.68,815.54 L727.85,815.24 L730.02,814.94 L732.19,814.65 L734.36,814.36 L736.52,814.07 L738.69,813.78 L740.86,813.50 L743.03,813.22 L745.20,812.95 L747.36,812.68 L749.53,812.42 L751.70,812.16 L753.87,811.90 L756.04,811.65 L758.20,811.40 L760.37,811.15 L762.54,810.91 L764.71,810.66 L766.88,810.42 L769.04,810.19 L771.21,809.95 L773.38,809.72 L775.55,809.48 L777.72,809.25 L779.88,809.02 L782.05,808.79 L784.22,808.56 L786.39,808.33 L788.56,808.10 L790.72,807.87 L792.89,807.64 L795.06,807.41 L797.23,807.18 L799.40,806.94 L801.56,806.71 L803.73,806.47 L805.90,806.23 L808.07,805.99 L810.24,805.75 L812.40,805.50 L814.57,805.26 L816.74,805.01 L818.91,804.76 L821.08,804.50 L823.24,804.25 L825.41,803.99 L827.58,803.74 L829.75,803.48 L831.92,803.22 L834.08,802.96 L836.25,802.70 L838.42,802.44 L840.59,802.17 L842.76,801.91 L844.92,801.65 L847.09,801.39 L849.26,801.12 L851.43,800.86 L853.60,800.60 L855.76,800.34 L857.93,800.08 L860.10,799.82 L862.27,799.56 L864.44,799.30 L866.60,799.04 L868.77,798.79 L870.94,798.53 L873.11,798.28 L875.28,798.03 L877.44,797.78 L879.61,797.53 L881.78,797.29 L883.95,797.04 L886.12,796.80 L888.28,796.57 L890.45,796.33 L892.62,796.10 L894.79,795.87 L896.96,795.64 L899.12,795.42 L901.29,795.19 L903.46,794.98 L905.63,794.76 L907.80,794.55 L909.96,794.35 L912.13,794.14 L914.30,793.93 L916.47,793.73 L918.64,793.53 L920.80,793.32 L922.97,793.12 L925.14,792.92 L927.31,792.72 L929.48,792.52 L931.64,792.32 L933.81,792.13 L935.98,791.93 L938.15,791.73 L940.32,791.54 L942.48,791.35 L944.65,791.15 L946.82,790.96 L948.99,790.77 L951.16,790.58 L953.32,790.40 L955.49,790.21 L957.66,790.02 L959.83,789.84 L962.00,789.65 L964.16,789.47 L966.33,789.29 L968.50,789.11 L970.67,788.93 L972.84,788.76 L975.00,788.58 L977.17,788.40 L979.34,788.23 L981.51,788.06 L983.68,787.89 L985.84,787.72 L988.01,787.55 L990.18,787.38 L992.35,787.22 L994.52,787.06 L996.68,786.89 L998.85,786.73 L1001.02,786.57 L1003.19,786.41 L1005.36,786.26 L1007.52,786.10 L1009.69,785.95 L1011.86,785.79 L1014.03,785.64 L1016.20,785.49 L1018.36,785.35 L1020.53,785.20 L1022.70,785.05 L1024.87,784.91 L1024.87,786.50 L1022.70,786.64 L1020.53,786.79 L1018.36,786.94 L1016.20,787.09 L1014.03,787.25 L1011.86,787.41 L1009.69,787.57 L1007.52,787.73 L1005.36,787.89 L1003.19,788.06 L1001.02,788.23 L998.85,788.40 L996.68,788.57 L994.52,788.75 L992.35,788.92 L990.18,789.10 L988.01,789.28 L985.84,789.46 L983.68,789.65 L981.51,789.84 L979.34,790.02 L977.17,790.21 L975.00,790.41 L972.84,790.60 L970.67,790.79 L968.50,790.99 L966.33,791.19 L964.16,791.39 L962.00,791.59 L959.83,791.79 L957.66,792.00 L955.49,792.21 L953.32,792.41 L951.16,792.62 L948.99,792.84 L946.82,793.05 L944.65,793.26 L942.48,793.48 L940.32,793.70 L938.15,793.91 L935.98,794.13 L933.81,794.35 L931.64,794.58 L929.48,794.80 L927.31,795.03 L925.14,795.25 L922.97,795.48 L920.80,795.71 L918.64,795.94 L916.47,796.17 L914.30,796.40 L912.13,796.64 L909.96,796.87 L907.80,797.11 L905.63,797.35 L903.46,797.59 L901.29,797.84 L899.12,798.09 L896.96,798.34 L894.79,798.60 L892.62,798.86 L890.45,799.13 L888.28,799.40 L886.12,799.67 L883.95,799.94 L881.78,800.22 L879.61,800.49 L877.44,800.77 L875.28,801.06 L873.11,801.34 L870.94,801.63 L868.77,801.92 L866.60,802.21 L864.44,802.50 L862.27,802.80 L860.10,803.09 L857.93,803.39 L855.76,803.68 L853.60,803.98 L851.43,804.28 L849.26,804.58 L847.09,804.88 L844.92,805.18 L842.76,805.48 L840.59,805.78 L838.42,806.08 L836.25,806.38 L834.08,806.68 L831.92,806.98 L829.75,807.28 L827.58,807.58 L825.41,807.87 L823.24,808.17 L821.08,808.47 L818.91,808.76 L816.74,809.05 L814.57,809.34 L812.40,809.63 L810.24,809.92 L808.07,810.20 L805.90,810.49 L803.73,810.77 L801.56,811.05 L799.40,811.33 L797.23,811.60 L795.06,811.88 L792.89,812.15 L790.72,812.43 L788.56,812.70 L786.39,812.98 L784.22,813.25 L782.05,813.53 L779.88,813.80 L777.72,814.08 L775.55,814.36 L773.38,814.64 L771.21,814.92 L769.04,815.20 L766.88,815.49 L764.71,815.77 L762.54,816.06 L760.37,816.36 L758.20,816.65 L756.04,816.95 L753.87,817.25 L751.70,817.55 L749.53,817.86 L747.36,818.18 L745.20,818.49 L743.03,818.82 L740.86,819.14 L738.69,819.47 L736.52,819.81 L734.36,820.15 L732.19,820.50 L730.02,820.84 L727.85,821.19 L725.68,821.54 L723.52,821.89 L721.35,822.24 L719.18,822.60 L717.01,822.96 L714.84,823.32 L712.68,823.69 L710.51,824.06 L708.34,824.44 L706.17,824.82 L704.00,825.20 L701.84,825.59 L699.67,825.98 L697.50,826.38 L695.33,826.78 L693.16,827.19 L691.00,827.61 L688.83,828.03 L686.66,828.46 L684.49,828.89 L682.32,829.33 L680.16,829.78 L677.99,830.23 L675.82,830.69 L673.65,831.16 L671.48,831.64 L669.32,832.13 L667.15,832.62 L664.98,833.12 L662.81,833.63 L660.64,834.15 L658.48,834.68 L656.31,835.26 L654.14,835.89 L651.97,836.55 L649.80,837.25 L647.64,837.96 L645.47,838.69 L643.30,839.41 L641.13,840.13 L638.96,840.83 L636.80,841.51 L634.63,842.15 L632.46,842.75 L630.29,843.32 L628.12,843.88 L625.96,844.44 L623.79,845.00 L621.62,845.54 L619.45,846.08 L617.28,846.61 L615.12,847.13 L612.95,847.64 L610.78,848.15 L608.61,848.64 L606.44,849.13 L604.28,849.60 L602.11,850.06 L599.94,850.52 L597.77,850.96 L595.60,851.39 L593.44,851.80 L591.27,852.21 L589.10,852.60 Z" fill="#2ea87a" fill-opacity="0.2" stroke="none"/>
<polyline points="589.10,842.93 591.27,842.60 593.44,842.26 595.60,841.91 597.77,841.55 599.94,841.17 602.11,840.78 604.28,840.38 606.44,839.97 608.61,839.55 610.78,839.11 612.95,838.67 615.12,838.22 617.28,837.76 619.45,837.29 621.62,836.82 623.79,836.34 625.96,835.85 628.12,835.35 630.29,834.85 632.46,834.34 634.63,833.80 636.80,833.22 638.96,832.60 641.13,831.96 643.30,831.30 645.47,830.63 647.64,829.97 649.80,829.31 651.97,828.68 654.14,828.07 656.31,827.50 658.48,826.98 660.64,826.51 662.81,826.05 664.98,825.59 667.15,825.15 669.32,824.71 671.48,824.28 673.65,823.86 675.82,823.45 677.99,823.05 680.16,822.65 682.32,822.26 684.49,821.87 686.66,821.49 688.83,821.12 691.00,820.76 693.16,820.40 695.33,820.04 697.50,819.69 699.67,819.35 701.84,819.01 704.00,818.67 706.17,818.34 708.34,818.02 710.51,817.70 712.68,817.38 714.84,817.06 717.01,816.75 719.18,816.44 721.35,816.14 723.52,815.84 725.68,815.54 727.85,815.24 730.02,814.94 732.19,814.65 734.36,814.36 736.52,814.07 738.69,813.78 740.86,813.50 743.03,813.22 745.20,812.95 747.36,812.68 749.53,812.42 751.70,812.16 753.87,811.90 756.04,811.65 758.20,811.40 760.37,811.15 762.54,810.91 764.71,810.66 766.88,810.42 769.04,810.19 771.21,809.95 773.38,809.72 775.55,809.48 777.72,809.25 779.88,809.02 782.05,808.79 784.22,808.56 786.39,808.33 788.56,808.10 790.72,807.87 792.89,807.64 795.06,807.41 797.23,807.18 799.40,806.94 801.56,806.71 803.73,806.47 805.90,806.23 808.07,805.99 810.24,805.75 812.40,805.50 814.57,805.26 816.74,805.01 818.91,804.76 821.08,804.50 823.24,804.25 825.41,803.99 827.58,803.74 829.75,803.48 831.92,803.22 834.08,802.96 836.25,802.70 838.42,802.44 840.59,802.17 842.76,801.91 844.92,801.65 847.09,801.39 849.26,801.12 851.43,800.86 853.60,800.60 855.76,800.34 857.93,800.08 860.10,799.82 862.27,799.56 864.44,799.30 866.60,799.04 868.77,798.79 870.94,798.53 873.11,798.28 875.28,798.03 877.44,797.78 879.61,797.53 881.78,797.29 883.95,797.04 886.12,796.80 888.28,796.57 890.45,796.33 892.62,796.10 894.79,795.87 896.96,795.64 899.12,795.42 901.29,795.19 903.46,794.98 905.63,794.76 907.80,794.55 909.96,794.35 912.13,794.14 914.30,793.93 916.47,793.73 918.64,793.53 920.80,793.32 922.97,793.12 925.14,792.92 927.31,792.72 929.48,792.52 931.64,792.32 933.81,792.13 935.98,791.93 938.15,791.73 940.32,791.54 942.48,791.35 944.65,791.15 946.82,790.96 948.99,790.77 951.16,790.58 953.32,790.40 955.49,790.21 957.66,790.02 959.83,789.84 962.00,789.65 964.16,789.47 966.33,789.29 968.50,789.11 970.67,788.93 972.84,788.76 975.00,788.58 977.17,788.40 979.34,788.23 981.51,788.06 983.68,787.89 985.84,787.72 988.01,787.55 990.18,787.38 992.35,787.22 994.52,787.06 996.68,786.89 998.85,786.73 1001.02,786.57 1003.19,786.41 1005.36,786.26 1007.52,786.10 1009.69,785.95 1011.86,785.79 1014.03,785.64 1016.20,785.49 1018.36,785.35 1020.53,785.20 1022.70,785.05 1024.87,784.91" fill="none" stroke="#2ea87a" stroke-width="2" stroke-linejoin="round" />
<polyline points="589.10,852.60 591.27,852.21 593.44,851.80 595.60,851.39 597.77,850.96 599.94,850.52 602.11,850.06 604.28,849.60 606.44,849.13 608.61,848.64 610.78,848.15 612.95,847.64 615.12,847.13 617.28,846.61 619.45,846.08 621.62,845.54 623.79,845.00 625.96,844.44 628.12,843.88 630.29,843.32 632.46,842.75 634.63,842.15 636.80,841.51 638.96,840.83 641.13,840.13 643.30,839.41 645.47,838.69 647.64,837.96 649.80,837.25 651.97,836.55 654.14,835.89 656.31,835.26 658.48,834.68 660.64,834.15 662.81,833.63 664.98,833.12 667.15,832.62 669.32,832.13 671.48,831.64 673.65,831.16 675.82,830.69 677.99,830.23 680.16,829.78 682.32,829.33 684.49,828.89 686.66,828.46 688.83,828.03 691.00,827.61 693.16,827.19 695.33,826.78 697.50,826.38 699.67,825.98 701.84,825.59 704.00,825.20 706.17,824.82 708.34,824.44 710.51,824.06 712.68,823.69 714.84,823.32 717.01,822.96 719.18,822.60 721.35,822.24 723.52,821.89 725.68,821.54 727.85,821.19 730.02,820.84 732.19,820.50 734.36,820.15 736.52,819.81 738.69,819.47 740.86,819.14 743.03,818.82 745.20,818.49 747.36,818.18 749.53,817.86 751.70,817.55 753.87,817.25 756.04,816.95 758.20,816.65 760.37,816.36 762.54,816.06 764.71,815.77 766.88,815.49 769.04,815.20 771.21,814.92 773.38,814.64 775.55,814.36 777.72,814.08 779.88,813.80 782.05,813.53 784.22,813.25 786.39,812.98 788.56,812.70 790.72,812.43 792.89,812.15 795.06,811.88 797.23,811.60 799.40,811.33 801.56,811.05 803.73,810.77 805.90,810.49 808.07,810.20 810.24,809.92 812.40,809.63 814.57,809.34 816.74,809.05 818.91,808.76 821.08,808.47 823.24,808.17 825.41,807.87 827.58,807.58 829.75,807.28 831.92,806.98 834.08,806.68 836.25,806.38 838.42,806.08 840.59,805.78 842.76,805.48 844.92,805.18 847.09,804.88 849.26,804.58 851.43,804.28 853.60,803.98 855.76,803.68 857.93,803.39 860.10,803.09 862.27,802.80 864.44,802.50 866.60,802.21 868.77,801.92 870.94,801.63 873.11,801.34 875.28,801.06 877.44,800.77 879.61,800.49 881.78,800.22 883.95,799.94 886.12,799.67 888.28,799.40 890.45,799.13 892.62,798.86 894.79,798.60 896.96,798.34 899.12,798.09 901.29,797.84 903.46,797.59 905.63,797.35 907.80,797.11 909.96,796.87 912.13,796.64 914.30,796.40 916.47,796.17 918.64,795.94 920.80,795.71 922.97,795.48 925.14,795.25 927.31,795.03 929.48,794.80 931.64,794.58 933.81,794.35 935.98,794.13 938.15,793.91 940.32,793.70 942.48,793.48 944.65,793.26 946.82,793.05 948.99,792.84 951.16,792.62 953.32,792.41 955.49,792.21 957.66,792.00 959.83,791.79 962.00,791.59 964.16,791.39 966.33,791.19 968.50,790.99 970.67,790.79 972.84,790.60 975.00,790.41 977.17,790.21 979.34,790.02 981.51,789.84 983.68,789.65 985.84,789.46 988.01,789.28 990.18,789.10 992.35,788.92 994.52,788.75 996.68,788.57 998.85,788.40 1001.02,788.23 1003.19,788.06 1005.36,787.89 1007.52,787.73 1009.69,787.57 1011.86,787.41 1014.03,787.25 1016.20,787.09 1018.36,786.94 1020.53,786.79 1022.70,786.64 1024.87,786.50" fill="none" stroke="#2ea87a" stroke-width="2" stroke-linejoin="round" />
<polyline points="589.10,848.09 591.27,847.73 593.44,847.36 595.60,846.97 597.77,846.57 599.94,846.16 602.11,845.74 604.28,845.30 606.44,844.86 608.61,844.40 610.78,843.94 612.95,843.46 615.12,842.98 617.28,842.48 619.45,841.98 621.62,841.47 623.79,840.96 625.96,840.43 628.12,839.90 630.29,839.37 632.46,838.82 634.63,838.25 636.80,837.64 638.96,836.99 641.13,836.32 643.30,835.62 645.47,834.92 647.64,834.23 649.80,833.54 651.97,832.87 654.14,832.24 656.31,831.64 658.48,831.08 660.64,830.58 662.81,830.08 664.98,829.60 667.15,829.12 669.32,828.66 671.48,828.20 673.65,827.75 675.82,827.30 677.99,826.87 680.16,826.44 682.32,826.02 684.49,825.60 686.66,825.19 688.83,824.79 691.00,824.40 693.16,824.01 695.33,823.62 697.50,823.24 699.67,822.87 701.84,822.50 704.00,822.14 706.17,821.78 708.34,821.43 710.51,821.07 712.68,820.73 714.84,820.39 717.01,820.05 719.18,819.71 721.35,819.38 723.52,819.05 725.68,818.72 727.85,818.39 730.02,818.07 732.19,817.75 734.36,817.43 736.52,817.11 738.69,816.79 740.86,816.49 743.03,816.18 745.20,815.88 747.36,815.59 749.53,815.30 751.70,815.01 753.87,814.73 756.04,814.45 758.20,814.17 760.37,813.90 762.54,813.63 764.71,813.36 766.88,813.10 769.04,812.83 771.21,812.57 773.38,812.31 775.55,812.06 777.72,811.80 779.88,811.54 782.05,811.29 784.22,811.03 786.39,810.78 788.56,810.53 790.72,810.27 792.89,810.02 795.06,809.76 797.23,809.51 799.40,809.25 801.56,808.99 803.73,808.73 805.90,808.47 808.07,808.21 810.24,807.94 812.40,807.67 814.57,807.40 816.74,807.13 818.91,806.86 821.08,806.58 823.24,806.31 825.41,806.03 827.58,805.75 829.75,805.47 831.92,805.19 834.08,804.91 836.25,804.62 838.42,804.34 840.59,804.06 842.76,803.78 844.92,803.49 847.09,803.21 849.26,802.93 851.43,802.65 853.60,802.36 855.76,802.08 857.93,801.80 860.10,801.52 862.27,801.24 864.44,800.97 866.60,800.69 868.77,800.42 870.94,800.14 873.11,799.87 875.28,799.60 877.44,799.34 879.61,799.07 881.78,798.81 883.95,798.55 886.12,798.29 888.28,798.03 890.45,797.78 892.62,797.53 894.79,797.28 896.96,797.04 899.12,796.80 901.29,796.56 903.46,796.33 905.63,796.10 907.80,795.87 909.96,795.65 912.13,795.43 914.30,795.20 916.47,794.98 918.64,794.77 920.80,794.55 922.97,794.33 925.14,794.12 927.31,793.90 929.48,793.69 931.64,793.48 933.81,793.27 935.98,793.06 938.15,792.85 940.32,792.64 942.48,792.43 944.65,792.23 946.82,792.03 948.99,791.82 951.16,791.62 953.32,791.42 955.49,791.22 957.66,791.03 959.83,790.83 962.00,790.64 964.16,790.44 966.33,790.25 968.50,790.06 970.67,789.87 972.84,789.69 975.00,789.50 977.17,789.32 979.34,789.14 981.51,788.96 983.68,788.78 985.84,788.60 988.01,788.42 990.18,788.25 992.35,788.08 994.52,787.90 996.68,787.74 998.85,787.57 1001.02,787.40 1003.19,787.24 1005.36,787.08 1007.52,786.92 1009.69,786.76 1011.86,786.60 1014.03,786.45 1016.20,786.29 1018.36,786.14 1020.53,785.99 1022.70,785.85 1024.87,785.70" fill="none" stroke="#2ea87a" stroke-width="2.4" stroke-linejoin="round" stroke-dasharray="6,5"/>
<line x1="648.70" y1="835.14" x2="655.24" y2="835.14" stroke="#2ea87a" stroke-width="1.8" />
<line x1="651.97" y1="833.46" x2="651.97" y2="836.82" stroke="#2ea87a" stroke-width="1.8" />
<line x1="653.12" y1="831.59" x2="667.51" y2="831.59" stroke="#2ea87a" stroke-width="1.8" />
<line x1="660.31" y1="830.49" x2="660.31" y2="832.69" stroke="#2ea87a" stroke-width="1.8" />
<line x1="771.90" y1="812.18" x2="786.06" y2="812.18" stroke="#2ea87a" stroke-width="1.8" />
<line x1="778.98" y1="811.32" x2="778.98" y2="813.03" stroke="#2ea87a" stroke-width="1.8" />
<line x1="782.80" y1="809.06" x2="795.06" y2="809.06" stroke="#2ea87a" stroke-width="1.8" />
<line x1="788.93" y1="808.18" x2="788.93" y2="809.93" stroke="#2ea87a" stroke-width="1.8" />
<line x1="646.09" y1="834.49" x2="655.38" y2="834.49" stroke="#2ea87a" stroke-width="1.8" />
<line x1="650.73" y1="832.96" x2="650.73" y2="836.02" stroke="#2ea87a" stroke-width="1.8" />
<line x1="822.81" y1="806.71" x2="835.22" y2="806.71" stroke="#2ea87a" stroke-width="1.8" />
<line x1="728.48" y1="816.81" x2="740.51" y2="816.81" stroke="#2ea87a" stroke-width="1.8" />
<line x1="719.67" y1="818.16" x2="732.82" y2="818.16" stroke="#2ea87a" stroke-width="1.8" />
<line x1="773.45" y1="809.25" x2="790.34" y2="809.25" stroke="#2ea87a" stroke-width="1.8" />
<line x1="781.90" y1="808.22" x2="781.90" y2="810.27" stroke="#2ea87a" stroke-width="1.8" />
<line x1="646.57" y1="831.37" x2="659.62" y2="831.37" stroke="#2ea87a" stroke-width="1.8" />
<line x1="653.09" y1="830.61" x2="653.09" y2="832.12" stroke="#2ea87a" stroke-width="1.8" />
<line x1="881.06" y1="795.83" x2="901.00" y2="795.83" stroke="#2ea87a" stroke-width="1.8" />
<line x1="891.03" y1="794.36" x2="891.03" y2="797.29" stroke="#2ea87a" stroke-width="1.8" />
<line x1="836.86" y1="801.81" x2="845.57" y2="801.81" stroke="#2ea87a" stroke-width="1.8" />
<line x1="841.22" y1="799.84" x2="841.22" y2="803.77" stroke="#2ea87a" stroke-width="1.8" />
<line x1="735.39" y1="813.55" x2="743.71" y2="813.55" stroke="#2ea87a" stroke-width="1.8" />
<line x1="739.55" y1="811.97" x2="739.55" y2="815.13" stroke="#2ea87a" stroke-width="1.8" />
<line x1="879.89" y1="799.49" x2="886.81" y2="799.49" stroke="#2ea87a" stroke-width="1.8" />
<line x1="883.35" y1="798.79" x2="883.35" y2="800.19" stroke="#2ea87a" stroke-width="1.8" />
<line x1="815.95" y1="804.92" x2="825.80" y2="804.92" stroke="#2ea87a" stroke-width="1.8" />
<line x1="820.88" y1="803.29" x2="820.88" y2="806.56" stroke="#2ea87a" stroke-width="1.8" />
<line x1="657.44" y1="827.22" x2="670.47" y2="827.22" stroke="#2ea87a" stroke-width="1.8" />
<line x1="663.96" y1="825.38" x2="663.96" y2="829.06" stroke="#2ea87a" stroke-width="1.8" />
<line x1="669.31" y1="827.70" x2="679.77" y2="827.70" stroke="#2ea87a" stroke-width="1.8" />
<line x1="665.89" y1="826.78" x2="674.15" y2="826.78" stroke="#2ea87a" stroke-width="1.8" />
<line x1="670.02" y1="824.91" x2="670.02" y2="828.66" stroke="#2ea87a" stroke-width="1.8" />
<line x1="787.09" y1="809.00" x2="804.08" y2="809.00" stroke="#2ea87a" stroke-width="1.8" />
<line x1="742.94" y1="815.73" x2="757.84" y2="815.73" stroke="#2ea87a" stroke-width="1.8" />
<line x1="750.39" y1="815.01" x2="750.39" y2="816.45" stroke="#2ea87a" stroke-width="1.8" />
<line x1="852.82" y1="803.08" x2="871.17" y2="803.08" stroke="#2ea87a" stroke-width="1.8" />
<line x1="899.81" y1="796.58" x2="914.63" y2="796.58" stroke="#2ea87a" stroke-width="1.8" />
<line x1="907.22" y1="795.79" x2="907.22" y2="797.37" stroke="#2ea87a" stroke-width="1.8" />
<line x1="828.11" y1="805.18" x2="842.19" y2="805.18" stroke="#2ea87a" stroke-width="1.8" />
<line x1="835.15" y1="804.46" x2="835.15" y2="805.90" stroke="#2ea87a" stroke-width="1.8" />
<line x1="817.66" y1="801.81" x2="829.85" y2="801.81" stroke="#2ea87a" stroke-width="1.8" />
<line x1="811.85" y1="804.57" x2="821.40" y2="804.57" stroke="#2ea87a" stroke-width="1.8" />
<line x1="816.62" y1="803.29" x2="816.62" y2="805.85" stroke="#2ea87a" stroke-width="1.8" />
<line x1="896.67" y1="795.49" x2="910.87" y2="795.49" stroke="#2ea87a" stroke-width="1.8" />
<line x1="903.77" y1="794.16" x2="903.77" y2="796.81" stroke="#2ea87a" stroke-width="1.8" />
<line x1="691.24" y1="823.25" x2="699.33" y2="823.25" stroke="#2ea87a" stroke-width="1.8" />
<line x1="695.28" y1="822.02" x2="695.28" y2="824.48" stroke="#2ea87a" stroke-width="1.8" />
<line x1="717.14" y1="819.01" x2="730.32" y2="819.01" stroke="#2ea87a" stroke-width="1.8" />
<line x1="723.73" y1="817.22" x2="723.73" y2="820.80" stroke="#2ea87a" stroke-width="1.8" />
<line x1="659.13" y1="829.90" x2="665.44" y2="829.90" stroke="#2ea87a" stroke-width="1.8" />
<line x1="701.08" y1="819.90" x2="708.57" y2="819.90" stroke="#2ea87a" stroke-width="1.8" />
<line x1="704.82" y1="819.19" x2="704.82" y2="820.62" stroke="#2ea87a" stroke-width="1.8" />
<line x1="673.00" y1="828.66" x2="681.86" y2="828.66" stroke="#2ea87a" stroke-width="1.8" />
<line x1="677.43" y1="827.41" x2="677.43" y2="829.91" stroke="#2ea87a" stroke-width="1.8" />
<line x1="731.00" y1="818.31" x2="738.89" y2="818.31" stroke="#2ea87a" stroke-width="1.8" />
<line x1="734.95" y1="816.44" x2="734.95" y2="820.19" stroke="#2ea87a" stroke-width="1.8" />
<line x1="673.61" y1="825.87" x2="688.55" y2="825.87" stroke="#2ea87a" stroke-width="1.8" />
<line x1="681.08" y1="824.13" x2="681.08" y2="827.61" stroke="#2ea87a" stroke-width="1.8" />
<line x1="823.95" y1="804.94" x2="835.58" y2="804.94" stroke="#2ea87a" stroke-width="1.8" />
<line x1="829.77" y1="804.41" x2="829.77" y2="805.47" stroke="#2ea87a" stroke-width="1.8" />
<line x1="644.67" y1="834.59" x2="655.58" y2="834.59" stroke="#2ea87a" stroke-width="1.8" />
<line x1="650.12" y1="833.30" x2="650.12" y2="835.88" stroke="#2ea87a" stroke-width="1.8" />
<line x1="717.15" y1="820.04" x2="736.27" y2="820.04" stroke="#2ea87a" stroke-width="1.8" />
<line x1="726.71" y1="818.58" x2="726.71" y2="821.51" stroke="#2ea87a" stroke-width="1.8" />
<line x1="675.31" y1="825.72" x2="688.75" y2="825.72" stroke="#2ea87a" stroke-width="1.8" />
<line x1="682.03" y1="824.90" x2="682.03" y2="826.53" stroke="#2ea87a" stroke-width="1.8" />
<line x1="676.54" y1="826.73" x2="683.36" y2="826.73" stroke="#2ea87a" stroke-width="1.8" />
<line x1="679.95" y1="825.17" x2="679.95" y2="828.29" stroke="#2ea87a" stroke-width="1.8" />
<line x1="646.17" y1="836.72" x2="654.16" y2="836.72" stroke="#2ea87a" stroke-width="1.8" />
<line x1="766.62" y1="813.43" x2="779.72" y2="813.43" stroke="#2ea87a" stroke-width="1.8" />
<line x1="773.17" y1="812.15" x2="773.17" y2="814.71" stroke="#2ea87a" stroke-width="1.8" />
<line x1="835.55" y1="803.48" x2="845.75" y2="803.48" stroke="#2ea87a" stroke-width="1.8" />
<line x1="859.52" y1="799.40" x2="876.48" y2="799.40" stroke="#2ea87a" stroke-width="1.8" />
<line x1="868.00" y1="797.97" x2="868.00" y2="800.83" stroke="#2ea87a" stroke-width="1.8" />
<line x1="643.68" y1="832.15" x2="656.19" y2="832.15" stroke="#2ea87a" stroke-width="1.8" />
<line x1="649.94" y1="830.67" x2="649.94" y2="833.64" stroke="#2ea87a" stroke-width="1.8" />
<line x1="724.41" y1="820.22" x2="733.57" y2="820.22" stroke="#2ea87a" stroke-width="1.8" />
<line x1="670.68" y1="825.40" x2="687.18" y2="825.40" stroke="#2ea87a" stroke-width="1.8" />
<line x1="678.93" y1="824.01" x2="678.93" y2="826.79" stroke="#2ea87a" stroke-width="1.8" />
<line x1="844.02" y1="802.25" x2="859.99" y2="802.25" stroke="#2ea87a" stroke-width="1.8" />
<line x1="852.00" y1="801.72" x2="852.00" y2="802.79" stroke="#2ea87a" stroke-width="1.8" />
<line x1="750.36" y1="816.69" x2="763.68" y2="816.69" stroke="#2ea87a" stroke-width="1.8" />
<line x1="757.02" y1="816.16" x2="757.02" y2="817.22" stroke="#2ea87a" stroke-width="1.8" />
<line x1="773.88" y1="810.10" x2="793.39" y2="810.10" stroke="#2ea87a" stroke-width="1.8" />
<line x1="859.93" y1="799.82" x2="869.24" y2="799.82" stroke="#2ea87a" stroke-width="1.8" />
<line x1="864.59" y1="798.33" x2="864.59" y2="801.31" stroke="#2ea87a" stroke-width="1.8" />
<line x1="880.46" y1="797.88" x2="896.91" y2="797.88" stroke="#2ea87a" stroke-width="1.8" />
<line x1="888.68" y1="797.22" x2="888.68" y2="798.53" stroke="#2ea87a" stroke-width="1.8" />
<line x1="855.28" y1="801.45" x2="873.98" y2="801.45" stroke="#2ea87a" stroke-width="1.8" />
<line x1="864.63" y1="800.19" x2="864.63" y2="802.71" stroke="#2ea87a" stroke-width="1.8" />
<line x1="792.18" y1="808.25" x2="807.50" y2="808.25" stroke="#2ea87a" stroke-width="1.8" />
<line x1="799.84" y1="806.29" x2="799.84" y2="810.21" stroke="#2ea87a" stroke-width="1.8" />
<line x1="724.49" y1="816.35" x2="742.50" y2="816.35" stroke="#2ea87a" stroke-width="1.8" />
<line x1="733.50" y1="815.47" x2="733.50" y2="817.22" stroke="#2ea87a" stroke-width="1.8" />
<line x1="803.29" y1="809.84" x2="817.27" y2="809.84" stroke="#2ea87a" stroke-width="1.8" />
<line x1="810.28" y1="809.22" x2="810.28" y2="810.46" stroke="#2ea87a" stroke-width="1.8" />
<line x1="665.82" y1="827.85" x2="684.57" y2="827.85" stroke="#2ea87a" stroke-width="1.8" />
<line x1="647.21" y1="833.59" x2="654.70" y2="833.59" stroke="#2ea87a" stroke-width="1.8" />
<line x1="650.95" y1="831.73" x2="650.95" y2="835.45" stroke="#2ea87a" stroke-width="1.8" />
<line x1="699.20" y1="822.17" x2="705.78" y2="822.17" stroke="#2ea87a" stroke-width="1.8" />
<line x1="702.49" y1="820.79" x2="702.49" y2="823.56" stroke="#2ea87a" stroke-width="1.8" />
<line x1="773.22" y1="811.13" x2="788.98" y2="811.13" stroke="#2ea87a" stroke-width="1.8" />
<line x1="781.10" y1="809.65" x2="781.10" y2="812.60" stroke="#2ea87a" stroke-width="1.8" />
<line x1="645.47" y1="833.39" x2="662.91" y2="833.39" stroke="#2ea87a" stroke-width="1.8" />
<line x1="654.19" y1="831.75" x2="654.19" y2="835.03" stroke="#2ea87a" stroke-width="1.8" />
<line x1="865.25" y1="801.17" x2="872.17" y2="801.17" stroke="#2ea87a" stroke-width="1.8" />
<line x1="868.71" y1="799.43" x2="868.71" y2="802.91" stroke="#2ea87a" stroke-width="1.8" />
<line x1="872.85" y1="798.70" x2="881.73" y2="798.70" stroke="#2ea87a" stroke-width="1.8" />
<line x1="642.53" y1="833.26" x2="660.40" y2="833.26" stroke="#2ea87a" stroke-width="1.8" />
<line x1="651.47" y1="831.64" x2="651.47" y2="834.89" stroke="#2ea87a" stroke-width="1.8" />
<line x1="776.18" y1="810.45" x2="786.20" y2="810.45" stroke="#2ea87a" stroke-width="1.8" />
<line x1="649.47" y1="833.09" x2="666.07" y2="833.09" stroke="#2ea87a" stroke-width="1.8" />
<line x1="691.91" y1="823.65" x2="701.50" y2="823.65" stroke="#2ea87a" stroke-width="1.8" />
<line x1="696.71" y1="823.08" x2="696.71" y2="824.21" stroke="#2ea87a" stroke-width="1.8" />
<line x1="801.77" y1="808.16" x2="812.92" y2="808.16" stroke="#2ea87a" stroke-width="1.8" />
<line x1="807.35" y1="807.51" x2="807.35" y2="808.80" stroke="#2ea87a" stroke-width="1.8" />
<line x1="888.71" y1="799.98" x2="903.37" y2="799.98" stroke="#2ea87a" stroke-width="1.8" />
<line x1="712.78" y1="819.83" x2="724.89" y2="819.83" stroke="#2ea87a" stroke-width="1.8" />
<line x1="718.83" y1="818.28" x2="718.83" y2="821.38" stroke="#2ea87a" stroke-width="1.8" />
<line x1="698.42" y1="822.83" x2="707.45" y2="822.83" stroke="#2ea87a" stroke-width="1.8" />
<line x1="702.93" y1="821.10" x2="702.93" y2="824.55" stroke="#2ea87a" stroke-width="1.8" />
<line x1="648.19" y1="833.21" x2="665.67" y2="833.21" stroke="#2ea87a" stroke-width="1.8" />
<line x1="639.97" y1="832.80" x2="659.66" y2="832.80" stroke="#2ea87a" stroke-width="1.8" />
<line x1="732.82" y1="814.36" x2="745.70" y2="814.36" stroke="#2ea87a" stroke-width="1.8" />
<line x1="739.26" y1="812.76" x2="739.26" y2="815.95" stroke="#2ea87a" stroke-width="1.8" />
<line x1="661.60" y1="829.77" x2="679.25" y2="829.77" stroke="#2ea87a" stroke-width="1.8" />
<line x1="670.42" y1="829.25" x2="670.42" y2="830.29" stroke="#2ea87a" stroke-width="1.8" />
<line x1="883.38" y1="797.98" x2="893.36" y2="797.98" stroke="#2ea87a" stroke-width="1.8" />
<line x1="794.54" y1="809.64" x2="809.46" y2="809.64" stroke="#2ea87a" stroke-width="1.8" />
<line x1="823.88" y1="805.20" x2="839.64" y2="805.20" stroke="#2ea87a" stroke-width="1.8" />
<line x1="831.76" y1="803.63" x2="831.76" y2="806.78" stroke="#2ea87a" stroke-width="1.8" />
<line x1="773.49" y1="812.53" x2="785.02" y2="812.53" stroke="#2ea87a" stroke-width="1.8" />
<line x1="779.26" y1="810.75" x2="779.26" y2="814.31" stroke="#2ea87a" stroke-width="1.8" />
<line x1="647.17" y1="830.45" x2="665.60" y2="830.45" stroke="#2ea87a" stroke-width="1.8" />
<line x1="667.64" y1="827.90" x2="680.66" y2="827.90" stroke="#2ea87a" stroke-width="1.8" />
<line x1="674.15" y1="827.15" x2="674.15" y2="828.66" stroke="#2ea87a" stroke-width="1.8" />
<line x1="861.39" y1="797.64" x2="870.66" y2="797.64" stroke="#2ea87a" stroke-width="1.8" />
<line x1="866.03" y1="796.72" x2="866.03" y2="798.56" stroke="#2ea87a" stroke-width="1.8" />
<line x1="743.10" y1="815.09" x2="758.15" y2="815.09" stroke="#2ea87a" stroke-width="1.8" />
<line x1="750.62" y1="814.39" x2="750.62" y2="815.78" stroke="#2ea87a" stroke-width="1.8" />
<line x1="694.29" y1="825.53" x2="702.46" y2="825.53" stroke="#2ea87a" stroke-width="1.8" />
<line x1="698.38" y1="823.84" x2="698.38" y2="827.21" stroke="#2ea87a" stroke-width="1.8" />
<line x1="783.89" y1="810.41" x2="796.04" y2="810.41" stroke="#2ea87a" stroke-width="1.8" />
<line x1="789.96" y1="808.86" x2="789.96" y2="811.95" stroke="#2ea87a" stroke-width="1.8" />
<line x1="760.59" y1="814.28" x2="768.36" y2="814.28" stroke="#2ea87a" stroke-width="1.8" />
<line x1="764.47" y1="813.35" x2="764.47" y2="815.20" stroke="#2ea87a" stroke-width="1.8" />
<line x1="861.34" y1="800.64" x2="871.56" y2="800.64" stroke="#2ea87a" stroke-width="1.8" />
<line x1="866.45" y1="799.23" x2="866.45" y2="802.05" stroke="#2ea87a" stroke-width="1.8" />
<line x1="847.32" y1="801.70" x2="855.49" y2="801.70" stroke="#2ea87a" stroke-width="1.8" />
<line x1="677.73" y1="826.93" x2="685.98" y2="826.93" stroke="#2ea87a" stroke-width="1.8" />
<line x1="681.85" y1="826.27" x2="681.85" y2="827.58" stroke="#2ea87a" stroke-width="1.8" />
<line x1="661.40" y1="826.68" x2="681.05" y2="826.68" stroke="#2ea87a" stroke-width="1.8" />
<line x1="671.23" y1="825.23" x2="671.23" y2="828.14" stroke="#2ea87a" stroke-width="1.8" />
<line x1="652.57" y1="830.48" x2="663.94" y2="830.48" stroke="#2ea87a" stroke-width="1.8" />
<line x1="658.25" y1="828.51" x2="658.25" y2="832.45" stroke="#2ea87a" stroke-width="1.8" />
<line x1="826.04" y1="805.05" x2="842.31" y2="805.05" stroke="#2ea87a" stroke-width="1.8" />
<line x1="834.18" y1="804.18" x2="834.18" y2="805.92" stroke="#2ea87a" stroke-width="1.8" />
<line x1="667.97" y1="828.45" x2="676.86" y2="828.45" stroke="#2ea87a" stroke-width="1.8" />
<line x1="672.41" y1="827.68" x2="672.41" y2="829.23" stroke="#2ea87a" stroke-width="1.8" />
<line x1="645.64" y1="833.57" x2="657.22" y2="833.57" stroke="#2ea87a" stroke-width="1.8" />
<line x1="651.43" y1="831.98" x2="651.43" y2="835.15" stroke="#2ea87a" stroke-width="1.8" />
<line x1="793.79" y1="811.23" x2="806.28" y2="811.23" stroke="#2ea87a" stroke-width="1.8" />
<line x1="766.01" y1="812.50" x2="777.67" y2="812.50" stroke="#2ea87a" stroke-width="1.8" />
<line x1="771.84" y1="811.02" x2="771.84" y2="813.99" stroke="#2ea87a" stroke-width="1.8" />
<line x1="866.66" y1="801.37" x2="883.15" y2="801.37" stroke="#2ea87a" stroke-width="1.8" />
<line x1="874.90" y1="800.53" x2="874.90" y2="802.21" stroke="#2ea87a" stroke-width="1.8" />
<line x1="670.18" y1="826.01" x2="686.29" y2="826.01" stroke="#2ea87a" stroke-width="1.8" />
<line x1="678.23" y1="824.25" x2="678.23" y2="827.77" stroke="#2ea87a" stroke-width="1.8" />
<line x1="819.22" y1="806.71" x2="834.73" y2="806.71" stroke="#2ea87a" stroke-width="1.8" />
<line x1="826.98" y1="805.42" x2="826.98" y2="807.99" stroke="#2ea87a" stroke-width="1.8" />
<line x1="724.17" y1="820.88" x2="734.55" y2="820.88" stroke="#2ea87a" stroke-width="1.8" />
<line x1="729.36" y1="819.62" x2="729.36" y2="822.13" stroke="#2ea87a" stroke-width="1.8" />
<line x1="649.78" y1="833.48" x2="665.76" y2="833.48" stroke="#2ea87a" stroke-width="1.8" />
<line x1="657.77" y1="832.22" x2="657.77" y2="834.74" stroke="#2ea87a" stroke-width="1.8" />
<line x1="676.37" y1="824.78" x2="688.30" y2="824.78" stroke="#2ea87a" stroke-width="1.8" />
<line x1="682.34" y1="823.87" x2="682.34" y2="825.69" stroke="#2ea87a" stroke-width="1.8" />
<line x1="767.78" y1="813.69" x2="786.80" y2="813.69" stroke="#2ea87a" stroke-width="1.8" />
<line x1="779.11" y1="809.47" x2="796.00" y2="809.47" stroke="#2ea87a" stroke-width="1.8" />
<line x1="787.55" y1="808.69" x2="787.55" y2="810.24" stroke="#2ea87a" stroke-width="1.8" />
<line x1="732.19" y1="816.35" x2="745.80" y2="816.35" stroke="#2ea87a" stroke-width="1.8" />
<line x1="820.06" y1="805.55" x2="839.22" y2="805.55" stroke="#2ea87a" stroke-width="1.8" />
<line x1="829.64" y1="804.51" x2="829.64" y2="806.59" stroke="#2ea87a" stroke-width="1.8" />
<line x1="650.14" y1="832.78" x2="666.19" y2="832.78" stroke="#2ea87a" stroke-width="1.8" />
<line x1="658.17" y1="831.76" x2="658.17" y2="833.80" stroke="#2ea87a" stroke-width="1.8" />
<line x1="773.97" y1="812.02" x2="791.58" y2="812.02" stroke="#2ea87a" stroke-width="1.8" />
<line x1="782.78" y1="810.98" x2="782.78" y2="813.07" stroke="#2ea87a" stroke-width="1.8" />
<line x1="710.40" y1="818.91" x2="725.98" y2="818.91" stroke="#2ea87a" stroke-width="1.8" />
<line x1="718.19" y1="818.13" x2="718.19" y2="819.70" stroke="#2ea87a" stroke-width="1.8" />
<line x1="819.24" y1="806.65" x2="826.95" y2="806.65" stroke="#2ea87a" stroke-width="1.8" />
<line x1="823.09" y1="804.68" x2="823.09" y2="808.61" stroke="#2ea87a" stroke-width="1.8" />
<line x1="699.14" y1="820.89" x2="710.74" y2="820.89" stroke="#2ea87a" stroke-width="1.8" />
<line x1="714.32" y1="819.14" x2="726.20" y2="819.14" stroke="#2ea87a" stroke-width="1.8" />
<line x1="720.26" y1="817.74" x2="720.26" y2="820.53" stroke="#2ea87a" stroke-width="1.8" />
<line x1="695.97" y1="822.21" x2="712.36" y2="822.21" stroke="#2ea87a" stroke-width="1.8" />
<line x1="704.16" y1="820.33" x2="704.16" y2="824.09" stroke="#2ea87a" stroke-width="1.8" />
<line x1="744.82" y1="814.29" x2="753.89" y2="814.29" stroke="#2ea87a" stroke-width="1.8" />
<line x1="749.36" y1="812.68" x2="749.36" y2="815.89" stroke="#2ea87a" stroke-width="1.8" />
<line x1="705.21" y1="820.39" x2="722.08" y2="820.39" stroke="#2ea87a" stroke-width="1.8" />
<line x1="713.65" y1="818.77" x2="713.65" y2="822.01" stroke="#2ea87a" stroke-width="1.8" />
<line x1="774.95" y1="810.64" x2="787.51" y2="810.64" stroke="#2ea87a" stroke-width="1.8" />
<line x1="781.23" y1="809.52" x2="781.23" y2="811.76" stroke="#2ea87a" stroke-width="1.8" />
<line x1="670.28" y1="825.59" x2="685.22" y2="825.59" stroke="#2ea87a" stroke-width="1.8" />
<line x1="677.75" y1="823.95" x2="677.75" y2="827.23" stroke="#2ea87a" stroke-width="1.8" />
<line x1="835.36" y1="804.23" x2="847.91" y2="804.23" stroke="#2ea87a" stroke-width="1.8" />
<line x1="841.63" y1="803.64" x2="841.63" y2="804.82" stroke="#2ea87a" stroke-width="1.8" />
<line x1="749.94" y1="812.58" x2="760.90" y2="812.58" stroke="#2ea87a" stroke-width="1.8" />
<line x1="755.42" y1="810.88" x2="755.42" y2="814.28" stroke="#2ea87a" stroke-width="1.8" />
<line x1="680.15" y1="823.41" x2="691.42" y2="823.41" stroke="#2ea87a" stroke-width="1.8" />
<line x1="685.78" y1="822.90" x2="685.78" y2="823.91" stroke="#2ea87a" stroke-width="1.8" />
<line x1="714.11" y1="819.21" x2="730.22" y2="819.21" stroke="#2ea87a" stroke-width="1.8" />
<line x1="722.17" y1="818.65" x2="722.17" y2="819.77" stroke="#2ea87a" stroke-width="1.8" />
<line x1="676.23" y1="826.11" x2="686.46" y2="826.11" stroke="#2ea87a" stroke-width="1.8" />
<line x1="681.35" y1="825.15" x2="681.35" y2="827.07" stroke="#2ea87a" stroke-width="1.8" />
<circle cx="651.97" cy="835.14" r="4.8" fill="#2ea87a" stroke="none" stroke-width="1" />
<circle cx="660.31" cy="831.59" r="4.8" fill="#2ea87a" stroke="none" stroke-width="1" />
<circle cx="778.98" cy="812.18" r="4.8" fill="#2ea87a" stroke="none" stroke-width="1" />
<circle cx="788.93" cy="809.06" r="4.8" fill="#2ea87a" stroke="none" stroke-width="1" />
<circle cx="650.73" cy="834.49" r="4.8" fill="#2ea87a" stroke="none" stroke-width="1" />
<circle cx="829.01" cy="806.71" r="4.8" fill="#2ea87a" stroke="none" stroke-width="1" />
<circle cx="734.49" cy="816.81" r="4.8" fill="#2ea87a" stroke="none" stroke-width="1" />
<circle cx="726.24" cy="818.16" r="4.8" fill="#2ea87a" stroke="none" stroke-width="1" />
<circle cx="781.90" cy="809.25" r="4.8" fill="#2ea87a" stroke="none" stroke-width="1" />
<circle cx="653.09" cy="831.37" r="4.8" fill="#2ea87a" stroke="none" stroke-width="1" />
<circle cx="891.03" cy="795.83" r="4.8" fill="#2ea87a" stroke="none" stroke-width="1" />
<circle cx="841.22" cy="801.81" r="4.8" fill="#2ea87a" stroke="none" stroke-width="1" />
<circle cx="739.55" cy="813.55" r="4.8" fill="#2ea87a" stroke="none" stroke-width="1" />
<circle cx="883.35" cy="799.49" r="4.8" fill="#2ea87a" stroke="none" stroke-width="1" />
<circle cx="820.88" cy="804.92" r="4.8" fill="#2ea87a" stroke="none" stroke-width="1" />
<circle cx="663.96" cy="827.22" r="4.8" fill="#2ea87a" stroke="none" stroke-width="1" />
<circle cx="674.54" cy="827.70" r="4.8" fill="#2ea87a" stroke="none" stroke-width="1" />
<circle cx="670.02" cy="826.78" r="4.8" fill="#2ea87a" stroke="none" stroke-width="1" />
<circle cx="795.58" cy="809.00" r="4.8" fill="#2ea87a" stroke="none" stroke-width="1" />
<circle cx="750.39" cy="815.73" r="4.8" fill="#2ea87a" stroke="none" stroke-width="1" />
<circle cx="861.99" cy="803.08" r="4.8" fill="#2ea87a" stroke="none" stroke-width="1" />
<circle cx="907.22" cy="796.58" r="4.8" fill="#2ea87a" stroke="none" stroke-width="1" />
<circle cx="835.15" cy="805.18" r="4.8" fill="#2ea87a" stroke="none" stroke-width="1" />
<circle cx="823.75" cy="801.81" r="4.8" fill="#2ea87a" stroke="none" stroke-width="1" />
<circle cx="816.62" cy="804.57" r="4.8" fill="#2ea87a" stroke="none" stroke-width="1" />
<circle cx="903.77" cy="795.49" r="4.8" fill="#2ea87a" stroke="none" stroke-width="1" />
<circle cx="695.28" cy="823.25" r="4.8" fill="#2ea87a" stroke="none" stroke-width="1" />
<circle cx="723.73" cy="819.01" r="4.8" fill="#2ea87a" stroke="none" stroke-width="1" />
<circle cx="662.28" cy="829.90" r="4.8" fill="#2ea87a" stroke="none" stroke-width="1" />
<circle cx="704.82" cy="819.90" r="4.8" fill="#2ea87a" stroke="none" stroke-width="1" />
<circle cx="677.43" cy="828.66" r="4.8" fill="#2ea87a" stroke="none" stroke-width="1" />
<circle cx="734.95" cy="818.31" r="4.8" fill="#2ea87a" stroke="none" stroke-width="1" />
<circle cx="681.08" cy="825.87" r="4.8" fill="#2ea87a" stroke="none" stroke-width="1" />
<circle cx="829.77" cy="804.94" r="4.8" fill="#2ea87a" stroke="none" stroke-width="1" />
<circle cx="650.12" cy="834.59" r="4.8" fill="#2ea87a" stroke="none" stroke-width="1" />
<circle cx="726.71" cy="820.04" r="4.8" fill="#2ea87a" stroke="none" stroke-width="1" />
<circle cx="682.03" cy="825.72" r="4.8" fill="#2ea87a" stroke="none" stroke-width="1" />
<circle cx="679.95" cy="826.73" r="4.8" fill="#2ea87a" stroke="none" stroke-width="1" />
<circle cx="650.16" cy="836.72" r="4.8" fill="#2ea87a" stroke="none" stroke-width="1" />
<circle cx="773.17" cy="813.43" r="4.8" fill="#2ea87a" stroke="none" stroke-width="1" />
<circle cx="840.65" cy="803.48" r="4.8" fill="#2ea87a" stroke="none" stroke-width="1" />
<circle cx="868.00" cy="799.40" r="4.8" fill="#2ea87a" stroke="none" stroke-width="1" />
<circle cx="649.94" cy="832.15" r="4.8" fill="#2ea87a" stroke="none" stroke-width="1" />
<circle cx="728.99" cy="820.22" r="4.8" fill="#2ea87a" stroke="none" stroke-width="1" />
<circle cx="678.93" cy="825.40" r="4.8" fill="#2ea87a" stroke="none" stroke-width="1" />
<circle cx="852.00" cy="802.25" r="4.8" fill="#2ea87a" stroke="none" stroke-width="1" />
<circle cx="757.02" cy="816.69" r="4.8" fill="#2ea87a" stroke="none" stroke-width="1" />
<circle cx="783.63" cy="810.10" r="4.8" fill="#2ea87a" stroke="none" stroke-width="1" />
<circle cx="864.59" cy="799.82" r="4.8" fill="#2ea87a" stroke="none" stroke-width="1" />
<circle cx="888.68" cy="797.88" r="4.8" fill="#2ea87a" stroke="none" stroke-width="1" />
<circle cx="864.63" cy="801.45" r="4.8" fill="#2ea87a" stroke="none" stroke-width="1" />
<circle cx="799.84" cy="808.25" r="4.8" fill="#2ea87a" stroke="none" stroke-width="1" />
<circle cx="733.50" cy="816.35" r="4.8" fill="#2ea87a" stroke="none" stroke-width="1" />
<circle cx="810.28" cy="809.84" r="4.8" fill="#2ea87a" stroke="none" stroke-width="1" />
<circle cx="675.19" cy="827.85" r="4.8" fill="#2ea87a" stroke="none" stroke-width="1" />
<circle cx="650.95" cy="833.59" r="4.8" fill="#2ea87a" stroke="none" stroke-width="1" />
<circle cx="702.49" cy="822.17" r="4.8" fill="#2ea87a" stroke="none" stroke-width="1" />
<circle cx="781.10" cy="811.13" r="4.8" fill="#2ea87a" stroke="none" stroke-width="1" />
<circle cx="654.19" cy="833.39" r="4.8" fill="#2ea87a" stroke="none" stroke-width="1" />
<circle cx="868.71" cy="801.17" r="4.8" fill="#2ea87a" stroke="none" stroke-width="1" />
<circle cx="877.29" cy="798.70" r="4.8" fill="#2ea87a" stroke="none" stroke-width="1" />
<circle cx="651.47" cy="833.26" r="4.8" fill="#2ea87a" stroke="none" stroke-width="1" />
<circle cx="781.19" cy="810.45" r="4.8" fill="#2ea87a" stroke="none" stroke-width="1" />
<circle cx="657.77" cy="833.09" r="4.8" fill="#2ea87a" stroke="none" stroke-width="1" />
<circle cx="696.71" cy="823.65" r="4.8" fill="#2ea87a" stroke="none" stroke-width="1" />
<circle cx="807.35" cy="808.16" r="4.8" fill="#2ea87a" stroke="none" stroke-width="1" />
<circle cx="896.04" cy="799.98" r="4.8" fill="#2ea87a" stroke="none" stroke-width="1" />
<circle cx="718.83" cy="819.83" r="4.8" fill="#2ea87a" stroke="none" stroke-width="1" />
<circle cx="702.93" cy="822.83" r="4.8" fill="#2ea87a" stroke="none" stroke-width="1" />
<circle cx="656.93" cy="833.21" r="4.8" fill="#2ea87a" stroke="none" stroke-width="1" />
<circle cx="649.82" cy="832.80" r="4.8" fill="#2ea87a" stroke="none" stroke-width="1" />
<circle cx="739.26" cy="814.36" r="4.8" fill="#2ea87a" stroke="none" stroke-width="1" />
<circle cx="670.42" cy="829.77" r="4.8" fill="#2ea87a" stroke="none" stroke-width="1" />
<circle cx="888.37" cy="797.98" r="4.8" fill="#2ea87a" stroke="none" stroke-width="1" />
<circle cx="802.00" cy="809.64" r="4.8" fill="#2ea87a" stroke="none" stroke-width="1" />
<circle cx="831.76" cy="805.20" r="4.8" fill="#2ea87a" stroke="none" stroke-width="1" />
<circle cx="779.26" cy="812.53" r="4.8" fill="#2ea87a" stroke="none" stroke-width="1" />
<circle cx="656.39" cy="830.45" r="4.8" fill="#2ea87a" stroke="none" stroke-width="1" />
<circle cx="674.15" cy="827.90" r="4.8" fill="#2ea87a" stroke="none" stroke-width="1" />
<circle cx="866.03" cy="797.64" r="4.8" fill="#2ea87a" stroke="none" stroke-width="1" />
<circle cx="750.62" cy="815.09" r="4.8" fill="#2ea87a" stroke="none" stroke-width="1" />
<circle cx="698.38" cy="825.53" r="4.8" fill="#2ea87a" stroke="none" stroke-width="1" />
<circle cx="789.96" cy="810.41" r="4.8" fill="#2ea87a" stroke="none" stroke-width="1" />
<circle cx="764.47" cy="814.28" r="4.8" fill="#2ea87a" stroke="none" stroke-width="1" />
<circle cx="866.45" cy="800.64" r="4.8" fill="#2ea87a" stroke="none" stroke-width="1" />
<circle cx="851.41" cy="801.70" r="4.8" fill="#2ea87a" stroke="none" stroke-width="1" />
<circle cx="681.85" cy="826.93" r="4.8" fill="#2ea87a" stroke="none" stroke-width="1" />
<circle cx="671.23" cy="826.68" r="4.8" fill="#2ea87a" stroke="none" stroke-width="1" />
<circle cx="658.25" cy="830.48" r="4.8" fill="#2ea87a" stroke="none" stroke-width="1" />
<circle cx="834.18" cy="805.05" r="4.8" fill="#2ea87a" stroke="none" stroke-width="1" />
<circle cx="672.41" cy="828.45" r="4.8" fill="#2ea87a" stroke="none" stroke-width="1" />
<circle cx="651.43" cy="833.57" r="4.8" fill="#2ea87a" stroke="none" stroke-width="1" />
<circle cx="800.03" cy="811.23" r="4.8" fill="#2ea87a" stroke="none" stroke-width="1" />
<circle cx="771.84" cy="812.50" r="4.8" fill="#2ea87a" stroke="none" stroke-width="1" />
<circle cx="874.90" cy="801.37" r="4.8" fill="#2ea87a" stroke="none" stroke-width="1" />
<circle cx="678.23" cy="826.01" r="4.8" fill="#2ea87a" stroke="none" stroke-width="1" />
<circle cx="826.98" cy="806.71" r="4.8" fill="#2ea87a" stroke="none" stroke-width="1" />
<circle cx="729.36" cy="820.88" r="4.8" fill="#2ea87a" stroke="none" stroke-width="1" />
<circle cx="657.77" cy="833.48" r="4.8" fill="#2ea87a" stroke="none" stroke-width="1" />
<circle cx="682.34" cy="824.78" r="4.8" fill="#2ea87a" stroke="none" stroke-width="1" />
<circle cx="777.29" cy="813.69" r="4.8" fill="#2ea87a" stroke="none" stroke-width="1" />
<circle cx="787.55" cy="809.47" r="4.8" fill="#2ea87a" stroke="none" stroke-width="1" />
<circle cx="739.00" cy="816.35" r="4.8" fill="#2ea87a" stroke="none" stroke-width="1" />
<circle cx="829.64" cy="805.55" r="4.8" fill="#2ea87a" stroke="none" stroke-width="1" />
<circle cx="658.17" cy="832.78" r="4.8" fill="#2ea87a" stroke="none" stroke-width="1" />
<circle cx="782.78" cy="812.02" r="4.8" fill="#2ea87a" stroke="none" stroke-width="1" />
<circle cx="718.19" cy="818.91" r="4.8" fill="#2ea87a" stroke="none" stroke-width="1" />
<circle cx="823.09" cy="806.65" r="4.8" fill="#2ea87a" stroke="none" stroke-width="1" />
<circle cx="704.94" cy="820.89" r="4.8" fill="#2ea87a" stroke="none" stroke-width="1" />
<circle cx="720.26" cy="819.14" r="4.8" fill="#2ea87a" stroke="none" stroke-width="1" />
<circle cx="704.16" cy="822.21" r="4.8" fill="#2ea87a" stroke="none" stroke-width="1" />
<circle cx="749.36" cy="814.29" r="4.8" fill="#2ea87a" stroke="none" stroke-width="1" />
<circle cx="713.65" cy="820.39" r="4.8" fill="#2ea87a" stroke="none" stroke-width="1" />
<circle cx="781.23" cy="810.64" r="4.8" fill="#2ea87a" stroke="none" stroke-width="1" />
<circle cx="677.75" cy="825.59" r="4.8" fill="#2ea87a" stroke="none" stroke-width="1" />
<circle cx="841.63" cy="804.23" r="4.8" fill="#2ea87a" stroke="none" stroke-width="1" />
<circle cx="755.42" cy="812.58" r="4.8" fill="#2ea87a" stroke="none" stroke-width="1" />
<circle cx="685.78" cy="823.41" r="4.8" fill="#2ea87a" stroke="none" stroke-width="1" />
<circle cx="722.17" cy="819.21" r="4.8" fill="#2ea87a" stroke="none" stroke-width="1" />
<circle cx="681.35" cy="826.11" r="4.8" fill="#2ea87a" stroke="none" stroke-width="1" />
<path d="M589.10,855.51 L591.27,855.14 L593.44,854.78 L595.60,854.43 L597.77,854.08 L599.94,853.74 L602.11,853.40 L604.28,853.07 L606.44,852.75 L608.61,852.43 L610.78,852.12 L612.95,851.81 L615.12,851.51 L617.28,851.22 L619.45,850.93 L621.62,850.65 L623.79,850.38 L625.96,850.11 L628.12,849.85 L630.29,849.60 L632.46,849.35 L634.63,849.11 L636.80,848.88 L638.96,848.65 L641.13,848.43 L643.30,848.22 L645.47,848.01 L647.64,847.82 L649.80,847.63 L651.97,847.44 L654.14,847.27 L656.31,847.10 L658.48,846.94 L660.64,846.79 L662.81,846.65 L664.98,846.51 L667.15,846.38 L669.32,846.26 L671.48,846.14 L673.65,846.02 L675.82,845.90 L677.99,845.78 L680.16,845.66 L682.32,845.54 L684.49,845.42 L686.66,845.30 L688.83,845.16 L691.00,845.03 L693.16,844.90 L695.33,844.77 L697.50,844.63 L699.67,844.50 L701.84,844.37 L704.00,844.24 L706.17,844.10 L708.34,843.97 L710.51,843.84 L712.68,843.70 L714.84,843.57 L717.01,843.44 L719.18,843.30 L721.35,843.17 L723.52,843.04 L725.68,842.90 L727.85,842.77 L730.02,842.64 L732.19,842.51 L734.36,842.37 L736.52,842.24 L738.69,842.11 L740.86,841.97 L743.03,841.84 L745.20,841.70 L747.36,841.57 L749.53,841.43 L751.70,841.29 L753.87,841.16 L756.04,841.02 L758.20,840.88 L760.37,840.75 L762.54,840.61 L764.71,840.47 L766.88,840.34 L769.04,840.20 L771.21,840.07 L773.38,839.93 L775.55,839.80 L777.72,839.66 L779.88,839.53 L782.05,839.39 L784.22,839.26 L786.39,839.13 L788.56,839.00 L790.72,838.87 L792.89,838.74 L795.06,838.61 L797.23,838.48 L799.40,838.36 L801.56,838.23 L803.73,838.11 L805.90,837.98 L808.07,837.86 L810.24,837.74 L812.40,837.62 L814.57,837.50 L816.74,837.39 L818.91,837.27 L821.08,837.16 L823.24,837.04 L825.41,836.93 L827.58,836.82 L829.75,836.71 L831.92,836.59 L834.08,836.48 L836.25,836.37 L838.42,836.26 L840.59,836.15 L842.76,836.04 L844.92,835.93 L847.09,835.83 L849.26,835.72 L851.43,835.61 L853.60,835.51 L855.76,835.40 L857.93,835.30 L860.10,835.19 L862.27,835.09 L864.44,834.99 L866.60,834.88 L868.77,834.78 L870.94,834.68 L873.11,834.58 L875.28,834.48 L877.44,834.38 L879.61,834.28 L881.78,834.18 L883.95,834.08 L886.12,833.99 L888.28,833.89 L890.45,833.80 L892.62,833.70 L894.79,833.61 L896.96,833.51 L899.12,833.42 L901.29,833.33 L903.46,833.23 L905.63,833.14 L907.80,833.05 L909.96,832.96 L912.13,832.87 L914.30,832.78 L916.47,832.69 L918.64,832.60 L920.80,832.51 L922.97,832.42 L925.14,832.34 L927.31,832.25 L929.48,832.16 L931.64,832.07 L933.81,831.99 L935.98,831.90 L938.15,831.81 L940.32,831.73 L942.48,831.64 L944.65,831.56 L946.82,831.47 L948.99,831.39 L951.16,831.30 L953.32,831.22 L955.49,831.14 L957.66,831.05 L959.83,830.97 L962.00,830.89 L964.16,830.81 L966.33,830.72 L968.50,830.64 L970.67,830.56 L972.84,830.48 L975.00,830.40 L977.17,830.32 L979.34,830.24 L981.51,830.17 L983.68,830.09 L985.84,830.01 L988.01,829.93 L990.18,829.86 L992.35,829.78 L994.52,829.70 L996.68,829.63 L998.85,829.55 L1001.02,829.48 L1003.19,829.40 L1005.36,829.33 L1007.52,829.26 L1009.69,829.18 L1011.86,829.11 L1014.03,829.04 L1016.20,828.97 L1018.36,828.90 L1020.53,828.83 L1022.70,828.76 L1024.87,828.69 L1024.87,829.75 L1022.70,829.82 L1020.53,829.89 L1018.36,829.96 L1016.20,830.03 L1014.03,830.11 L1011.86,830.18 L1009.69,830.26 L1007.52,830.33 L1005.36,830.41 L1003.19,830.49 L1001.02,830.56 L998.85,830.64 L996.68,830.72 L994.52,830.80 L992.35,830.88 L990.18,830.97 L988.01,831.05 L985.84,831.13 L983.68,831.21 L981.51,831.30 L979.34,831.38 L977.17,831.47 L975.00,831.55 L972.84,831.64 L970.67,831.73 L968.50,831.82 L966.33,831.91 L964.16,831.99 L962.00,832.08 L959.83,832.17 L957.66,832.26 L955.49,832.36 L953.32,832.45 L951.16,832.54 L948.99,832.63 L946.82,832.73 L944.65,832.82 L942.48,832.91 L940.32,833.01 L938.15,833.11 L935.98,833.20 L933.81,833.30 L931.64,833.39 L929.48,833.49 L927.31,833.59 L925.14,833.69 L922.97,833.79 L920.80,833.89 L918.64,833.99 L916.47,834.09 L914.30,834.19 L912.13,834.29 L909.96,834.39 L907.80,834.49 L905.63,834.59 L903.46,834.70 L901.29,834.80 L899.12,834.90 L896.96,835.01 L894.79,835.12 L892.62,835.22 L890.45,835.33 L888.28,835.44 L886.12,835.55 L883.95,835.66 L881.78,835.77 L879.61,835.88 L877.44,835.99 L875.28,836.10 L873.11,836.22 L870.94,836.33 L868.77,836.45 L866.60,836.56 L864.44,836.68 L862.27,836.80 L860.10,836.91 L857.93,837.03 L855.76,837.15 L853.60,837.27 L851.43,837.39 L849.26,837.51 L847.09,837.63 L844.92,837.76 L842.76,837.88 L840.59,838.00 L838.42,838.13 L836.25,838.25 L834.08,838.38 L831.92,838.51 L829.75,838.63 L827.58,838.76 L825.41,838.89 L823.24,839.02 L821.08,839.15 L818.91,839.28 L816.74,839.41 L814.57,839.55 L812.40,839.68 L810.24,839.82 L808.07,839.95 L805.90,840.09 L803.73,840.23 L801.56,840.37 L799.40,840.51 L797.23,840.66 L795.06,840.80 L792.89,840.95 L790.72,841.10 L788.56,841.24 L786.39,841.39 L784.22,841.54 L782.05,841.69 L779.88,841.84 L777.72,842.00 L775.55,842.15 L773.38,842.30 L771.21,842.46 L769.04,842.61 L766.88,842.76 L764.71,842.92 L762.54,843.07 L760.37,843.23 L758.20,843.38 L756.04,843.54 L753.87,843.70 L751.70,843.85 L749.53,844.01 L747.36,844.16 L745.20,844.32 L743.03,844.47 L740.86,844.63 L738.69,844.78 L736.52,844.94 L734.36,845.09 L732.19,845.24 L730.02,845.39 L727.85,845.55 L725.68,845.70 L723.52,845.85 L721.35,846.00 L719.18,846.16 L717.01,846.31 L714.84,846.47 L712.68,846.62 L710.51,846.77 L708.34,846.93 L706.17,847.08 L704.00,847.24 L701.84,847.39 L699.67,847.55 L697.50,847.70 L695.33,847.85 L693.16,848.01 L691.00,848.16 L688.83,848.32 L686.66,848.47 L684.49,848.62 L682.32,848.76 L680.16,848.90 L677.99,849.04 L675.82,849.18 L673.65,849.32 L671.48,849.46 L669.32,849.61 L667.15,849.76 L664.98,849.91 L662.81,850.07 L660.64,850.23 L658.48,850.40 L656.31,850.59 L654.14,850.78 L651.97,850.98 L649.80,851.18 L647.64,851.40 L645.47,851.62 L643.30,851.85 L641.13,852.08 L638.96,852.32 L636.80,852.57 L634.63,852.83 L632.46,853.10 L630.29,853.37 L628.12,853.64 L625.96,853.93 L623.79,854.22 L621.62,854.52 L619.45,854.82 L617.28,855.13 L615.12,855.45 L612.95,855.77 L610.78,856.10 L608.61,856.44 L606.44,856.78 L604.28,857.13 L602.11,857.49 L599.94,857.85 L597.77,858.22 L595.60,858.59 L593.44,858.97 L591.27,859.36 L589.10,859.75 Z" fill="#d27aad" fill-opacity="0.2" stroke="none"/>
<polyline points="589.10,855.51 591.27,855.14 593.44,854.78 595.60,854.43 597.77,854.08 599.94,853.74 602.11,853.40 604.28,853.07 606.44,852.75 608.61,852.43 610.78,852.12 612.95,851.81 615.12,851.51 617.28,851.22 619.45,850.93 621.62,850.65 623.79,850.38 625.96,850.11 628.12,849.85 630.29,849.60 632.46,849.35 634.63,849.11 636.80,848.88 638.96,848.65 641.13,848.43 643.30,848.22 645.47,848.01 647.64,847.82 649.80,847.63 651.97,847.44 654.14,847.27 656.31,847.10 658.48,846.94 660.64,846.79 662.81,846.65 664.98,846.51 667.15,846.38 669.32,846.26 671.48,846.14 673.65,846.02 675.82,845.90 677.99,845.78 680.16,845.66 682.32,845.54 684.49,845.42 686.66,845.30 688.83,845.16 691.00,845.03 693.16,844.90 695.33,844.77 697.50,844.63 699.67,844.50 701.84,844.37 704.00,844.24 706.17,844.10 708.34,843.97 710.51,843.84 712.68,843.70 714.84,843.57 717.01,843.44 719.18,843.30 721.35,843.17 723.52,843.04 725.68,842.90 727.85,842.77 730.02,842.64 732.19,842.51 734.36,842.37 736.52,842.24 738.69,842.11 740.86,841.97 743.03,841.84 745.20,841.70 747.36,841.57 749.53,841.43 751.70,841.29 753.87,841.16 756.04,841.02 758.20,840.88 760.37,840.75 762.54,840.61 764.71,840.47 766.88,840.34 769.04,840.20 771.21,840.07 773.38,839.93 775.55,839.80 777.72,839.66 779.88,839.53 782.05,839.39 784.22,839.26 786.39,839.13 788.56,839.00 790.72,838.87 792.89,838.74 795.06,838.61 797.23,838.48 799.40,838.36 801.56,838.23 803.73,838.11 805.90,837.98 808.07,837.86 810.24,837.74 812.40,837.62 814.57,837.50 816.74,837.39 818.91,837.27 821.08,837.16 823.24,837.04 825.41,836.93 827.58,836.82 829.75,836.71 831.92,836.59 834.08,836.48 836.25,836.37 838.42,836.26 840.59,836.15 842.76,836.04 844.92,835.93 847.09,835.83 849.26,835.72 851.43,835.61 853.60,835.51 855.76,835.40 857.93,835.30 860.10,835.19 862.27,835.09 864.44,834.99 866.60,834.88 868.77,834.78 870.94,834.68 873.11,834.58 875.28,834.48 877.44,834.38 879.61,834.28 881.78,834.18 883.95,834.08 886.12,833.99 888.28,833.89 890.45,833.80 892.62,833.70 894.79,833.61 896.96,833.51 899.12,833.42 901.29,833.33 903.46,833.23 905.63,833.14 907.80,833.05 909.96,832.96 912.13,832.87 914.30,832.78 916.47,832.69 918.64,832.60 920.80,832.51 922.97,832.42 925.14,832.34 927.31,832.25 929.48,832.16 931.64,832.07 933.81,831.99 935.98,831.90 938.15,831.81 940.32,831.73 942.48,831.64 944.65,831.56 946.82,831.47 948.99,831.39 951.16,831.30 953.32,831.22 955.49,831.14 957.66,831.05 959.83,830.97 962.00,830.89 964.16,830.81 966.33,830.72 968.50,830.64 970.67,830.56 972.84,830.48 975.00,830.40 977.17,830.32 979.34,830.24 981.51,830.17 983.68,830.09 985.84,830.01 988.01,829.93 990.18,829.86 992.35,829.78 994.52,829.70 996.68,829.63 998.85,829.55 1001.02,829.48 1003.19,829.40 1005.36,829.33 1007.52,829.26 1009.69,829.18 1011.86,829.11 1014.03,829.04 1016.20,828.97 1018.36,828.90 1020.53,828.83 1022.70,828.76 1024.87,828.69" fill="none" stroke="#d27aad" stroke-width="2" stroke-linejoin="round" />
<polyline points="589.10,859.75 591.27,859.36 593.44,858.97 595.60,858.59 597.77,858.22 599.94,857.85 602.11,857.49 604.28,857.13 606.44,856.78 608.61,856.44 610.78,856.10 612.95,855.77 615.12,855.45 617.28,855.13 619.45,854.82 621.62,854.52 623.79,854.22 625.96,853.93 628.12,853.64 630.29,853.37 632.46,853.10 634.63,852.83 636.80,852.57 638.96,852.32 641.13,852.08 643.30,851.85 645.47,851.62 647.64,851.40 649.80,851.18 651.97,850.98 654.14,850.78 656.31,850.59 658.48,850.40 660.64,850.23 662.81,850.07 664.98,849.91 667.15,849.76 669.32,849.61 671.48,849.46 673.65,849.32 675.82,849.18 677.99,849.04 680.16,848.90 682.32,848.76 684.49,848.62 686.66,848.47 688.83,848.32 691.00,848.16 693.16,848.01 695.33,847.85 697.50,847.70 699.67,847.55 701.84,847.39 704.00,847.24 706.17,847.08 708.34,846.93 710.51,846.77 712.68,846.62 714.84,846.47 717.01,846.31 719.18,846.16 721.35,846.00 723.52,845.85 725.68,845.70 727.85,845.55 730.02,845.39 732.19,845.24 734.36,845.09 736.52,844.94 738.69,844.78 740.86,844.63 743.03,844.47 745.20,844.32 747.36,844.16 749.53,844.01 751.70,843.85 753.87,843.70 756.04,843.54 758.20,843.38 760.37,843.23 762.54,843.07 764.71,842.92 766.88,842.76 769.04,842.61 771.21,842.46 773.38,842.30 775.55,842.15 777.72,842.00 779.88,841.84 782.05,841.69 784.22,841.54 786.39,841.39 788.56,841.24 790.72,841.10 792.89,840.95 795.06,840.80 797.23,840.66 799.40,840.51 801.56,840.37 803.73,840.23 805.90,840.09 808.07,839.95 810.24,839.82 812.40,839.68 814.57,839.55 816.74,839.41 818.91,839.28 821.08,839.15 823.24,839.02 825.41,838.89 827.58,838.76 829.75,838.63 831.92,838.51 834.08,838.38 836.25,838.25 838.42,838.13 840.59,838.00 842.76,837.88 844.92,837.76 847.09,837.63 849.26,837.51 851.43,837.39 853.60,837.27 855.76,837.15 857.93,837.03 860.10,836.91 862.27,836.80 864.44,836.68 866.60,836.56 868.77,836.45 870.94,836.33 873.11,836.22 875.28,836.10 877.44,835.99 879.61,835.88 881.78,835.77 883.95,835.66 886.12,835.55 888.28,835.44 890.45,835.33 892.62,835.22 894.79,835.12 896.96,835.01 899.12,834.90 901.29,834.80 903.46,834.70 905.63,834.59 907.80,834.49 909.96,834.39 912.13,834.29 914.30,834.19 916.47,834.09 918.64,833.99 920.80,833.89 922.97,833.79 925.14,833.69 927.31,833.59 929.48,833.49 931.64,833.39 933.81,833.30 935.98,833.20 938.15,833.11 940.32,833.01 942.48,832.91 944.65,832.82 946.82,832.73 948.99,832.63 951.16,832.54 953.32,832.45 955.49,832.36 957.66,832.26 959.83,832.17 962.00,832.08 964.16,831.99 966.33,831.91 968.50,831.82 970.67,831.73 972.84,831.64 975.00,831.55 977.17,831.47 979.34,831.38 981.51,831.30 983.68,831.21 985.84,831.13 988.01,831.05 990.18,830.97 992.35,830.88 994.52,830.80 996.68,830.72 998.85,830.64 1001.02,830.56 1003.19,830.49 1005.36,830.41 1007.52,830.33 1009.69,830.26 1011.86,830.18 1014.03,830.11 1016.20,830.03 1018.36,829.96 1020.53,829.89 1022.70,829.82 1024.87,829.75" fill="none" stroke="#d27aad" stroke-width="2" stroke-linejoin="round" />
<polyline points="589.10,857.63 591.27,857.25 593.44,856.88 595.60,856.51 597.77,856.15 599.94,855.79 602.11,855.45 604.28,855.10 606.44,854.77 608.61,854.44 610.78,854.11 612.95,853.79 615.12,853.48 617.28,853.18 619.45,852.88 621.62,852.58 623.79,852.30 625.96,852.02 628.12,851.75 630.29,851.48 632.46,851.22 634.63,850.97 636.80,850.73 638.96,850.49 641.13,850.26 643.30,850.03 645.47,849.82 647.64,849.61 649.80,849.40 651.97,849.21 654.14,849.02 656.31,848.84 658.48,848.67 660.64,848.51 662.81,848.36 664.98,848.21 667.15,848.07 669.32,847.93 671.48,847.80 673.65,847.67 675.82,847.54 677.99,847.41 680.16,847.28 682.32,847.15 684.49,847.02 686.66,846.88 688.83,846.74 691.00,846.60 693.16,846.45 695.33,846.31 697.50,846.17 699.67,846.02 701.84,845.88 704.00,845.74 706.17,845.59 708.34,845.45 710.51,845.30 712.68,845.16 714.84,845.02 717.01,844.87 719.18,844.73 721.35,844.59 723.52,844.44 725.68,844.30 727.85,844.16 730.02,844.02 732.19,843.87 734.36,843.73 736.52,843.59 738.69,843.44 740.86,843.30 743.03,843.15 745.20,843.01 747.36,842.86 749.53,842.72 751.70,842.57 753.87,842.43 756.04,842.28 758.20,842.13 760.37,841.99 762.54,841.84 764.71,841.70 766.88,841.55 769.04,841.41 771.21,841.26 773.38,841.12 775.55,840.97 777.72,840.83 779.88,840.69 782.05,840.54 784.22,840.40 786.39,840.26 788.56,840.12 790.72,839.98 792.89,839.84 795.06,839.71 797.23,839.57 799.40,839.44 801.56,839.30 803.73,839.17 805.90,839.04 808.07,838.91 810.24,838.78 812.40,838.65 814.57,838.53 816.74,838.40 818.91,838.28 821.08,838.15 823.24,838.03 825.41,837.91 827.58,837.79 829.75,837.67 831.92,837.55 834.08,837.43 836.25,837.31 838.42,837.20 840.59,837.08 842.76,836.96 844.92,836.85 847.09,836.73 849.26,836.62 851.43,836.50 853.60,836.39 855.76,836.28 857.93,836.16 860.10,836.05 862.27,835.94 864.44,835.83 866.60,835.72 868.77,835.61 870.94,835.51 873.11,835.40 875.28,835.29 877.44,835.19 879.61,835.08 881.78,834.97 883.95,834.87 886.12,834.77 888.28,834.66 890.45,834.56 892.62,834.46 894.79,834.36 896.96,834.26 899.12,834.16 901.29,834.06 903.46,833.96 905.63,833.87 907.80,833.77 909.96,833.67 912.13,833.58 914.30,833.48 916.47,833.39 918.64,833.29 920.80,833.20 922.97,833.11 925.14,833.01 927.31,832.92 929.48,832.83 931.64,832.73 933.81,832.64 935.98,832.55 938.15,832.46 940.32,832.37 942.48,832.28 944.65,832.19 946.82,832.10 948.99,832.01 951.16,831.92 953.32,831.83 955.49,831.75 957.66,831.66 959.83,831.57 962.00,831.49 964.16,831.40 966.33,831.31 968.50,831.23 970.67,831.15 972.84,831.06 975.00,830.98 977.17,830.90 979.34,830.81 981.51,830.73 983.68,830.65 985.84,830.57 988.01,830.49 990.18,830.41 992.35,830.33 994.52,830.25 996.68,830.18 998.85,830.10 1001.02,830.02 1003.19,829.95 1005.36,829.87 1007.52,829.79 1009.69,829.72 1011.86,829.65 1014.03,829.57 1016.20,829.50 1018.36,829.43 1020.53,829.36 1022.70,829.29 1024.87,829.22" fill="none" stroke="#d27aad" stroke-width="2.4" stroke-linejoin="round" stroke-dasharray="6,5"/>
<line x1="784.56" y1="838.90" x2="793.59" y2="838.90" stroke="#d27aad" stroke-width="1.8" />
<line x1="678.03" y1="846.44" x2="692.78" y2="846.44" stroke="#d27aad" stroke-width="1.8" />
<line x1="810.06" y1="837.56" x2="820.65" y2="837.56" stroke="#d27aad" stroke-width="1.8" />
<line x1="815.36" y1="836.84" x2="815.36" y2="838.28" stroke="#d27aad" stroke-width="1.8" />
<line x1="789.28" y1="839.73" x2="804.48" y2="839.73" stroke="#d27aad" stroke-width="1.8" />
<line x1="796.88" y1="838.81" x2="796.88" y2="840.66" stroke="#d27aad" stroke-width="1.8" />
<line x1="779.35" y1="840.03" x2="788.39" y2="840.03" stroke="#d27aad" stroke-width="1.8" />
<line x1="783.87" y1="838.91" x2="783.87" y2="841.14" stroke="#d27aad" stroke-width="1.8" />
<line x1="687.09" y1="846.22" x2="699.91" y2="846.22" stroke="#d27aad" stroke-width="1.8" />
<line x1="646.54" y1="849.20" x2="660.84" y2="849.20" stroke="#d27aad" stroke-width="1.8" />
<line x1="653.69" y1="848.19" x2="653.69" y2="850.21" stroke="#d27aad" stroke-width="1.8" />
<line x1="684.51" y1="845.44" x2="696.71" y2="845.44" stroke="#d27aad" stroke-width="1.8" />
<line x1="690.61" y1="844.75" x2="690.61" y2="846.14" stroke="#d27aad" stroke-width="1.8" />
<line x1="728.46" y1="842.61" x2="736.85" y2="842.61" stroke="#d27aad" stroke-width="1.8" />
<line x1="732.65" y1="841.14" x2="732.65" y2="844.07" stroke="#d27aad" stroke-width="1.8" />
<line x1="882.38" y1="833.66" x2="888.59" y2="833.66" stroke="#d27aad" stroke-width="1.8" />
<line x1="885.49" y1="832.97" x2="885.49" y2="834.35" stroke="#d27aad" stroke-width="1.8" />
<line x1="838.34" y1="836.10" x2="847.56" y2="836.10" stroke="#d27aad" stroke-width="1.8" />
<line x1="884.76" y1="834.80" x2="893.29" y2="834.80" stroke="#d27aad" stroke-width="1.8" />
<line x1="889.02" y1="833.93" x2="889.02" y2="835.67" stroke="#d27aad" stroke-width="1.8" />
<line x1="659.89" y1="850.24" x2="667.48" y2="850.24" stroke="#d27aad" stroke-width="1.8" />
<line x1="663.69" y1="849.01" x2="663.69" y2="851.47" stroke="#d27aad" stroke-width="1.8" />
<line x1="735.89" y1="843.37" x2="752.53" y2="843.37" stroke="#d27aad" stroke-width="1.8" />
<line x1="744.21" y1="842.32" x2="744.21" y2="844.43" stroke="#d27aad" stroke-width="1.8" />
<line x1="675.61" y1="846.63" x2="681.91" y2="846.63" stroke="#d27aad" stroke-width="1.8" />
<line x1="733.80" y1="843.94" x2="745.21" y2="843.94" stroke="#d27aad" stroke-width="1.8" />
<line x1="655.49" y1="848.69" x2="671.58" y2="848.69" stroke="#d27aad" stroke-width="1.8" />
<line x1="811.00" y1="837.70" x2="827.07" y2="837.70" stroke="#d27aad" stroke-width="1.8" />
<line x1="877.04" y1="835.37" x2="886.52" y2="835.37" stroke="#d27aad" stroke-width="1.8" />
<line x1="881.78" y1="834.81" x2="881.78" y2="835.93" stroke="#d27aad" stroke-width="1.8" />
<line x1="704.88" y1="846.75" x2="722.87" y2="846.75" stroke="#d27aad" stroke-width="1.8" />
<line x1="713.88" y1="845.86" x2="713.88" y2="847.63" stroke="#d27aad" stroke-width="1.8" />
<line x1="702.88" y1="846.17" x2="709.45" y2="846.17" stroke="#d27aad" stroke-width="1.8" />
<line x1="843.48" y1="836.39" x2="852.91" y2="836.39" stroke="#d27aad" stroke-width="1.8" />
<line x1="848.19" y1="834.99" x2="848.19" y2="837.80" stroke="#d27aad" stroke-width="1.8" />
<line x1="678.05" y1="847.25" x2="686.33" y2="847.25" stroke="#d27aad" stroke-width="1.8" />
<line x1="682.19" y1="846.69" x2="682.19" y2="847.81" stroke="#d27aad" stroke-width="1.8" />
<line x1="884.74" y1="833.50" x2="901.35" y2="833.50" stroke="#d27aad" stroke-width="1.8" />
<line x1="893.05" y1="832.28" x2="893.05" y2="834.71" stroke="#d27aad" stroke-width="1.8" />
<line x1="773.88" y1="839.05" x2="786.47" y2="839.05" stroke="#d27aad" stroke-width="1.8" />
<line x1="780.17" y1="837.97" x2="780.17" y2="840.13" stroke="#d27aad" stroke-width="1.8" />
<line x1="645.27" y1="850.13" x2="660.06" y2="850.13" stroke="#d27aad" stroke-width="1.8" />
<line x1="652.67" y1="849.45" x2="652.67" y2="850.80" stroke="#d27aad" stroke-width="1.8" />
<line x1="816.39" y1="838.64" x2="822.98" y2="838.64" stroke="#d27aad" stroke-width="1.8" />
<line x1="819.69" y1="837.24" x2="819.69" y2="840.03" stroke="#d27aad" stroke-width="1.8" />
<line x1="655.79" y1="848.96" x2="667.46" y2="848.96" stroke="#d27aad" stroke-width="1.8" />
<line x1="661.62" y1="848.44" x2="661.62" y2="849.47" stroke="#d27aad" stroke-width="1.8" />
<line x1="687.52" y1="846.68" x2="696.64" y2="846.68" stroke="#d27aad" stroke-width="1.8" />
<line x1="692.08" y1="845.69" x2="692.08" y2="847.66" stroke="#d27aad" stroke-width="1.8" />
<line x1="686.39" y1="848.65" x2="699.08" y2="848.65" stroke="#d27aad" stroke-width="1.8" />
<line x1="692.73" y1="848.06" x2="692.73" y2="849.24" stroke="#d27aad" stroke-width="1.8" />
<line x1="659.18" y1="847.76" x2="676.05" y2="847.76" stroke="#d27aad" stroke-width="1.8" />
<line x1="667.61" y1="847.01" x2="667.61" y2="848.50" stroke="#d27aad" stroke-width="1.8" />
<line x1="668.22" y1="847.03" x2="685.09" y2="847.03" stroke="#d27aad" stroke-width="1.8" />
<line x1="676.65" y1="845.54" x2="676.65" y2="848.53" stroke="#d27aad" stroke-width="1.8" />
<line x1="724.78" y1="843.80" x2="731.87" y2="843.80" stroke="#d27aad" stroke-width="1.8" />
<line x1="728.33" y1="843.28" x2="728.33" y2="844.31" stroke="#d27aad" stroke-width="1.8" />
<line x1="652.52" y1="848.39" x2="661.39" y2="848.39" stroke="#d27aad" stroke-width="1.8" />
<line x1="756.17" y1="840.90" x2="767.13" y2="840.90" stroke="#d27aad" stroke-width="1.8" />
<line x1="761.65" y1="840.28" x2="761.65" y2="841.52" stroke="#d27aad" stroke-width="1.8" />
<line x1="743.27" y1="843.65" x2="753.79" y2="843.65" stroke="#d27aad" stroke-width="1.8" />
<line x1="748.53" y1="843.14" x2="748.53" y2="844.15" stroke="#d27aad" stroke-width="1.8" />
<line x1="650.07" y1="849.41" x2="657.58" y2="849.41" stroke="#d27aad" stroke-width="1.8" />
<line x1="653.83" y1="848.65" x2="653.83" y2="850.16" stroke="#d27aad" stroke-width="1.8" />
<line x1="771.60" y1="838.64" x2="787.96" y2="838.64" stroke="#d27aad" stroke-width="1.8" />
<line x1="680.84" y1="846.88" x2="692.19" y2="846.88" stroke="#d27aad" stroke-width="1.8" />
<line x1="686.51" y1="845.45" x2="686.51" y2="848.31" stroke="#d27aad" stroke-width="1.8" />
<line x1="844.97" y1="835.61" x2="861.45" y2="835.61" stroke="#d27aad" stroke-width="1.8" />
<line x1="645.47" y1="849.69" x2="657.15" y2="849.69" stroke="#d27aad" stroke-width="1.8" />
<line x1="651.31" y1="848.81" x2="651.31" y2="850.57" stroke="#d27aad" stroke-width="1.8" />
<line x1="644.46" y1="851.04" x2="655.15" y2="851.04" stroke="#d27aad" stroke-width="1.8" />
<line x1="649.80" y1="849.65" x2="649.80" y2="852.43" stroke="#d27aad" stroke-width="1.8" />
<line x1="840.47" y1="835.53" x2="849.45" y2="835.53" stroke="#d27aad" stroke-width="1.8" />
<line x1="659.45" y1="849.85" x2="671.72" y2="849.85" stroke="#d27aad" stroke-width="1.8" />
<line x1="665.58" y1="848.83" x2="665.58" y2="850.87" stroke="#d27aad" stroke-width="1.8" />
<line x1="879.88" y1="834.91" x2="895.06" y2="834.91" stroke="#d27aad" stroke-width="1.8" />
<line x1="887.47" y1="834.22" x2="887.47" y2="835.59" stroke="#d27aad" stroke-width="1.8" />
<line x1="753.12" y1="843.39" x2="759.59" y2="843.39" stroke="#d27aad" stroke-width="1.8" />
<line x1="756.36" y1="842.21" x2="756.36" y2="844.56" stroke="#d27aad" stroke-width="1.8" />
<line x1="674.16" y1="846.35" x2="683.81" y2="846.35" stroke="#d27aad" stroke-width="1.8" />
<line x1="675.86" y1="847.68" x2="689.49" y2="847.68" stroke="#d27aad" stroke-width="1.8" />
<line x1="682.67" y1="846.63" x2="682.67" y2="848.73" stroke="#d27aad" stroke-width="1.8" />
<line x1="653.08" y1="847.71" x2="666.07" y2="847.71" stroke="#d27aad" stroke-width="1.8" />
<line x1="659.57" y1="847.13" x2="659.57" y2="848.30" stroke="#d27aad" stroke-width="1.8" />
<line x1="670.70" y1="847.04" x2="683.91" y2="847.04" stroke="#d27aad" stroke-width="1.8" />
<line x1="686.01" y1="848.42" x2="699.75" y2="848.42" stroke="#d27aad" stroke-width="1.8" />
<line x1="692.88" y1="847.09" x2="692.88" y2="849.75" stroke="#d27aad" stroke-width="1.8" />
<line x1="730.65" y1="843.19" x2="739.46" y2="843.19" stroke="#d27aad" stroke-width="1.8" />
<line x1="891.62" y1="834.55" x2="897.88" y2="834.55" stroke="#d27aad" stroke-width="1.8" />
<line x1="894.75" y1="833.81" x2="894.75" y2="835.30" stroke="#d27aad" stroke-width="1.8" />
<line x1="788.39" y1="840.43" x2="799.43" y2="840.43" stroke="#d27aad" stroke-width="1.8" />
<line x1="788.43" y1="839.42" x2="794.84" y2="839.42" stroke="#d27aad" stroke-width="1.8" />
<line x1="791.64" y1="838.91" x2="791.64" y2="839.92" stroke="#d27aad" stroke-width="1.8" />
<line x1="713.66" y1="844.88" x2="727.85" y2="844.88" stroke="#d27aad" stroke-width="1.8" />
<line x1="830.70" y1="837.45" x2="839.17" y2="837.45" stroke="#d27aad" stroke-width="1.8" />
<line x1="834.94" y1="835.99" x2="834.94" y2="838.90" stroke="#d27aad" stroke-width="1.8" />
<line x1="687.16" y1="847.27" x2="703.00" y2="847.27" stroke="#d27aad" stroke-width="1.8" />
<line x1="668.20" y1="847.43" x2="685.63" y2="847.43" stroke="#d27aad" stroke-width="1.8" />
<line x1="676.91" y1="846.69" x2="676.91" y2="848.18" stroke="#d27aad" stroke-width="1.8" />
<line x1="666.55" y1="848.50" x2="675.23" y2="848.50" stroke="#d27aad" stroke-width="1.8" />
<line x1="670.89" y1="847.87" x2="670.89" y2="849.13" stroke="#d27aad" stroke-width="1.8" />
<line x1="785.62" y1="839.54" x2="796.34" y2="839.54" stroke="#d27aad" stroke-width="1.8" />
<line x1="896.08" y1="834.27" x2="903.78" y2="834.27" stroke="#d27aad" stroke-width="1.8" />
<line x1="645.34" y1="850.39" x2="661.94" y2="850.39" stroke="#d27aad" stroke-width="1.8" />
<line x1="653.64" y1="849.30" x2="653.64" y2="851.49" stroke="#d27aad" stroke-width="1.8" />
<line x1="900.41" y1="832.66" x2="917.59" y2="832.66" stroke="#d27aad" stroke-width="1.8" />
<line x1="667.40" y1="846.64" x2="673.78" y2="846.64" stroke="#d27aad" stroke-width="1.8" />
<line x1="670.59" y1="845.65" x2="670.59" y2="847.64" stroke="#d27aad" stroke-width="1.8" />
<line x1="705.17" y1="845.83" x2="715.66" y2="845.83" stroke="#d27aad" stroke-width="1.8" />
<line x1="662.81" y1="847.38" x2="673.03" y2="847.38" stroke="#d27aad" stroke-width="1.8" />
<line x1="667.92" y1="845.94" x2="667.92" y2="848.81" stroke="#d27aad" stroke-width="1.8" />
<line x1="652.34" y1="848.47" x2="669.91" y2="848.47" stroke="#d27aad" stroke-width="1.8" />
<line x1="699.62" y1="845.01" x2="710.81" y2="845.01" stroke="#d27aad" stroke-width="1.8" />
<line x1="729.32" y1="845.05" x2="739.80" y2="845.05" stroke="#d27aad" stroke-width="1.8" />
<line x1="734.56" y1="843.67" x2="734.56" y2="846.43" stroke="#d27aad" stroke-width="1.8" />
<line x1="668.69" y1="848.89" x2="675.05" y2="848.89" stroke="#d27aad" stroke-width="1.8" />
<line x1="671.87" y1="848.28" x2="671.87" y2="849.51" stroke="#d27aad" stroke-width="1.8" />
<line x1="832.50" y1="835.83" x2="847.70" y2="835.83" stroke="#d27aad" stroke-width="1.8" />
<line x1="646.95" y1="847.60" x2="656.04" y2="847.60" stroke="#d27aad" stroke-width="1.8" />
<line x1="651.50" y1="846.48" x2="651.50" y2="848.72" stroke="#d27aad" stroke-width="1.8" />
<line x1="866.36" y1="834.80" x2="876.43" y2="834.80" stroke="#d27aad" stroke-width="1.8" />
<line x1="886.33" y1="834.87" x2="900.93" y2="834.87" stroke="#d27aad" stroke-width="1.8" />
<line x1="684.43" y1="847.25" x2="690.47" y2="847.25" stroke="#d27aad" stroke-width="1.8" />
<line x1="687.45" y1="846.11" x2="687.45" y2="848.38" stroke="#d27aad" stroke-width="1.8" />
<line x1="874.91" y1="836.42" x2="881.20" y2="836.42" stroke="#d27aad" stroke-width="1.8" />
<line x1="726.28" y1="845.11" x2="743.76" y2="845.11" stroke="#d27aad" stroke-width="1.8" />
<line x1="735.02" y1="843.68" x2="735.02" y2="846.54" stroke="#d27aad" stroke-width="1.8" />
<line x1="706.36" y1="845.19" x2="718.28" y2="845.19" stroke="#d27aad" stroke-width="1.8" />
<line x1="712.32" y1="843.80" x2="712.32" y2="846.58" stroke="#d27aad" stroke-width="1.8" />
<line x1="662.34" y1="847.04" x2="677.98" y2="847.04" stroke="#d27aad" stroke-width="1.8" />
<line x1="670.16" y1="845.93" x2="670.16" y2="848.15" stroke="#d27aad" stroke-width="1.8" />
<line x1="838.99" y1="836.74" x2="848.92" y2="836.74" stroke="#d27aad" stroke-width="1.8" />
<line x1="698.74" y1="846.65" x2="714.13" y2="846.65" stroke="#d27aad" stroke-width="1.8" />
<line x1="669.22" y1="847.72" x2="675.99" y2="847.72" stroke="#d27aad" stroke-width="1.8" />
<line x1="751.72" y1="842.84" x2="761.63" y2="842.84" stroke="#d27aad" stroke-width="1.8" />
<line x1="756.67" y1="841.37" x2="756.67" y2="844.31" stroke="#d27aad" stroke-width="1.8" />
<line x1="862.34" y1="835.14" x2="869.35" y2="835.14" stroke="#d27aad" stroke-width="1.8" />
<line x1="734.11" y1="843.31" x2="748.62" y2="843.31" stroke="#d27aad" stroke-width="1.8" />
<line x1="741.36" y1="842.64" x2="741.36" y2="843.98" stroke="#d27aad" stroke-width="1.8" />
<line x1="672.24" y1="848.29" x2="686.33" y2="848.29" stroke="#d27aad" stroke-width="1.8" />
<line x1="679.29" y1="847.17" x2="679.29" y2="849.42" stroke="#d27aad" stroke-width="1.8" />
<line x1="845.61" y1="835.89" x2="859.58" y2="835.89" stroke="#d27aad" stroke-width="1.8" />
<line x1="845.17" y1="836.83" x2="855.64" y2="836.83" stroke="#d27aad" stroke-width="1.8" />
<line x1="850.41" y1="835.73" x2="850.41" y2="837.94" stroke="#d27aad" stroke-width="1.8" />
<line x1="668.45" y1="846.72" x2="677.42" y2="846.72" stroke="#d27aad" stroke-width="1.8" />
<line x1="660.46" y1="847.40" x2="670.38" y2="847.40" stroke="#d27aad" stroke-width="1.8" />
<line x1="665.42" y1="846.81" x2="665.42" y2="848.00" stroke="#d27aad" stroke-width="1.8" />
<line x1="900.98" y1="834.50" x2="913.07" y2="834.50" stroke="#d27aad" stroke-width="1.8" />
<line x1="835.30" y1="838.56" x2="842.53" y2="838.56" stroke="#d27aad" stroke-width="1.8" />
<line x1="838.91" y1="837.85" x2="838.91" y2="839.27" stroke="#d27aad" stroke-width="1.8" />
<line x1="834.62" y1="838.97" x2="850.71" y2="838.97" stroke="#d27aad" stroke-width="1.8" />
<line x1="842.67" y1="837.60" x2="842.67" y2="840.34" stroke="#d27aad" stroke-width="1.8" />
<line x1="647.78" y1="849.32" x2="656.05" y2="849.32" stroke="#d27aad" stroke-width="1.8" />
<line x1="651.91" y1="847.86" x2="651.91" y2="850.78" stroke="#d27aad" stroke-width="1.8" />
<line x1="757.09" y1="841.25" x2="774.25" y2="841.25" stroke="#d27aad" stroke-width="1.8" />
<line x1="765.67" y1="840.69" x2="765.67" y2="841.80" stroke="#d27aad" stroke-width="1.8" />
<line x1="851.84" y1="836.67" x2="867.18" y2="836.67" stroke="#d27aad" stroke-width="1.8" />
<line x1="859.51" y1="835.25" x2="859.51" y2="838.09" stroke="#d27aad" stroke-width="1.8" />
<line x1="652.18" y1="848.46" x2="665.33" y2="848.46" stroke="#d27aad" stroke-width="1.8" />
<line x1="658.75" y1="847.53" x2="658.75" y2="849.39" stroke="#d27aad" stroke-width="1.8" />
<line x1="672.00" y1="847.81" x2="680.44" y2="847.81" stroke="#d27aad" stroke-width="1.8" />
<line x1="763.63" y1="840.98" x2="777.45" y2="840.98" stroke="#d27aad" stroke-width="1.8" />
<line x1="646.01" y1="849.93" x2="654.23" y2="849.93" stroke="#d27aad" stroke-width="1.8" />
<line x1="665.90" y1="846.61" x2="681.44" y2="846.61" stroke="#d27aad" stroke-width="1.8" />
<line x1="673.67" y1="845.79" x2="673.67" y2="847.43" stroke="#d27aad" stroke-width="1.8" />
<line x1="647.64" y1="848.40" x2="660.25" y2="848.40" stroke="#d27aad" stroke-width="1.8" />
<line x1="653.94" y1="847.44" x2="653.94" y2="849.36" stroke="#d27aad" stroke-width="1.8" />
<line x1="652.98" y1="848.32" x2="660.95" y2="848.32" stroke="#d27aad" stroke-width="1.8" />
<line x1="656.96" y1="847.27" x2="656.96" y2="849.36" stroke="#d27aad" stroke-width="1.8" />
<line x1="709.33" y1="844.95" x2="726.77" y2="844.95" stroke="#d27aad" stroke-width="1.8" />
<line x1="755.59" y1="841.30" x2="765.88" y2="841.30" stroke="#d27aad" stroke-width="1.8" />
<line x1="760.74" y1="840.67" x2="760.74" y2="841.92" stroke="#d27aad" stroke-width="1.8" />
<line x1="854.65" y1="835.36" x2="863.01" y2="835.36" stroke="#d27aad" stroke-width="1.8" />
<line x1="858.83" y1="834.27" x2="858.83" y2="836.45" stroke="#d27aad" stroke-width="1.8" />
<line x1="670.68" y1="847.68" x2="676.75" y2="847.68" stroke="#d27aad" stroke-width="1.8" />
<line x1="673.72" y1="846.33" x2="673.72" y2="849.03" stroke="#d27aad" stroke-width="1.8" />
<line x1="713.27" y1="844.23" x2="729.87" y2="844.23" stroke="#d27aad" stroke-width="1.8" />
<line x1="721.57" y1="843.53" x2="721.57" y2="844.92" stroke="#d27aad" stroke-width="1.8" />
<line x1="663.76" y1="848.82" x2="669.94" y2="848.82" stroke="#d27aad" stroke-width="1.8" />
<line x1="666.85" y1="848.00" x2="666.85" y2="849.65" stroke="#d27aad" stroke-width="1.8" />
<line x1="776.48" y1="840.18" x2="789.95" y2="840.18" stroke="#d27aad" stroke-width="1.8" />
<line x1="783.21" y1="839.62" x2="783.21" y2="840.73" stroke="#d27aad" stroke-width="1.8" />
<line x1="739.14" y1="843.34" x2="746.89" y2="843.34" stroke="#d27aad" stroke-width="1.8" />
<line x1="741.74" y1="842.50" x2="753.63" y2="842.50" stroke="#d27aad" stroke-width="1.8" />
<line x1="747.68" y1="841.29" x2="747.68" y2="843.71" stroke="#d27aad" stroke-width="1.8" />
<line x1="892.96" y1="834.42" x2="901.33" y2="834.42" stroke="#d27aad" stroke-width="1.8" />
<line x1="884.75" y1="833.77" x2="891.39" y2="833.77" stroke="#d27aad" stroke-width="1.8" />
<line x1="888.07" y1="832.38" x2="888.07" y2="835.16" stroke="#d27aad" stroke-width="1.8" />
<line x1="704.23" y1="845.30" x2="721.08" y2="845.30" stroke="#d27aad" stroke-width="1.8" />
<line x1="712.65" y1="844.37" x2="712.65" y2="846.23" stroke="#d27aad" stroke-width="1.8" />
<line x1="840.26" y1="836.12" x2="848.93" y2="836.12" stroke="#d27aad" stroke-width="1.8" />
<line x1="844.60" y1="835.51" x2="844.60" y2="836.72" stroke="#d27aad" stroke-width="1.8" />
<line x1="844.39" y1="835.27" x2="860.35" y2="835.27" stroke="#d27aad" stroke-width="1.8" />
<line x1="671.01" y1="848.29" x2="681.61" y2="848.29" stroke="#d27aad" stroke-width="1.8" />
<line x1="674.40" y1="846.62" x2="689.10" y2="846.62" stroke="#d27aad" stroke-width="1.8" />
<line x1="681.75" y1="845.28" x2="681.75" y2="847.97" stroke="#d27aad" stroke-width="1.8" />
<circle cx="789.08" cy="838.90" r="4.8" fill="#d27aad" stroke="none" stroke-width="1" />
<circle cx="685.41" cy="846.44" r="4.8" fill="#d27aad" stroke="none" stroke-width="1" />
<circle cx="815.36" cy="837.56" r="4.8" fill="#d27aad" stroke="none" stroke-width="1" />
<circle cx="796.88" cy="839.73" r="4.8" fill="#d27aad" stroke="none" stroke-width="1" />
<circle cx="783.87" cy="840.03" r="4.8" fill="#d27aad" stroke="none" stroke-width="1" />
<circle cx="693.50" cy="846.22" r="4.8" fill="#d27aad" stroke="none" stroke-width="1" />
<circle cx="653.69" cy="849.20" r="4.8" fill="#d27aad" stroke="none" stroke-width="1" />
<circle cx="690.61" cy="845.44" r="4.8" fill="#d27aad" stroke="none" stroke-width="1" />
<circle cx="732.65" cy="842.61" r="4.8" fill="#d27aad" stroke="none" stroke-width="1" />
<circle cx="885.49" cy="833.66" r="4.8" fill="#d27aad" stroke="none" stroke-width="1" />
<circle cx="842.95" cy="836.10" r="4.8" fill="#d27aad" stroke="none" stroke-width="1" />
<circle cx="889.02" cy="834.80" r="4.8" fill="#d27aad" stroke="none" stroke-width="1" />
<circle cx="663.69" cy="850.24" r="4.8" fill="#d27aad" stroke="none" stroke-width="1" />
<circle cx="744.21" cy="843.37" r="4.8" fill="#d27aad" stroke="none" stroke-width="1" />
<circle cx="678.76" cy="846.63" r="4.8" fill="#d27aad" stroke="none" stroke-width="1" />
<circle cx="739.50" cy="843.94" r="4.8" fill="#d27aad" stroke="none" stroke-width="1" />
<circle cx="663.54" cy="848.69" r="4.8" fill="#d27aad" stroke="none" stroke-width="1" />
<circle cx="819.03" cy="837.70" r="4.8" fill="#d27aad" stroke="none" stroke-width="1" />
<circle cx="881.78" cy="835.37" r="4.8" fill="#d27aad" stroke="none" stroke-width="1" />
<circle cx="713.88" cy="846.75" r="4.8" fill="#d27aad" stroke="none" stroke-width="1" />
<circle cx="706.16" cy="846.17" r="4.8" fill="#d27aad" stroke="none" stroke-width="1" />
<circle cx="848.19" cy="836.39" r="4.8" fill="#d27aad" stroke="none" stroke-width="1" />
<circle cx="682.19" cy="847.25" r="4.8" fill="#d27aad" stroke="none" stroke-width="1" />
<circle cx="893.05" cy="833.50" r="4.8" fill="#d27aad" stroke="none" stroke-width="1" />
<circle cx="780.17" cy="839.05" r="4.8" fill="#d27aad" stroke="none" stroke-width="1" />
<circle cx="652.67" cy="850.13" r="4.8" fill="#d27aad" stroke="none" stroke-width="1" />
<circle cx="819.69" cy="838.64" r="4.8" fill="#d27aad" stroke="none" stroke-width="1" />
<circle cx="661.62" cy="848.96" r="4.8" fill="#d27aad" stroke="none" stroke-width="1" />
<circle cx="692.08" cy="846.68" r="4.8" fill="#d27aad" stroke="none" stroke-width="1" />
<circle cx="692.73" cy="848.65" r="4.8" fill="#d27aad" stroke="none" stroke-width="1" />
<circle cx="667.61" cy="847.76" r="4.8" fill="#d27aad" stroke="none" stroke-width="1" />
<circle cx="676.65" cy="847.03" r="4.8" fill="#d27aad" stroke="none" stroke-width="1" />
<circle cx="728.33" cy="843.80" r="4.8" fill="#d27aad" stroke="none" stroke-width="1" />
<circle cx="656.96" cy="848.39" r="4.8" fill="#d27aad" stroke="none" stroke-width="1" />
<circle cx="761.65" cy="840.90" r="4.8" fill="#d27aad" stroke="none" stroke-width="1" />
<circle cx="748.53" cy="843.65" r="4.8" fill="#d27aad" stroke="none" stroke-width="1" />
<circle cx="653.83" cy="849.41" r="4.8" fill="#d27aad" stroke="none" stroke-width="1" />
<circle cx="779.78" cy="838.64" r="4.8" fill="#d27aad" stroke="none" stroke-width="1" />
<circle cx="686.51" cy="846.88" r="4.8" fill="#d27aad" stroke="none" stroke-width="1" />
<circle cx="853.21" cy="835.61" r="4.8" fill="#d27aad" stroke="none" stroke-width="1" />
<circle cx="651.31" cy="849.69" r="4.8" fill="#d27aad" stroke="none" stroke-width="1" />
<circle cx="649.80" cy="851.04" r="4.8" fill="#d27aad" stroke="none" stroke-width="1" />
<circle cx="844.96" cy="835.53" r="4.8" fill="#d27aad" stroke="none" stroke-width="1" />
<circle cx="665.58" cy="849.85" r="4.8" fill="#d27aad" stroke="none" stroke-width="1" />
<circle cx="887.47" cy="834.91" r="4.8" fill="#d27aad" stroke="none" stroke-width="1" />
<circle cx="756.36" cy="843.39" r="4.8" fill="#d27aad" stroke="none" stroke-width="1" />
<circle cx="678.98" cy="846.35" r="4.8" fill="#d27aad" stroke="none" stroke-width="1" />
<circle cx="682.67" cy="847.68" r="4.8" fill="#d27aad" stroke="none" stroke-width="1" />
<circle cx="659.57" cy="847.71" r="4.8" fill="#d27aad" stroke="none" stroke-width="1" />
<circle cx="677.31" cy="847.04" r="4.8" fill="#d27aad" stroke="none" stroke-width="1" />
<circle cx="692.88" cy="848.42" r="4.8" fill="#d27aad" stroke="none" stroke-width="1" />
<circle cx="735.05" cy="843.19" r="4.8" fill="#d27aad" stroke="none" stroke-width="1" />
<circle cx="894.75" cy="834.55" r="4.8" fill="#d27aad" stroke="none" stroke-width="1" />
<circle cx="793.91" cy="840.43" r="4.8" fill="#d27aad" stroke="none" stroke-width="1" />
<circle cx="791.64" cy="839.42" r="4.8" fill="#d27aad" stroke="none" stroke-width="1" />
<circle cx="720.76" cy="844.88" r="4.8" fill="#d27aad" stroke="none" stroke-width="1" />
<circle cx="834.94" cy="837.45" r="4.8" fill="#d27aad" stroke="none" stroke-width="1" />
<circle cx="695.08" cy="847.27" r="4.8" fill="#d27aad" stroke="none" stroke-width="1" />
<circle cx="676.91" cy="847.43" r="4.8" fill="#d27aad" stroke="none" stroke-width="1" />
<circle cx="670.89" cy="848.50" r="4.8" fill="#d27aad" stroke="none" stroke-width="1" />
<circle cx="790.98" cy="839.54" r="4.8" fill="#d27aad" stroke="none" stroke-width="1" />
<circle cx="899.93" cy="834.27" r="4.8" fill="#d27aad" stroke="none" stroke-width="1" />
<circle cx="653.64" cy="850.39" r="4.8" fill="#d27aad" stroke="none" stroke-width="1" />
<circle cx="909.00" cy="832.66" r="4.8" fill="#d27aad" stroke="none" stroke-width="1" />
<circle cx="670.59" cy="846.64" r="4.8" fill="#d27aad" stroke="none" stroke-width="1" />
<circle cx="710.41" cy="845.83" r="4.8" fill="#d27aad" stroke="none" stroke-width="1" />
<circle cx="667.92" cy="847.38" r="4.8" fill="#d27aad" stroke="none" stroke-width="1" />
<circle cx="661.12" cy="848.47" r="4.8" fill="#d27aad" stroke="none" stroke-width="1" />
<circle cx="705.21" cy="845.01" r="4.8" fill="#d27aad" stroke="none" stroke-width="1" />
<circle cx="734.56" cy="845.05" r="4.8" fill="#d27aad" stroke="none" stroke-width="1" />
<circle cx="671.87" cy="848.89" r="4.8" fill="#d27aad" stroke="none" stroke-width="1" />
<circle cx="840.10" cy="835.83" r="4.8" fill="#d27aad" stroke="none" stroke-width="1" />
<circle cx="651.50" cy="847.60" r="4.8" fill="#d27aad" stroke="none" stroke-width="1" />
<circle cx="871.40" cy="834.80" r="4.8" fill="#d27aad" stroke="none" stroke-width="1" />
<circle cx="893.63" cy="834.87" r="4.8" fill="#d27aad" stroke="none" stroke-width="1" />
<circle cx="687.45" cy="847.25" r="4.8" fill="#d27aad" stroke="none" stroke-width="1" />
<circle cx="878.05" cy="836.42" r="4.8" fill="#d27aad" stroke="none" stroke-width="1" />
<circle cx="735.02" cy="845.11" r="4.8" fill="#d27aad" stroke="none" stroke-width="1" />
<circle cx="712.32" cy="845.19" r="4.8" fill="#d27aad" stroke="none" stroke-width="1" />
<circle cx="670.16" cy="847.04" r="4.8" fill="#d27aad" stroke="none" stroke-width="1" />
<circle cx="843.96" cy="836.74" r="4.8" fill="#d27aad" stroke="none" stroke-width="1" />
<circle cx="706.43" cy="846.65" r="4.8" fill="#d27aad" stroke="none" stroke-width="1" />
<circle cx="672.61" cy="847.72" r="4.8" fill="#d27aad" stroke="none" stroke-width="1" />
<circle cx="756.67" cy="842.84" r="4.8" fill="#d27aad" stroke="none" stroke-width="1" />
<circle cx="865.84" cy="835.14" r="4.8" fill="#d27aad" stroke="none" stroke-width="1" />
<circle cx="741.36" cy="843.31" r="4.8" fill="#d27aad" stroke="none" stroke-width="1" />
<circle cx="679.29" cy="848.29" r="4.8" fill="#d27aad" stroke="none" stroke-width="1" />
<circle cx="852.60" cy="835.89" r="4.8" fill="#d27aad" stroke="none" stroke-width="1" />
<circle cx="850.41" cy="836.83" r="4.8" fill="#d27aad" stroke="none" stroke-width="1" />
<circle cx="672.93" cy="846.72" r="4.8" fill="#d27aad" stroke="none" stroke-width="1" />
<circle cx="665.42" cy="847.40" r="4.8" fill="#d27aad" stroke="none" stroke-width="1" />
<circle cx="907.02" cy="834.50" r="4.8" fill="#d27aad" stroke="none" stroke-width="1" />
<circle cx="838.91" cy="838.56" r="4.8" fill="#d27aad" stroke="none" stroke-width="1" />
<circle cx="842.67" cy="838.97" r="4.8" fill="#d27aad" stroke="none" stroke-width="1" />
<circle cx="651.91" cy="849.32" r="4.8" fill="#d27aad" stroke="none" stroke-width="1" />
<circle cx="765.67" cy="841.25" r="4.8" fill="#d27aad" stroke="none" stroke-width="1" />
<circle cx="859.51" cy="836.67" r="4.8" fill="#d27aad" stroke="none" stroke-width="1" />
<circle cx="658.75" cy="848.46" r="4.8" fill="#d27aad" stroke="none" stroke-width="1" />
<circle cx="676.22" cy="847.81" r="4.8" fill="#d27aad" stroke="none" stroke-width="1" />
<circle cx="770.54" cy="840.98" r="4.8" fill="#d27aad" stroke="none" stroke-width="1" />
<circle cx="650.12" cy="849.93" r="4.8" fill="#d27aad" stroke="none" stroke-width="1" />
<circle cx="673.67" cy="846.61" r="4.8" fill="#d27aad" stroke="none" stroke-width="1" />
<circle cx="653.94" cy="848.40" r="4.8" fill="#d27aad" stroke="none" stroke-width="1" />
<circle cx="656.96" cy="848.32" r="4.8" fill="#d27aad" stroke="none" stroke-width="1" />
<circle cx="718.05" cy="844.95" r="4.8" fill="#d27aad" stroke="none" stroke-width="1" />
<circle cx="760.74" cy="841.30" r="4.8" fill="#d27aad" stroke="none" stroke-width="1" />
<circle cx="858.83" cy="835.36" r="4.8" fill="#d27aad" stroke="none" stroke-width="1" />
<circle cx="673.72" cy="847.68" r="4.8" fill="#d27aad" stroke="none" stroke-width="1" />
<circle cx="721.57" cy="844.23" r="4.8" fill="#d27aad" stroke="none" stroke-width="1" />
<circle cx="666.85" cy="848.82" r="4.8" fill="#d27aad" stroke="none" stroke-width="1" />
<circle cx="783.21" cy="840.18" r="4.8" fill="#d27aad" stroke="none" stroke-width="1" />
<circle cx="743.02" cy="843.34" r="4.8" fill="#d27aad" stroke="none" stroke-width="1" />
<circle cx="747.68" cy="842.50" r="4.8" fill="#d27aad" stroke="none" stroke-width="1" />
<circle cx="897.15" cy="834.42" r="4.8" fill="#d27aad" stroke="none" stroke-width="1" />
<circle cx="888.07" cy="833.77" r="4.8" fill="#d27aad" stroke="none" stroke-width="1" />
<circle cx="712.65" cy="845.30" r="4.8" fill="#d27aad" stroke="none" stroke-width="1" />
<circle cx="844.60" cy="836.12" r="4.8" fill="#d27aad" stroke="none" stroke-width="1" />
<circle cx="852.37" cy="835.27" r="4.8" fill="#d27aad" stroke="none" stroke-width="1" />
<circle cx="676.31" cy="848.29" r="4.8" fill="#d27aad" stroke="none" stroke-width="1" />
<circle cx="681.75" cy="846.62" r="4.8" fill="#d27aad" stroke="none" stroke-width="1" />
<path d="M589.10,858.16 L591.27,858.13 L593.44,858.10 L595.60,858.07 L597.77,858.04 L599.94,858.00 L602.11,857.97 L604.28,857.93 L606.44,857.89 L608.61,857.85 L610.78,857.80 L612.95,857.76 L615.12,857.71 L617.28,857.66 L619.45,857.62 L621.62,857.56 L623.79,857.51 L625.96,857.46 L628.12,857.41 L630.29,857.35 L632.46,857.29 L634.63,857.24 L636.80,857.18 L638.96,857.12 L641.13,857.06 L643.30,857.00 L645.47,856.93 L647.64,856.87 L649.80,856.81 L651.97,856.74 L654.14,856.68 L656.31,856.61 L658.48,856.54 L660.64,856.46 L662.81,856.38 L664.98,856.29 L667.15,856.21 L669.32,856.11 L671.48,856.02 L673.65,855.93 L675.82,855.84 L677.99,855.75 L680.16,855.66 L682.32,855.57 L684.49,855.48 L686.66,855.40 L688.83,855.33 L691.00,855.25 L693.16,855.17 L695.33,855.10 L697.50,855.02 L699.67,854.95 L701.84,854.87 L704.00,854.80 L706.17,854.72 L708.34,854.65 L710.51,854.58 L712.68,854.52 L714.84,854.45 L717.01,854.39 L719.18,854.33 L721.35,854.27 L723.52,854.21 L725.68,854.16 L727.85,854.11 L730.02,854.06 L732.19,854.02 L734.36,853.97 L736.52,853.93 L738.69,853.88 L740.86,853.84 L743.03,853.80 L745.20,853.75 L747.36,853.71 L749.53,853.67 L751.70,853.64 L753.87,853.60 L756.04,853.56 L758.20,853.52 L760.37,853.49 L762.54,853.45 L764.71,853.42 L766.88,853.38 L769.04,853.35 L771.21,853.31 L773.38,853.28 L775.55,853.25 L777.72,853.21 L779.88,853.18 L782.05,853.15 L784.22,853.12 L786.39,853.09 L788.56,853.06 L790.72,853.03 L792.89,853.00 L795.06,852.97 L797.23,852.94 L799.40,852.91 L801.56,852.88 L803.73,852.85 L805.90,852.82 L808.07,852.79 L810.24,852.76 L812.40,852.73 L814.57,852.70 L816.74,852.66 L818.91,852.63 L821.08,852.61 L823.24,852.58 L825.41,852.55 L827.58,852.52 L829.75,852.49 L831.92,852.46 L834.08,852.44 L836.25,852.41 L838.42,852.38 L840.59,852.36 L842.76,852.33 L844.92,852.31 L847.09,852.28 L849.26,852.26 L851.43,852.23 L853.60,852.21 L855.76,852.18 L857.93,852.16 L860.10,852.13 L862.27,852.11 L864.44,852.08 L866.60,852.06 L868.77,852.03 L870.94,852.01 L873.11,851.98 L875.28,851.95 L877.44,851.93 L879.61,851.90 L881.78,851.88 L883.95,851.85 L886.12,851.82 L888.28,851.80 L890.45,851.77 L892.62,851.74 L894.79,851.71 L896.96,851.69 L899.12,851.66 L901.29,851.63 L903.46,851.60 L905.63,851.57 L907.80,851.54 L909.96,851.50 L912.13,851.47 L914.30,851.44 L916.47,851.41 L918.64,851.38 L920.80,851.34 L922.97,851.31 L925.14,851.28 L927.31,851.25 L929.48,851.21 L931.64,851.18 L933.81,851.14 L935.98,851.11 L938.15,851.08 L940.32,851.04 L942.48,851.01 L944.65,850.97 L946.82,850.94 L948.99,850.90 L951.16,850.87 L953.32,850.83 L955.49,850.79 L957.66,850.76 L959.83,850.72 L962.00,850.68 L964.16,850.65 L966.33,850.61 L968.50,850.57 L970.67,850.53 L972.84,850.49 L975.00,850.46 L977.17,850.42 L979.34,850.38 L981.51,850.34 L983.68,850.30 L985.84,850.26 L988.01,850.22 L990.18,850.18 L992.35,850.14 L994.52,850.10 L996.68,850.06 L998.85,850.02 L1001.02,849.98 L1003.19,849.94 L1005.36,849.89 L1007.52,849.85 L1009.69,849.81 L1011.86,849.77 L1014.03,849.73 L1016.20,849.68 L1018.36,849.64 L1020.53,849.59 L1022.70,849.55 L1024.87,849.51 L1024.87,850.30 L1022.70,850.35 L1020.53,850.39 L1018.36,850.43 L1016.20,850.48 L1014.03,850.52 L1011.86,850.57 L1009.69,850.61 L1007.52,850.66 L1005.36,850.70 L1003.19,850.75 L1001.02,850.79 L998.85,850.83 L996.68,850.88 L994.52,850.92 L992.35,850.97 L990.18,851.01 L988.01,851.05 L985.84,851.10 L983.68,851.14 L981.51,851.18 L979.34,851.23 L977.17,851.27 L975.00,851.31 L972.84,851.36 L970.67,851.40 L968.50,851.44 L966.33,851.48 L964.16,851.53 L962.00,851.57 L959.83,851.61 L957.66,851.65 L955.49,851.69 L953.32,851.74 L951.16,851.78 L948.99,851.82 L946.82,851.86 L944.65,851.90 L942.48,851.94 L940.32,851.98 L938.15,852.03 L935.98,852.07 L933.81,852.11 L931.64,852.15 L929.48,852.19 L927.31,852.23 L925.14,852.27 L922.97,852.31 L920.80,852.35 L918.64,852.39 L916.47,852.43 L914.30,852.47 L912.13,852.51 L909.96,852.54 L907.80,852.58 L905.63,852.62 L903.46,852.66 L901.29,852.70 L899.12,852.74 L896.96,852.77 L894.79,852.81 L892.62,852.85 L890.45,852.88 L888.28,852.92 L886.12,852.95 L883.95,852.99 L881.78,853.02 L879.61,853.06 L877.44,853.09 L875.28,853.13 L873.11,853.16 L870.94,853.20 L868.77,853.23 L866.60,853.26 L864.44,853.30 L862.27,853.33 L860.10,853.37 L857.93,853.40 L855.76,853.44 L853.60,853.47 L851.43,853.50 L849.26,853.54 L847.09,853.57 L844.92,853.61 L842.76,853.65 L840.59,853.68 L838.42,853.72 L836.25,853.75 L834.08,853.79 L831.92,853.83 L829.75,853.87 L827.58,853.90 L825.41,853.94 L823.24,853.98 L821.08,854.02 L818.91,854.06 L816.74,854.10 L814.57,854.14 L812.40,854.19 L810.24,854.23 L808.07,854.27 L805.90,854.31 L803.73,854.35 L801.56,854.39 L799.40,854.43 L797.23,854.47 L795.06,854.52 L792.89,854.56 L790.72,854.60 L788.56,854.64 L786.39,854.69 L784.22,854.73 L782.05,854.77 L779.88,854.82 L777.72,854.86 L775.55,854.90 L773.38,854.95 L771.21,854.99 L769.04,855.04 L766.88,855.09 L764.71,855.13 L762.54,855.18 L760.37,855.23 L758.20,855.28 L756.04,855.33 L753.87,855.38 L751.70,855.43 L749.53,855.48 L747.36,855.53 L745.20,855.59 L743.03,855.64 L740.86,855.70 L738.69,855.75 L736.52,855.81 L734.36,855.87 L732.19,855.93 L730.02,855.99 L727.85,856.05 L725.68,856.11 L723.52,856.18 L721.35,856.25 L719.18,856.32 L717.01,856.39 L714.84,856.47 L712.68,856.55 L710.51,856.63 L708.34,856.71 L706.17,856.80 L704.00,856.89 L701.84,856.97 L699.67,857.06 L697.50,857.15 L695.33,857.24 L693.16,857.33 L691.00,857.43 L688.83,857.52 L686.66,857.61 L684.49,857.70 L682.32,857.80 L680.16,857.91 L677.99,858.01 L675.82,858.12 L673.65,858.22 L671.48,858.33 L669.32,858.44 L667.15,858.54 L664.98,858.65 L662.81,858.75 L660.64,858.84 L658.48,858.94 L656.31,859.03 L654.14,859.11 L651.97,859.19 L649.80,859.27 L647.64,859.35 L645.47,859.43 L643.30,859.50 L641.13,859.58 L638.96,859.66 L636.80,859.73 L634.63,859.81 L632.46,859.88 L630.29,859.95 L628.12,860.02 L625.96,860.09 L623.79,860.16 L621.62,860.23 L619.45,860.30 L617.28,860.36 L615.12,860.43 L612.95,860.49 L610.78,860.55 L608.61,860.61 L606.44,860.67 L604.28,860.73 L602.11,860.78 L599.94,860.83 L597.77,860.89 L595.60,860.93 L593.44,860.98 L591.27,861.03 L589.10,861.07 Z" fill="#7db9e1" fill-opacity="0.2" stroke="none"/>
<polyline points="589.10,858.16 591.27,858.13 593.44,858.10 595.60,858.07 597.77,858.04 599.94,858.00 602.11,857.97 604.28,857.93 606.44,857.89 608.61,857.85 610.78,857.80 612.95,857.76 615.12,857.71 617.28,857.66 619.45,857.62 621.62,857.56 623.79,857.51 625.96,857.46 628.12,857.41 630.29,857.35 632.46,857.29 634.63,857.24 636.80,857.18 638.96,857.12 641.13,857.06 643.30,857.00 645.47,856.93 647.64,856.87 649.80,856.81 651.97,856.74 654.14,856.68 656.31,856.61 658.48,856.54 660.64,856.46 662.81,856.38 664.98,856.29 667.15,856.21 669.32,856.11 671.48,856.02 673.65,855.93 675.82,855.84 677.99,855.75 680.16,855.66 682.32,855.57 684.49,855.48 686.66,855.40 688.83,855.33 691.00,855.25 693.16,855.17 695.33,855.10 697.50,855.02 699.67,854.95 701.84,854.87 704.00,854.80 706.17,854.72 708.34,854.65 710.51,854.58 712.68,854.52 714.84,854.45 717.01,854.39 719.18,854.33 721.35,854.27 723.52,854.21 725.68,854.16 727.85,854.11 730.02,854.06 732.19,854.02 734.36,853.97 736.52,853.93 738.69,853.88 740.86,853.84 743.03,853.80 745.20,853.75 747.36,853.71 749.53,853.67 751.70,853.64 753.87,853.60 756.04,853.56 758.20,853.52 760.37,853.49 762.54,853.45 764.71,853.42 766.88,853.38 769.04,853.35 771.21,853.31 773.38,853.28 775.55,853.25 777.72,853.21 779.88,853.18 782.05,853.15 784.22,853.12 786.39,853.09 788.56,853.06 790.72,853.03 792.89,853.00 795.06,852.97 797.23,852.94 799.40,852.91 801.56,852.88 803.73,852.85 805.90,852.82 808.07,852.79 810.24,852.76 812.40,852.73 814.57,852.70 816.74,852.66 818.91,852.63 821.08,852.61 823.24,852.58 825.41,852.55 827.58,852.52 829.75,852.49 831.92,852.46 834.08,852.44 836.25,852.41 838.42,852.38 840.59,852.36 842.76,852.33 844.92,852.31 847.09,852.28 849.26,852.26 851.43,852.23 853.60,852.21 855.76,852.18 857.93,852.16 860.10,852.13 862.27,852.11 864.44,852.08 866.60,852.06 868.77,852.03 870.94,852.01 873.11,851.98 875.28,851.95 877.44,851.93 879.61,851.90 881.78,851.88 883.95,851.85 886.12,851.82 888.28,851.80 890.45,851.77 892.62,851.74 894.79,851.71 896.96,851.69 899.12,851.66 901.29,851.63 903.46,851.60 905.63,851.57 907.80,851.54 909.96,851.50 912.13,851.47 914.30,851.44 916.47,851.41 918.64,851.38 920.80,851.34 922.97,851.31 925.14,851.28 927.31,851.25 929.48,851.21 931.64,851.18 933.81,851.14 935.98,851.11 938.15,851.08 940.32,851.04 942.48,851.01 944.65,850.97 946.82,850.94 948.99,850.90 951.16,850.87 953.32,850.83 955.49,850.79 957.66,850.76 959.83,850.72 962.00,850.68 964.16,850.65 966.33,850.61 968.50,850.57 970.67,850.53 972.84,850.49 975.00,850.46 977.17,850.42 979.34,850.38 981.51,850.34 983.68,850.30 985.84,850.26 988.01,850.22 990.18,850.18 992.35,850.14 994.52,850.10 996.68,850.06 998.85,850.02 1001.02,849.98 1003.19,849.94 1005.36,849.89 1007.52,849.85 1009.69,849.81 1011.86,849.77 1014.03,849.73 1016.20,849.68 1018.36,849.64 1020.53,849.59 1022.70,849.55 1024.87,849.51" fill="none" stroke="#7db9e1" stroke-width="2" stroke-linejoin="round" />
<polyline points="589.10,861.07 591.27,861.03 593.44,860.98 595.60,860.93 597.77,860.89 599.94,860.83 602.11,860.78 604.28,860.73 606.44,860.67 608.61,860.61 610.78,860.55 612.95,860.49 615.12,860.43 617.28,860.36 619.45,860.30 621.62,860.23 623.79,860.16 625.96,860.09 628.12,860.02 630.29,859.95 632.46,859.88 634.63,859.81 636.80,859.73 638.96,859.66 641.13,859.58 643.30,859.50 645.47,859.43 647.64,859.35 649.80,859.27 651.97,859.19 654.14,859.11 656.31,859.03 658.48,858.94 660.64,858.84 662.81,858.75 664.98,858.65 667.15,858.54 669.32,858.44 671.48,858.33 673.65,858.22 675.82,858.12 677.99,858.01 680.16,857.91 682.32,857.80 684.49,857.70 686.66,857.61 688.83,857.52 691.00,857.43 693.16,857.33 695.33,857.24 697.50,857.15 699.67,857.06 701.84,856.97 704.00,856.89 706.17,856.80 708.34,856.71 710.51,856.63 712.68,856.55 714.84,856.47 717.01,856.39 719.18,856.32 721.35,856.25 723.52,856.18 725.68,856.11 727.85,856.05 730.02,855.99 732.19,855.93 734.36,855.87 736.52,855.81 738.69,855.75 740.86,855.70 743.03,855.64 745.20,855.59 747.36,855.53 749.53,855.48 751.70,855.43 753.87,855.38 756.04,855.33 758.20,855.28 760.37,855.23 762.54,855.18 764.71,855.13 766.88,855.09 769.04,855.04 771.21,854.99 773.38,854.95 775.55,854.90 777.72,854.86 779.88,854.82 782.05,854.77 784.22,854.73 786.39,854.69 788.56,854.64 790.72,854.60 792.89,854.56 795.06,854.52 797.23,854.47 799.40,854.43 801.56,854.39 803.73,854.35 805.90,854.31 808.07,854.27 810.24,854.23 812.40,854.19 814.57,854.14 816.74,854.10 818.91,854.06 821.08,854.02 823.24,853.98 825.41,853.94 827.58,853.90 829.75,853.87 831.92,853.83 834.08,853.79 836.25,853.75 838.42,853.72 840.59,853.68 842.76,853.65 844.92,853.61 847.09,853.57 849.26,853.54 851.43,853.50 853.60,853.47 855.76,853.44 857.93,853.40 860.10,853.37 862.27,853.33 864.44,853.30 866.60,853.26 868.77,853.23 870.94,853.20 873.11,853.16 875.28,853.13 877.44,853.09 879.61,853.06 881.78,853.02 883.95,852.99 886.12,852.95 888.28,852.92 890.45,852.88 892.62,852.85 894.79,852.81 896.96,852.77 899.12,852.74 901.29,852.70 903.46,852.66 905.63,852.62 907.80,852.58 909.96,852.54 912.13,852.51 914.30,852.47 916.47,852.43 918.64,852.39 920.80,852.35 922.97,852.31 925.14,852.27 927.31,852.23 929.48,852.19 931.64,852.15 933.81,852.11 935.98,852.07 938.15,852.03 940.32,851.98 942.48,851.94 944.65,851.90 946.82,851.86 948.99,851.82 951.16,851.78 953.32,851.74 955.49,851.69 957.66,851.65 959.83,851.61 962.00,851.57 964.16,851.53 966.33,851.48 968.50,851.44 970.67,851.40 972.84,851.36 975.00,851.31 977.17,851.27 979.34,851.23 981.51,851.18 983.68,851.14 985.84,851.10 988.01,851.05 990.18,851.01 992.35,850.97 994.52,850.92 996.68,850.88 998.85,850.83 1001.02,850.79 1003.19,850.75 1005.36,850.70 1007.52,850.66 1009.69,850.61 1011.86,850.57 1014.03,850.52 1016.20,850.48 1018.36,850.43 1020.53,850.39 1022.70,850.35 1024.87,850.30" fill="none" stroke="#7db9e1" stroke-width="2" stroke-linejoin="round" />
<polyline points="589.10,859.62 591.27,859.58 593.44,859.54 595.60,859.50 597.77,859.46 599.94,859.42 602.11,859.37 604.28,859.33 606.44,859.28 608.61,859.23 610.78,859.18 612.95,859.12 615.12,859.07 617.28,859.01 619.45,858.96 621.62,858.90 623.79,858.84 625.96,858.78 628.12,858.71 630.29,858.65 632.46,858.59 634.63,858.52 636.80,858.45 638.96,858.39 641.13,858.32 643.30,858.25 645.47,858.18 647.64,858.11 649.80,858.04 651.97,857.97 654.14,857.89 656.31,857.82 658.48,857.74 660.64,857.65 662.81,857.56 664.98,857.47 667.15,857.37 669.32,857.28 671.48,857.18 673.65,857.08 675.82,856.98 677.99,856.88 680.16,856.78 682.32,856.69 684.49,856.59 686.66,856.51 688.83,856.42 691.00,856.34 693.16,856.25 695.33,856.17 697.50,856.09 699.67,856.01 701.84,855.92 704.00,855.84 706.17,855.76 708.34,855.68 710.51,855.61 712.68,855.53 714.84,855.46 717.01,855.39 719.18,855.32 721.35,855.26 723.52,855.19 725.68,855.14 727.85,855.08 730.02,855.03 732.19,854.97 734.36,854.92 736.52,854.87 738.69,854.82 740.86,854.77 743.03,854.72 745.20,854.67 747.36,854.62 749.53,854.58 751.70,854.53 753.87,854.49 756.04,854.44 758.20,854.40 760.37,854.36 762.54,854.32 764.71,854.27 766.88,854.23 769.04,854.19 771.21,854.15 773.38,854.11 775.55,854.08 777.72,854.04 779.88,854.00 782.05,853.96 784.22,853.92 786.39,853.89 788.56,853.85 790.72,853.81 792.89,853.78 795.06,853.74 797.23,853.71 799.40,853.67 801.56,853.63 803.73,853.60 805.90,853.56 808.07,853.53 810.24,853.49 812.40,853.46 814.57,853.42 816.74,853.38 818.91,853.35 821.08,853.31 823.24,853.28 825.41,853.25 827.58,853.21 829.75,853.18 831.92,853.15 834.08,853.11 836.25,853.08 838.42,853.05 840.59,853.02 842.76,852.99 844.92,852.96 847.09,852.93 849.26,852.90 851.43,852.87 853.60,852.84 855.76,852.81 857.93,852.78 860.10,852.75 862.27,852.72 864.44,852.69 866.60,852.66 868.77,852.63 870.94,852.60 873.11,852.57 875.28,852.54 877.44,852.51 879.61,852.48 881.78,852.45 883.95,852.42 886.12,852.39 888.28,852.36 890.45,852.33 892.62,852.29 894.79,852.26 896.96,852.23 899.12,852.20 901.29,852.16 903.46,852.13 905.63,852.09 907.80,852.06 909.96,852.02 912.13,851.99 914.30,851.95 916.47,851.92 918.64,851.88 920.80,851.85 922.97,851.81 925.14,851.77 927.31,851.74 929.48,851.70 931.64,851.66 933.81,851.63 935.98,851.59 938.15,851.55 940.32,851.51 942.48,851.48 944.65,851.44 946.82,851.40 948.99,851.36 951.16,851.32 953.32,851.28 955.49,851.24 957.66,851.20 959.83,851.17 962.00,851.13 964.16,851.09 966.33,851.05 968.50,851.01 970.67,850.97 972.84,850.93 975.00,850.88 977.17,850.84 979.34,850.80 981.51,850.76 983.68,850.72 985.84,850.68 988.01,850.64 990.18,850.60 992.35,850.55 994.52,850.51 996.68,850.47 998.85,850.43 1001.02,850.38 1003.19,850.34 1005.36,850.30 1007.52,850.26 1009.69,850.21 1011.86,850.17 1014.03,850.12 1016.20,850.08 1018.36,850.04 1020.53,849.99 1022.70,849.95 1024.87,849.90" fill="none" stroke="#7db9e1" stroke-width="2.4" stroke-linejoin="round" stroke-dasharray="6,5"/>
<line x1="694.31" y1="855.41" x2="701.18" y2="855.41" stroke="#7db9e1" stroke-width="1.8" />
<line x1="697.75" y1="854.60" x2="697.75" y2="856.21" stroke="#7db9e1" stroke-width="1.8" />
<line x1="703.99" y1="854.78" x2="710.68" y2="854.78" stroke="#7db9e1" stroke-width="1.8" />
<line x1="707.34" y1="854.02" x2="707.34" y2="855.55" stroke="#7db9e1" stroke-width="1.8" />
<line x1="648.15" y1="858.25" x2="655.24" y2="858.25" stroke="#7db9e1" stroke-width="1.8" />
<line x1="651.69" y1="857.62" x2="651.69" y2="858.89" stroke="#7db9e1" stroke-width="1.8" />
<line x1="841.67" y1="852.83" x2="849.15" y2="852.83" stroke="#7db9e1" stroke-width="1.8" />
<line x1="773.72" y1="853.03" x2="784.48" y2="853.03" stroke="#7db9e1" stroke-width="1.8" />
<line x1="779.10" y1="851.56" x2="779.10" y2="854.49" stroke="#7db9e1" stroke-width="1.8" />
<line x1="644.27" y1="858.29" x2="660.57" y2="858.29" stroke="#7db9e1" stroke-width="1.8" />
<line x1="656.16" y1="857.01" x2="671.95" y2="857.01" stroke="#7db9e1" stroke-width="1.8" />
<line x1="758.36" y1="853.80" x2="772.03" y2="853.80" stroke="#7db9e1" stroke-width="1.8" />
<line x1="765.20" y1="853.25" x2="765.20" y2="854.36" stroke="#7db9e1" stroke-width="1.8" />
<line x1="751.03" y1="854.20" x2="759.50" y2="854.20" stroke="#7db9e1" stroke-width="1.8" />
<line x1="755.27" y1="853.18" x2="755.27" y2="855.22" stroke="#7db9e1" stroke-width="1.8" />
<line x1="717.66" y1="855.11" x2="727.43" y2="855.11" stroke="#7db9e1" stroke-width="1.8" />
<line x1="722.55" y1="854.24" x2="722.55" y2="855.99" stroke="#7db9e1" stroke-width="1.8" />
<line x1="721.98" y1="855.48" x2="736.37" y2="855.48" stroke="#7db9e1" stroke-width="1.8" />
<line x1="756.92" y1="852.96" x2="769.22" y2="852.96" stroke="#7db9e1" stroke-width="1.8" />
<line x1="763.07" y1="851.65" x2="763.07" y2="854.27" stroke="#7db9e1" stroke-width="1.8" />
<line x1="808.18" y1="853.99" x2="815.59" y2="853.99" stroke="#7db9e1" stroke-width="1.8" />
<line x1="811.88" y1="853.36" x2="811.88" y2="854.62" stroke="#7db9e1" stroke-width="1.8" />
<line x1="817.29" y1="851.15" x2="825.11" y2="851.15" stroke="#7db9e1" stroke-width="1.8" />
<line x1="821.20" y1="850.42" x2="821.20" y2="851.88" stroke="#7db9e1" stroke-width="1.8" />
<line x1="645.39" y1="858.64" x2="658.26" y2="858.64" stroke="#7db9e1" stroke-width="1.8" />
<line x1="651.82" y1="857.32" x2="651.82" y2="859.95" stroke="#7db9e1" stroke-width="1.8" />
<line x1="688.35" y1="857.34" x2="702.70" y2="857.34" stroke="#7db9e1" stroke-width="1.8" />
<line x1="695.52" y1="856.45" x2="695.52" y2="858.23" stroke="#7db9e1" stroke-width="1.8" />
<line x1="756.02" y1="855.74" x2="773.36" y2="855.74" stroke="#7db9e1" stroke-width="1.8" />
<line x1="764.69" y1="855.03" x2="764.69" y2="856.45" stroke="#7db9e1" stroke-width="1.8" />
<line x1="787.25" y1="853.40" x2="793.98" y2="853.40" stroke="#7db9e1" stroke-width="1.8" />
<line x1="790.62" y1="852.35" x2="790.62" y2="854.45" stroke="#7db9e1" stroke-width="1.8" />
<line x1="780.53" y1="852.43" x2="789.95" y2="852.43" stroke="#7db9e1" stroke-width="1.8" />
<line x1="785.24" y1="851.85" x2="785.24" y2="853.01" stroke="#7db9e1" stroke-width="1.8" />
<line x1="788.92" y1="853.86" x2="795.19" y2="853.86" stroke="#7db9e1" stroke-width="1.8" />
<line x1="792.05" y1="853.16" x2="792.05" y2="854.55" stroke="#7db9e1" stroke-width="1.8" />
<line x1="660.12" y1="857.14" x2="675.34" y2="857.14" stroke="#7db9e1" stroke-width="1.8" />
<line x1="676.51" y1="856.52" x2="687.21" y2="856.52" stroke="#7db9e1" stroke-width="1.8" />
<line x1="681.86" y1="855.21" x2="681.86" y2="857.83" stroke="#7db9e1" stroke-width="1.8" />
<line x1="647.45" y1="858.79" x2="664.06" y2="858.79" stroke="#7db9e1" stroke-width="1.8" />
<line x1="655.76" y1="857.56" x2="655.76" y2="860.02" stroke="#7db9e1" stroke-width="1.8" />
<line x1="854.06" y1="852.45" x2="863.40" y2="852.45" stroke="#7db9e1" stroke-width="1.8" />
<line x1="858.73" y1="851.83" x2="858.73" y2="853.08" stroke="#7db9e1" stroke-width="1.8" />
<line x1="701.81" y1="854.29" x2="709.62" y2="854.29" stroke="#7db9e1" stroke-width="1.8" />
<line x1="674.47" y1="858.17" x2="683.27" y2="858.17" stroke="#7db9e1" stroke-width="1.8" />
<line x1="678.87" y1="857.44" x2="678.87" y2="858.90" stroke="#7db9e1" stroke-width="1.8" />
<line x1="761.93" y1="854.23" x2="772.96" y2="854.23" stroke="#7db9e1" stroke-width="1.8" />
<line x1="767.44" y1="853.67" x2="767.44" y2="854.78" stroke="#7db9e1" stroke-width="1.8" />
<line x1="751.97" y1="854.28" x2="769.40" y2="854.28" stroke="#7db9e1" stroke-width="1.8" />
<line x1="760.69" y1="853.24" x2="760.69" y2="855.32" stroke="#7db9e1" stroke-width="1.8" />
<line x1="742.77" y1="855.53" x2="749.42" y2="855.53" stroke="#7db9e1" stroke-width="1.8" />
<line x1="746.09" y1="854.18" x2="746.09" y2="856.88" stroke="#7db9e1" stroke-width="1.8" />
<line x1="820.76" y1="853.99" x2="837.26" y2="853.99" stroke="#7db9e1" stroke-width="1.8" />
<line x1="829.01" y1="852.80" x2="829.01" y2="855.19" stroke="#7db9e1" stroke-width="1.8" />
<line x1="706.94" y1="855.80" x2="720.55" y2="855.80" stroke="#7db9e1" stroke-width="1.8" />
<line x1="650.10" y1="857.67" x2="658.60" y2="857.67" stroke="#7db9e1" stroke-width="1.8" />
<line x1="697.49" y1="855.92" x2="705.30" y2="855.92" stroke="#7db9e1" stroke-width="1.8" />
<line x1="703.69" y1="855.73" x2="710.00" y2="855.73" stroke="#7db9e1" stroke-width="1.8" />
<line x1="706.85" y1="854.42" x2="706.85" y2="857.04" stroke="#7db9e1" stroke-width="1.8" />
<line x1="769.91" y1="853.72" x2="780.08" y2="853.72" stroke="#7db9e1" stroke-width="1.8" />
<line x1="774.99" y1="853.18" x2="774.99" y2="854.27" stroke="#7db9e1" stroke-width="1.8" />
<line x1="652.91" y1="857.15" x2="669.10" y2="857.15" stroke="#7db9e1" stroke-width="1.8" />
<line x1="661.01" y1="855.66" x2="661.01" y2="858.64" stroke="#7db9e1" stroke-width="1.8" />
<line x1="728.95" y1="855.30" x2="736.17" y2="855.30" stroke="#7db9e1" stroke-width="1.8" />
<line x1="732.56" y1="854.78" x2="732.56" y2="855.81" stroke="#7db9e1" stroke-width="1.8" />
<line x1="677.27" y1="856.53" x2="693.22" y2="856.53" stroke="#7db9e1" stroke-width="1.8" />
<line x1="646.84" y1="857.08" x2="654.60" y2="857.08" stroke="#7db9e1" stroke-width="1.8" />
<line x1="650.72" y1="856.27" x2="650.72" y2="857.89" stroke="#7db9e1" stroke-width="1.8" />
<line x1="644.79" y1="858.30" x2="657.13" y2="858.30" stroke="#7db9e1" stroke-width="1.8" />
<line x1="650.96" y1="856.83" x2="650.96" y2="859.76" stroke="#7db9e1" stroke-width="1.8" />
<line x1="853.29" y1="852.98" x2="863.69" y2="852.98" stroke="#7db9e1" stroke-width="1.8" />
<line x1="820.06" y1="853.82" x2="832.45" y2="853.82" stroke="#7db9e1" stroke-width="1.8" />
<line x1="826.25" y1="852.65" x2="826.25" y2="854.98" stroke="#7db9e1" stroke-width="1.8" />
<line x1="690.14" y1="855.78" x2="707.96" y2="855.78" stroke="#7db9e1" stroke-width="1.8" />
<line x1="699.05" y1="854.50" x2="699.05" y2="857.06" stroke="#7db9e1" stroke-width="1.8" />
<line x1="830.18" y1="851.62" x2="846.00" y2="851.62" stroke="#7db9e1" stroke-width="1.8" />
<line x1="838.09" y1="850.52" x2="838.09" y2="852.73" stroke="#7db9e1" stroke-width="1.8" />
<line x1="674.72" y1="857.62" x2="681.07" y2="857.62" stroke="#7db9e1" stroke-width="1.8" />
<line x1="683.67" y1="856.53" x2="692.78" y2="856.53" stroke="#7db9e1" stroke-width="1.8" />
<line x1="688.23" y1="855.49" x2="688.23" y2="857.57" stroke="#7db9e1" stroke-width="1.8" />
<line x1="884.25" y1="854.05" x2="902.11" y2="854.05" stroke="#7db9e1" stroke-width="1.8" />
<line x1="893.18" y1="852.62" x2="893.18" y2="855.49" stroke="#7db9e1" stroke-width="1.8" />
<line x1="702.76" y1="855.12" x2="711.41" y2="855.12" stroke="#7db9e1" stroke-width="1.8" />
<line x1="664.10" y1="856.82" x2="680.90" y2="856.82" stroke="#7db9e1" stroke-width="1.8" />
<line x1="672.50" y1="855.56" x2="672.50" y2="858.08" stroke="#7db9e1" stroke-width="1.8" />
<line x1="729.26" y1="853.81" x2="743.10" y2="853.81" stroke="#7db9e1" stroke-width="1.8" />
<line x1="736.18" y1="852.61" x2="736.18" y2="855.01" stroke="#7db9e1" stroke-width="1.8" />
<line x1="648.53" y1="858.75" x2="663.92" y2="858.75" stroke="#7db9e1" stroke-width="1.8" />
<line x1="656.23" y1="857.63" x2="656.23" y2="859.88" stroke="#7db9e1" stroke-width="1.8" />
<line x1="731.72" y1="856.36" x2="739.86" y2="856.36" stroke="#7db9e1" stroke-width="1.8" />
<line x1="735.79" y1="855.18" x2="735.79" y2="857.54" stroke="#7db9e1" stroke-width="1.8" />
<line x1="694.31" y1="855.34" x2="705.06" y2="855.34" stroke="#7db9e1" stroke-width="1.8" />
<line x1="699.69" y1="854.74" x2="699.69" y2="855.94" stroke="#7db9e1" stroke-width="1.8" />
<line x1="882.13" y1="854.35" x2="896.83" y2="854.35" stroke="#7db9e1" stroke-width="1.8" />
<line x1="653.74" y1="856.61" x2="669.42" y2="856.61" stroke="#7db9e1" stroke-width="1.8" />
<line x1="836.41" y1="851.55" x2="854.17" y2="851.55" stroke="#7db9e1" stroke-width="1.8" />
<line x1="845.29" y1="850.57" x2="845.29" y2="852.54" stroke="#7db9e1" stroke-width="1.8" />
<line x1="700.68" y1="856.25" x2="706.85" y2="856.25" stroke="#7db9e1" stroke-width="1.8" />
<line x1="703.77" y1="854.80" x2="703.77" y2="857.71" stroke="#7db9e1" stroke-width="1.8" />
<line x1="779.88" y1="854.02" x2="792.20" y2="854.02" stroke="#7db9e1" stroke-width="1.8" />
<line x1="786.04" y1="852.62" x2="786.04" y2="855.42" stroke="#7db9e1" stroke-width="1.8" />
<line x1="719.87" y1="854.15" x2="728.40" y2="854.15" stroke="#7db9e1" stroke-width="1.8" />
<line x1="686.61" y1="857.41" x2="695.50" y2="857.41" stroke="#7db9e1" stroke-width="1.8" />
<line x1="691.06" y1="856.53" x2="691.06" y2="858.29" stroke="#7db9e1" stroke-width="1.8" />
<line x1="675.71" y1="856.98" x2="692.63" y2="856.98" stroke="#7db9e1" stroke-width="1.8" />
<line x1="684.17" y1="856.44" x2="684.17" y2="857.51" stroke="#7db9e1" stroke-width="1.8" />
<line x1="723.98" y1="854.81" x2="736.98" y2="854.81" stroke="#7db9e1" stroke-width="1.8" />
<line x1="730.48" y1="853.45" x2="730.48" y2="856.17" stroke="#7db9e1" stroke-width="1.8" />
<line x1="714.59" y1="854.46" x2="726.97" y2="854.46" stroke="#7db9e1" stroke-width="1.8" />
<line x1="720.78" y1="853.67" x2="720.78" y2="855.24" stroke="#7db9e1" stroke-width="1.8" />
<line x1="644.83" y1="858.48" x2="656.11" y2="858.48" stroke="#7db9e1" stroke-width="1.8" />
<line x1="644.03" y1="857.89" x2="655.71" y2="857.89" stroke="#7db9e1" stroke-width="1.8" />
<line x1="649.87" y1="856.80" x2="649.87" y2="858.98" stroke="#7db9e1" stroke-width="1.8" />
<line x1="752.84" y1="854.87" x2="762.76" y2="854.87" stroke="#7db9e1" stroke-width="1.8" />
<line x1="757.80" y1="854.10" x2="757.80" y2="855.65" stroke="#7db9e1" stroke-width="1.8" />
<line x1="751.14" y1="854.33" x2="763.86" y2="854.33" stroke="#7db9e1" stroke-width="1.8" />
<line x1="680.08" y1="856.83" x2="695.35" y2="856.83" stroke="#7db9e1" stroke-width="1.8" />
<line x1="687.71" y1="856.07" x2="687.71" y2="857.59" stroke="#7db9e1" stroke-width="1.8" />
<line x1="753.67" y1="854.27" x2="764.99" y2="854.27" stroke="#7db9e1" stroke-width="1.8" />
<line x1="759.33" y1="853.35" x2="759.33" y2="855.19" stroke="#7db9e1" stroke-width="1.8" />
<line x1="737.25" y1="856.46" x2="749.39" y2="856.46" stroke="#7db9e1" stroke-width="1.8" />
<line x1="743.32" y1="855.42" x2="743.32" y2="857.50" stroke="#7db9e1" stroke-width="1.8" />
<line x1="720.30" y1="855.94" x2="737.60" y2="855.94" stroke="#7db9e1" stroke-width="1.8" />
<line x1="728.95" y1="854.89" x2="728.95" y2="856.99" stroke="#7db9e1" stroke-width="1.8" />
<line x1="854.65" y1="852.89" x2="871.96" y2="852.89" stroke="#7db9e1" stroke-width="1.8" />
<line x1="754.86" y1="852.97" x2="762.51" y2="852.97" stroke="#7db9e1" stroke-width="1.8" />
<line x1="722.85" y1="855.65" x2="729.72" y2="855.65" stroke="#7db9e1" stroke-width="1.8" />
<line x1="646.57" y1="858.54" x2="663.33" y2="858.54" stroke="#7db9e1" stroke-width="1.8" />
<line x1="800.50" y1="854.75" x2="814.42" y2="854.75" stroke="#7db9e1" stroke-width="1.8" />
<line x1="856.89" y1="852.13" x2="874.32" y2="852.13" stroke="#7db9e1" stroke-width="1.8" />
<line x1="865.61" y1="851.53" x2="865.61" y2="852.72" stroke="#7db9e1" stroke-width="1.8" />
<line x1="729.35" y1="854.94" x2="747.23" y2="854.94" stroke="#7db9e1" stroke-width="1.8" />
<line x1="738.29" y1="853.69" x2="738.29" y2="856.19" stroke="#7db9e1" stroke-width="1.8" />
<line x1="661.65" y1="858.26" x2="671.72" y2="858.26" stroke="#7db9e1" stroke-width="1.8" />
<line x1="689.24" y1="855.72" x2="703.91" y2="855.72" stroke="#7db9e1" stroke-width="1.8" />
<line x1="752.11" y1="854.56" x2="762.08" y2="854.56" stroke="#7db9e1" stroke-width="1.8" />
<line x1="757.10" y1="853.63" x2="757.10" y2="855.50" stroke="#7db9e1" stroke-width="1.8" />
<line x1="741.80" y1="854.62" x2="748.57" y2="854.62" stroke="#7db9e1" stroke-width="1.8" />
<line x1="745.19" y1="853.14" x2="745.19" y2="856.09" stroke="#7db9e1" stroke-width="1.8" />
<line x1="827.32" y1="852.78" x2="836.51" y2="852.78" stroke="#7db9e1" stroke-width="1.8" />
<line x1="824.05" y1="853.26" x2="833.30" y2="853.26" stroke="#7db9e1" stroke-width="1.8" />
<line x1="716.64" y1="854.01" x2="725.74" y2="854.01" stroke="#7db9e1" stroke-width="1.8" />
<line x1="872.64" y1="853.26" x2="885.49" y2="853.26" stroke="#7db9e1" stroke-width="1.8" />
<line x1="879.07" y1="852.21" x2="879.07" y2="854.31" stroke="#7db9e1" stroke-width="1.8" />
<line x1="651.21" y1="856.67" x2="662.32" y2="856.67" stroke="#7db9e1" stroke-width="1.8" />
<line x1="879.47" y1="851.96" x2="893.09" y2="851.96" stroke="#7db9e1" stroke-width="1.8" />
<line x1="886.28" y1="850.75" x2="886.28" y2="853.16" stroke="#7db9e1" stroke-width="1.8" />
<line x1="647.93" y1="857.64" x2="664.29" y2="857.64" stroke="#7db9e1" stroke-width="1.8" />
<line x1="656.11" y1="856.96" x2="656.11" y2="858.32" stroke="#7db9e1" stroke-width="1.8" />
<line x1="694.87" y1="856.18" x2="707.51" y2="856.18" stroke="#7db9e1" stroke-width="1.8" />
<line x1="701.19" y1="854.79" x2="701.19" y2="857.57" stroke="#7db9e1" stroke-width="1.8" />
<line x1="681.44" y1="855.87" x2="690.30" y2="855.87" stroke="#7db9e1" stroke-width="1.8" />
<line x1="663.38" y1="856.69" x2="669.98" y2="856.69" stroke="#7db9e1" stroke-width="1.8" />
<line x1="690.40" y1="856.63" x2="699.88" y2="856.63" stroke="#7db9e1" stroke-width="1.8" />
<line x1="695.14" y1="855.88" x2="695.14" y2="857.38" stroke="#7db9e1" stroke-width="1.8" />
<line x1="664.24" y1="856.01" x2="674.41" y2="856.01" stroke="#7db9e1" stroke-width="1.8" />
<line x1="676.11" y1="855.40" x2="688.72" y2="855.40" stroke="#7db9e1" stroke-width="1.8" />
<line x1="726.30" y1="854.78" x2="743.52" y2="854.78" stroke="#7db9e1" stroke-width="1.8" />
<line x1="834.59" y1="853.84" x2="850.61" y2="853.84" stroke="#7db9e1" stroke-width="1.8" />
<line x1="842.60" y1="853.25" x2="842.60" y2="854.43" stroke="#7db9e1" stroke-width="1.8" />
<line x1="736.51" y1="854.32" x2="750.76" y2="854.32" stroke="#7db9e1" stroke-width="1.8" />
<line x1="743.64" y1="852.85" x2="743.64" y2="855.80" stroke="#7db9e1" stroke-width="1.8" />
<line x1="695.18" y1="855.30" x2="708.81" y2="855.30" stroke="#7db9e1" stroke-width="1.8" />
<line x1="702.00" y1="854.69" x2="702.00" y2="855.91" stroke="#7db9e1" stroke-width="1.8" />
<line x1="699.78" y1="856.96" x2="706.44" y2="856.96" stroke="#7db9e1" stroke-width="1.8" />
<line x1="650.72" y1="857.91" x2="658.68" y2="857.91" stroke="#7db9e1" stroke-width="1.8" />
<line x1="842.32" y1="853.49" x2="858.77" y2="853.49" stroke="#7db9e1" stroke-width="1.8" />
<line x1="850.55" y1="852.48" x2="850.55" y2="854.49" stroke="#7db9e1" stroke-width="1.8" />
<line x1="682.99" y1="856.39" x2="694.51" y2="856.39" stroke="#7db9e1" stroke-width="1.8" />
<line x1="722.67" y1="854.43" x2="731.83" y2="854.43" stroke="#7db9e1" stroke-width="1.8" />
<line x1="727.25" y1="852.99" x2="727.25" y2="855.88" stroke="#7db9e1" stroke-width="1.8" />
<line x1="890.56" y1="852.76" x2="908.15" y2="852.76" stroke="#7db9e1" stroke-width="1.8" />
<line x1="702.19" y1="855.97" x2="708.21" y2="855.97" stroke="#7db9e1" stroke-width="1.8" />
<line x1="705.20" y1="855.40" x2="705.20" y2="856.54" stroke="#7db9e1" stroke-width="1.8" />
<line x1="728.85" y1="855.44" x2="740.91" y2="855.44" stroke="#7db9e1" stroke-width="1.8" />
<line x1="681.59" y1="856.58" x2="688.67" y2="856.58" stroke="#7db9e1" stroke-width="1.8" />
<line x1="685.13" y1="855.98" x2="685.13" y2="857.18" stroke="#7db9e1" stroke-width="1.8" />
<line x1="647.62" y1="857.30" x2="656.41" y2="857.30" stroke="#7db9e1" stroke-width="1.8" />
<line x1="652.02" y1="856.42" x2="652.02" y2="858.17" stroke="#7db9e1" stroke-width="1.8" />
<line x1="742.45" y1="854.47" x2="757.46" y2="854.47" stroke="#7db9e1" stroke-width="1.8" />
<line x1="749.96" y1="853.49" x2="749.96" y2="855.46" stroke="#7db9e1" stroke-width="1.8" />
<line x1="802.46" y1="852.97" x2="812.38" y2="852.97" stroke="#7db9e1" stroke-width="1.8" />
<line x1="807.42" y1="851.49" x2="807.42" y2="854.44" stroke="#7db9e1" stroke-width="1.8" />
<line x1="657.49" y1="858.02" x2="672.18" y2="858.02" stroke="#7db9e1" stroke-width="1.8" />
<line x1="664.84" y1="857.05" x2="664.84" y2="858.98" stroke="#7db9e1" stroke-width="1.8" />
<line x1="645.42" y1="857.10" x2="658.95" y2="857.10" stroke="#7db9e1" stroke-width="1.8" />
<line x1="652.19" y1="856.00" x2="652.19" y2="858.20" stroke="#7db9e1" stroke-width="1.8" />
<line x1="836.40" y1="854.47" x2="844.08" y2="854.47" stroke="#7db9e1" stroke-width="1.8" />
<line x1="840.24" y1="853.68" x2="840.24" y2="855.25" stroke="#7db9e1" stroke-width="1.8" />
<line x1="735.03" y1="853.99" x2="750.95" y2="853.99" stroke="#7db9e1" stroke-width="1.8" />
<line x1="742.99" y1="853.11" x2="742.99" y2="854.87" stroke="#7db9e1" stroke-width="1.8" />
<line x1="862.19" y1="853.86" x2="876.38" y2="853.86" stroke="#7db9e1" stroke-width="1.8" />
<line x1="869.28" y1="852.82" x2="869.28" y2="854.90" stroke="#7db9e1" stroke-width="1.8" />
<line x1="673.33" y1="856.44" x2="683.65" y2="856.44" stroke="#7db9e1" stroke-width="1.8" />
<line x1="842.25" y1="852.82" x2="854.95" y2="852.82" stroke="#7db9e1" stroke-width="1.8" />
<line x1="848.60" y1="851.88" x2="848.60" y2="853.77" stroke="#7db9e1" stroke-width="1.8" />
<line x1="775.71" y1="854.41" x2="781.75" y2="854.41" stroke="#7db9e1" stroke-width="1.8" />
<line x1="778.73" y1="853.21" x2="778.73" y2="855.60" stroke="#7db9e1" stroke-width="1.8" />
<line x1="812.18" y1="854.20" x2="824.21" y2="854.20" stroke="#7db9e1" stroke-width="1.8" />
<line x1="818.20" y1="853.39" x2="818.20" y2="855.00" stroke="#7db9e1" stroke-width="1.8" />
<circle cx="697.75" cy="855.41" r="4.8" fill="#7db9e1" stroke="none" stroke-width="1" />
<circle cx="707.34" cy="854.78" r="4.8" fill="#7db9e1" stroke="none" stroke-width="1" />
<circle cx="651.69" cy="858.25" r="4.8" fill="#7db9e1" stroke="none" stroke-width="1" />
<circle cx="845.41" cy="852.83" r="4.8" fill="#7db9e1" stroke="none" stroke-width="1" />
<circle cx="779.10" cy="853.03" r="4.8" fill="#7db9e1" stroke="none" stroke-width="1" />
<circle cx="652.42" cy="858.29" r="4.8" fill="#7db9e1" stroke="none" stroke-width="1" />
<circle cx="664.06" cy="857.01" r="4.8" fill="#7db9e1" stroke="none" stroke-width="1" />
<circle cx="765.20" cy="853.80" r="4.8" fill="#7db9e1" stroke="none" stroke-width="1" />
<circle cx="755.27" cy="854.20" r="4.8" fill="#7db9e1" stroke="none" stroke-width="1" />
<circle cx="722.55" cy="855.11" r="4.8" fill="#7db9e1" stroke="none" stroke-width="1" />
<circle cx="729.17" cy="855.48" r="4.8" fill="#7db9e1" stroke="none" stroke-width="1" />
<circle cx="763.07" cy="852.96" r="4.8" fill="#7db9e1" stroke="none" stroke-width="1" />
<circle cx="811.88" cy="853.99" r="4.8" fill="#7db9e1" stroke="none" stroke-width="1" />
<circle cx="821.20" cy="851.15" r="4.8" fill="#7db9e1" stroke="none" stroke-width="1" />
<circle cx="651.82" cy="858.64" r="4.8" fill="#7db9e1" stroke="none" stroke-width="1" />
<circle cx="695.52" cy="857.34" r="4.8" fill="#7db9e1" stroke="none" stroke-width="1" />
<circle cx="764.69" cy="855.74" r="4.8" fill="#7db9e1" stroke="none" stroke-width="1" />
<circle cx="790.62" cy="853.40" r="4.8" fill="#7db9e1" stroke="none" stroke-width="1" />
<circle cx="785.24" cy="852.43" r="4.8" fill="#7db9e1" stroke="none" stroke-width="1" />
<circle cx="792.05" cy="853.86" r="4.8" fill="#7db9e1" stroke="none" stroke-width="1" />
<circle cx="667.73" cy="857.14" r="4.8" fill="#7db9e1" stroke="none" stroke-width="1" />
<circle cx="681.86" cy="856.52" r="4.8" fill="#7db9e1" stroke="none" stroke-width="1" />
<circle cx="655.76" cy="858.79" r="4.8" fill="#7db9e1" stroke="none" stroke-width="1" />
<circle cx="858.73" cy="852.45" r="4.8" fill="#7db9e1" stroke="none" stroke-width="1" />
<circle cx="705.71" cy="854.29" r="4.8" fill="#7db9e1" stroke="none" stroke-width="1" />
<circle cx="678.87" cy="858.17" r="4.8" fill="#7db9e1" stroke="none" stroke-width="1" />
<circle cx="767.44" cy="854.23" r="4.8" fill="#7db9e1" stroke="none" stroke-width="1" />
<circle cx="760.69" cy="854.28" r="4.8" fill="#7db9e1" stroke="none" stroke-width="1" />
<circle cx="746.09" cy="855.53" r="4.8" fill="#7db9e1" stroke="none" stroke-width="1" />
<circle cx="829.01" cy="853.99" r="4.8" fill="#7db9e1" stroke="none" stroke-width="1" />
<circle cx="713.75" cy="855.80" r="4.8" fill="#7db9e1" stroke="none" stroke-width="1" />
<circle cx="654.35" cy="857.67" r="4.8" fill="#7db9e1" stroke="none" stroke-width="1" />
<circle cx="701.39" cy="855.92" r="4.8" fill="#7db9e1" stroke="none" stroke-width="1" />
<circle cx="706.85" cy="855.73" r="4.8" fill="#7db9e1" stroke="none" stroke-width="1" />
<circle cx="774.99" cy="853.72" r="4.8" fill="#7db9e1" stroke="none" stroke-width="1" />
<circle cx="661.01" cy="857.15" r="4.8" fill="#7db9e1" stroke="none" stroke-width="1" />
<circle cx="732.56" cy="855.30" r="4.8" fill="#7db9e1" stroke="none" stroke-width="1" />
<circle cx="685.25" cy="856.53" r="4.8" fill="#7db9e1" stroke="none" stroke-width="1" />
<circle cx="650.72" cy="857.08" r="4.8" fill="#7db9e1" stroke="none" stroke-width="1" />
<circle cx="650.96" cy="858.30" r="4.8" fill="#7db9e1" stroke="none" stroke-width="1" />
<circle cx="858.49" cy="852.98" r="4.8" fill="#7db9e1" stroke="none" stroke-width="1" />
<circle cx="826.25" cy="853.82" r="4.8" fill="#7db9e1" stroke="none" stroke-width="1" />
<circle cx="699.05" cy="855.78" r="4.8" fill="#7db9e1" stroke="none" stroke-width="1" />
<circle cx="838.09" cy="851.62" r="4.8" fill="#7db9e1" stroke="none" stroke-width="1" />
<circle cx="677.89" cy="857.62" r="4.8" fill="#7db9e1" stroke="none" stroke-width="1" />
<circle cx="688.23" cy="856.53" r="4.8" fill="#7db9e1" stroke="none" stroke-width="1" />
<circle cx="893.18" cy="854.05" r="4.8" fill="#7db9e1" stroke="none" stroke-width="1" />
<circle cx="707.09" cy="855.12" r="4.8" fill="#7db9e1" stroke="none" stroke-width="1" />
<circle cx="672.50" cy="856.82" r="4.8" fill="#7db9e1" stroke="none" stroke-width="1" />
<circle cx="736.18" cy="853.81" r="4.8" fill="#7db9e1" stroke="none" stroke-width="1" />
<circle cx="656.23" cy="858.75" r="4.8" fill="#7db9e1" stroke="none" stroke-width="1" />
<circle cx="735.79" cy="856.36" r="4.8" fill="#7db9e1" stroke="none" stroke-width="1" />
<circle cx="699.69" cy="855.34" r="4.8" fill="#7db9e1" stroke="none" stroke-width="1" />
<circle cx="889.48" cy="854.35" r="4.8" fill="#7db9e1" stroke="none" stroke-width="1" />
<circle cx="661.58" cy="856.61" r="4.8" fill="#7db9e1" stroke="none" stroke-width="1" />
<circle cx="845.29" cy="851.55" r="4.8" fill="#7db9e1" stroke="none" stroke-width="1" />
<circle cx="703.77" cy="856.25" r="4.8" fill="#7db9e1" stroke="none" stroke-width="1" />
<circle cx="786.04" cy="854.02" r="4.8" fill="#7db9e1" stroke="none" stroke-width="1" />
<circle cx="724.14" cy="854.15" r="4.8" fill="#7db9e1" stroke="none" stroke-width="1" />
<circle cx="691.06" cy="857.41" r="4.8" fill="#7db9e1" stroke="none" stroke-width="1" />
<circle cx="684.17" cy="856.98" r="4.8" fill="#7db9e1" stroke="none" stroke-width="1" />
<circle cx="730.48" cy="854.81" r="4.8" fill="#7db9e1" stroke="none" stroke-width="1" />
<circle cx="720.78" cy="854.46" r="4.8" fill="#7db9e1" stroke="none" stroke-width="1" />
<circle cx="650.47" cy="858.48" r="4.8" fill="#7db9e1" stroke="none" stroke-width="1" />
<circle cx="649.87" cy="857.89" r="4.8" fill="#7db9e1" stroke="none" stroke-width="1" />
<circle cx="757.80" cy="854.87" r="4.8" fill="#7db9e1" stroke="none" stroke-width="1" />
<circle cx="757.50" cy="854.33" r="4.8" fill="#7db9e1" stroke="none" stroke-width="1" />
<circle cx="687.71" cy="856.83" r="4.8" fill="#7db9e1" stroke="none" stroke-width="1" />
<circle cx="759.33" cy="854.27" r="4.8" fill="#7db9e1" stroke="none" stroke-width="1" />
<circle cx="743.32" cy="856.46" r="4.8" fill="#7db9e1" stroke="none" stroke-width="1" />
<circle cx="728.95" cy="855.94" r="4.8" fill="#7db9e1" stroke="none" stroke-width="1" />
<circle cx="863.30" cy="852.89" r="4.8" fill="#7db9e1" stroke="none" stroke-width="1" />
<circle cx="758.69" cy="852.97" r="4.8" fill="#7db9e1" stroke="none" stroke-width="1" />
<circle cx="726.28" cy="855.65" r="4.8" fill="#7db9e1" stroke="none" stroke-width="1" />
<circle cx="654.95" cy="858.54" r="4.8" fill="#7db9e1" stroke="none" stroke-width="1" />
<circle cx="807.46" cy="854.75" r="4.8" fill="#7db9e1" stroke="none" stroke-width="1" />
<circle cx="865.61" cy="852.13" r="4.8" fill="#7db9e1" stroke="none" stroke-width="1" />
<circle cx="738.29" cy="854.94" r="4.8" fill="#7db9e1" stroke="none" stroke-width="1" />
<circle cx="666.68" cy="858.26" r="4.8" fill="#7db9e1" stroke="none" stroke-width="1" />
<circle cx="696.57" cy="855.72" r="4.8" fill="#7db9e1" stroke="none" stroke-width="1" />
<circle cx="757.10" cy="854.56" r="4.8" fill="#7db9e1" stroke="none" stroke-width="1" />
<circle cx="745.19" cy="854.62" r="4.8" fill="#7db9e1" stroke="none" stroke-width="1" />
<circle cx="831.91" cy="852.78" r="4.8" fill="#7db9e1" stroke="none" stroke-width="1" />
<circle cx="828.68" cy="853.26" r="4.8" fill="#7db9e1" stroke="none" stroke-width="1" />
<circle cx="721.19" cy="854.01" r="4.8" fill="#7db9e1" stroke="none" stroke-width="1" />
<circle cx="879.07" cy="853.26" r="4.8" fill="#7db9e1" stroke="none" stroke-width="1" />
<circle cx="656.77" cy="856.67" r="4.8" fill="#7db9e1" stroke="none" stroke-width="1" />
<circle cx="886.28" cy="851.96" r="4.8" fill="#7db9e1" stroke="none" stroke-width="1" />
<circle cx="656.11" cy="857.64" r="4.8" fill="#7db9e1" stroke="none" stroke-width="1" />
<circle cx="701.19" cy="856.18" r="4.8" fill="#7db9e1" stroke="none" stroke-width="1" />
<circle cx="685.87" cy="855.87" r="4.8" fill="#7db9e1" stroke="none" stroke-width="1" />
<circle cx="666.68" cy="856.69" r="4.8" fill="#7db9e1" stroke="none" stroke-width="1" />
<circle cx="695.14" cy="856.63" r="4.8" fill="#7db9e1" stroke="none" stroke-width="1" />
<circle cx="669.33" cy="856.01" r="4.8" fill="#7db9e1" stroke="none" stroke-width="1" />
<circle cx="682.41" cy="855.40" r="4.8" fill="#7db9e1" stroke="none" stroke-width="1" />
<circle cx="734.91" cy="854.78" r="4.8" fill="#7db9e1" stroke="none" stroke-width="1" />
<circle cx="842.60" cy="853.84" r="4.8" fill="#7db9e1" stroke="none" stroke-width="1" />
<circle cx="743.64" cy="854.32" r="4.8" fill="#7db9e1" stroke="none" stroke-width="1" />
<circle cx="702.00" cy="855.30" r="4.8" fill="#7db9e1" stroke="none" stroke-width="1" />
<circle cx="703.11" cy="856.96" r="4.8" fill="#7db9e1" stroke="none" stroke-width="1" />
<circle cx="654.70" cy="857.91" r="4.8" fill="#7db9e1" stroke="none" stroke-width="1" />
<circle cx="850.55" cy="853.49" r="4.8" fill="#7db9e1" stroke="none" stroke-width="1" />
<circle cx="688.75" cy="856.39" r="4.8" fill="#7db9e1" stroke="none" stroke-width="1" />
<circle cx="727.25" cy="854.43" r="4.8" fill="#7db9e1" stroke="none" stroke-width="1" />
<circle cx="899.35" cy="852.76" r="4.8" fill="#7db9e1" stroke="none" stroke-width="1" />
<circle cx="705.20" cy="855.97" r="4.8" fill="#7db9e1" stroke="none" stroke-width="1" />
<circle cx="734.88" cy="855.44" r="4.8" fill="#7db9e1" stroke="none" stroke-width="1" />
<circle cx="685.13" cy="856.58" r="4.8" fill="#7db9e1" stroke="none" stroke-width="1" />
<circle cx="652.02" cy="857.30" r="4.8" fill="#7db9e1" stroke="none" stroke-width="1" />
<circle cx="749.96" cy="854.47" r="4.8" fill="#7db9e1" stroke="none" stroke-width="1" />
<circle cx="807.42" cy="852.97" r="4.8" fill="#7db9e1" stroke="none" stroke-width="1" />
<circle cx="664.84" cy="858.02" r="4.8" fill="#7db9e1" stroke="none" stroke-width="1" />
<circle cx="652.19" cy="857.10" r="4.8" fill="#7db9e1" stroke="none" stroke-width="1" />
<circle cx="840.24" cy="854.47" r="4.8" fill="#7db9e1" stroke="none" stroke-width="1" />
<circle cx="742.99" cy="853.99" r="4.8" fill="#7db9e1" stroke="none" stroke-width="1" />
<circle cx="869.28" cy="853.86" r="4.8" fill="#7db9e1" stroke="none" stroke-width="1" />
<circle cx="678.49" cy="856.44" r="4.8" fill="#7db9e1" stroke="none" stroke-width="1" />
<circle cx="848.60" cy="852.82" r="4.8" fill="#7db9e1" stroke="none" stroke-width="1" />
<circle cx="778.73" cy="854.41" r="4.8" fill="#7db9e1" stroke="none" stroke-width="1" />
<circle cx="818.20" cy="854.20" r="4.8" fill="#7db9e1" stroke="none" stroke-width="1" />
<rect x="1017.00" y="524.80" width="12.20" height="12.20" fill="#1c75b5" stroke="none" stroke-width="1" />
<rect x="1017.00" y="689.82" width="12.20" height="12.20" fill="#d65b27" stroke="none" stroke-width="1" />
<rect x="1017.00" y="773.12" width="12.20" height="12.20" fill="#2ea87a" stroke="none" stroke-width="1" />
<rect x="1017.00" y="814.05" width="12.20" height="12.20" fill="#d27aad" stroke="none" stroke-width="1" />
<rect x="1017.00" y="855.90" width="12.20" height="12.20" fill="#7db9e1" stroke="none" stroke-width="1" />
</svg></body></html>
